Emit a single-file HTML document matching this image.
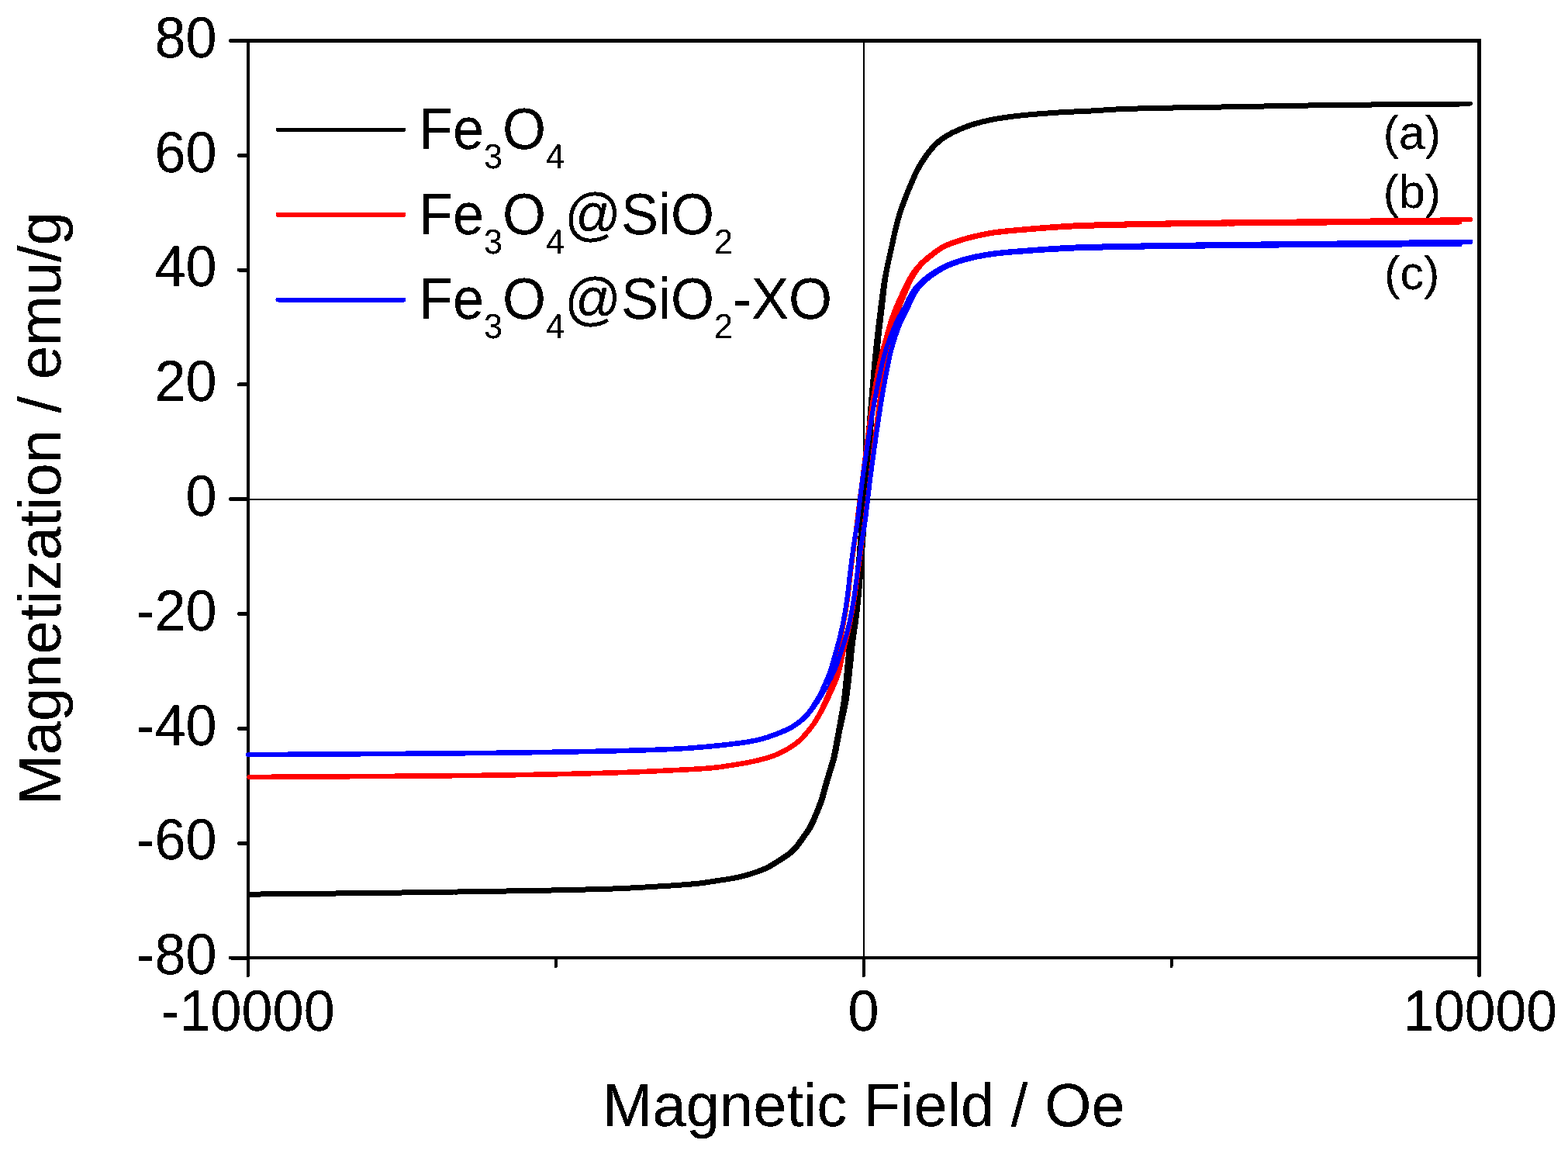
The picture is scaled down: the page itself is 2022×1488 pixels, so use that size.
<!DOCTYPE html>
<html lang="en">
<head>
<meta charset="utf-8">
<title>Magnetization curves</title>
<style>
html,body{margin:0;padding:0;background:#fff;}
body{width:2022px;height:1488px;overflow:hidden;font-family:"Liberation Sans",Arial,sans-serif;}
svg{display:block;}
</style>
</head>
<body>
<svg width="2022" height="1488" viewBox="0 0 2022 1488" shape-rendering="crispEdges" text-rendering="geometricPrecision">
<defs>
<filter id="crisp" x="0" y="0" width="2022" height="1488" filterUnits="userSpaceOnUse" color-interpolation-filters="sRGB">
<feComponentTransfer><feFuncA type="discrete" tableValues="0 0 1 1 1"/></feComponentTransfer>
</filter>
</defs>
<rect width="2022" height="1488" fill="#fff"/>
<g id="zero">
<rect x="1113" y="52" width="2" height="1183" fill="#000"/>
<rect x="320" y="642.5" width="1587" height="2" fill="#000"/>
</g>
<g id="frame">
<rect x="318" y="50" width="4" height="1187" fill="#000"/>
<rect x="1905" y="50" width="5" height="1187" fill="#000"/>
<rect x="318" y="50" width="1592" height="5" fill="#000"/>
<rect x="318" y="1233" width="1592" height="4" fill="#000"/>
<line x1="297.5" y1="52.50" x2="320" y2="52.50" stroke="#000" stroke-width="5" stroke-linecap="round"/>
<line x1="308.5" y1="200.31" x2="320" y2="200.31" stroke="#000" stroke-width="5" stroke-linecap="round"/>
<line x1="308.5" y1="348.12" x2="320" y2="348.12" stroke="#000" stroke-width="5" stroke-linecap="round"/>
<line x1="308.5" y1="495.94" x2="320" y2="495.94" stroke="#000" stroke-width="5" stroke-linecap="round"/>
<line x1="297.5" y1="643.75" x2="320" y2="643.75" stroke="#000" stroke-width="5" stroke-linecap="round"/>
<line x1="308.5" y1="791.56" x2="320" y2="791.56" stroke="#000" stroke-width="5" stroke-linecap="round"/>
<line x1="308.5" y1="939.38" x2="320" y2="939.38" stroke="#000" stroke-width="5" stroke-linecap="round"/>
<line x1="308.5" y1="1087.19" x2="320" y2="1087.19" stroke="#000" stroke-width="5" stroke-linecap="round"/>
<line x1="297.5" y1="1235.00" x2="320" y2="1235.00" stroke="#000" stroke-width="5" stroke-linecap="round"/>
<line x1="320" y1="1235" x2="320" y2="1258" stroke="#000" stroke-width="4" stroke-linecap="round"/>
<line x1="717" y1="1235" x2="717" y2="1246" stroke="#000" stroke-width="4" stroke-linecap="round"/>
<line x1="1114" y1="1235" x2="1114" y2="1258" stroke="#000" stroke-width="4" stroke-linecap="round"/>
<line x1="1510.5" y1="1235" x2="1510.5" y2="1246" stroke="#000" stroke-width="4" stroke-linecap="round"/>
<line x1="1907.5" y1="1235" x2="1907.5" y2="1257.5" stroke="#000" stroke-width="5" stroke-linecap="round"/>
</g>
<g id="curves">
<path d="M321.6 1152.6L323.1 1152.6L324.7 1152.6L326.3 1152.5L327.9 1152.5L329.4 1152.5L331.0 1152.5L332.6 1152.5L334.1 1152.5L335.7 1152.5L337.3 1152.4L338.9 1152.4L340.4 1152.4L342.0 1152.4L343.6 1152.4L345.1 1152.4L346.7 1152.4L348.3 1152.3L349.8 1152.3L351.4 1152.3L353.0 1152.3L354.6 1152.3L356.1 1152.3L357.7 1152.3L359.3 1152.2L360.8 1152.2L362.4 1152.2L364.0 1152.2L365.6 1152.2L367.1 1152.2L368.7 1152.1L370.3 1152.1L371.8 1152.1L373.4 1152.1L375.0 1152.1L376.6 1152.1L378.1 1152.0L379.7 1152.0L381.3 1152.0L382.8 1152.0L384.4 1152.0L386.0 1152.0L387.6 1152.0L389.1 1151.9L390.7 1151.9L392.3 1151.9L393.8 1151.9L395.4 1151.9L397.0 1151.9L398.5 1151.8L400.1 1151.8L401.7 1151.8L403.3 1151.8L404.8 1151.8L406.4 1151.8L408.0 1151.7L409.5 1151.7L411.1 1151.7L412.7 1151.7L414.3 1151.7L415.8 1151.7L417.4 1151.6L419.0 1151.6L420.5 1151.6L422.1 1151.6L423.7 1151.6L425.3 1151.5L426.8 1151.5L428.4 1151.5L430.0 1151.5L431.5 1151.5L433.1 1151.5L434.7 1151.4L436.2 1151.4L437.8 1151.4L439.4 1151.4L441.0 1151.4L442.5 1151.4L444.1 1151.3L445.7 1151.3L447.2 1151.3L448.8 1151.3L450.4 1151.3L452.0 1151.2L453.5 1151.2L455.1 1151.2L456.7 1151.2L458.2 1151.2L459.8 1151.2L461.4 1151.1L463.0 1151.1L464.5 1151.1L466.1 1151.1L467.7 1151.1L469.2 1151.0L470.8 1151.0L472.4 1151.0L473.9 1151.0L475.5 1151.0L477.1 1151.0L478.7 1150.9L480.2 1150.9L481.8 1150.9L483.4 1150.9L484.9 1150.9L486.5 1150.8L488.1 1150.8L489.7 1150.8L491.2 1150.8L492.8 1150.8L494.4 1150.7L495.9 1150.7L497.5 1150.7L499.1 1150.7L500.7 1150.7L502.2 1150.7L503.8 1150.6L505.4 1150.6L506.9 1150.6L508.5 1150.6L510.1 1150.6L511.7 1150.5L513.2 1150.5L514.8 1150.5L516.4 1150.5L517.9 1150.5L519.5 1150.4L521.1 1150.4L522.6 1150.4L524.2 1150.4L525.8 1150.4L527.4 1150.3L528.9 1150.3L530.5 1150.3L532.1 1150.3L533.6 1150.3L535.2 1150.2L536.8 1150.2L538.4 1150.2L539.9 1150.2L541.5 1150.1L543.1 1150.1L544.6 1150.1L546.2 1150.1L547.8 1150.1L549.4 1150.0L550.9 1150.0L552.5 1150.0L554.1 1150.0L555.6 1150.0L557.2 1149.9L558.8 1149.9L560.3 1149.9L561.9 1149.9L563.5 1149.8L565.1 1149.8L566.6 1149.8L568.2 1149.8L569.8 1149.8L571.3 1149.7L572.9 1149.7L574.5 1149.7L576.1 1149.7L577.6 1149.6L579.2 1149.6L580.8 1149.6L582.3 1149.6L583.9 1149.6L585.5 1149.5L587.1 1149.5L588.6 1149.5L590.2 1149.5L591.8 1149.4L593.3 1149.4L594.9 1149.4L596.5 1149.4L598.0 1149.3L599.6 1149.3L601.2 1149.3L602.8 1149.3L604.3 1149.3L605.9 1149.2L607.5 1149.2L609.0 1149.2L610.6 1149.2L612.2 1149.1L613.8 1149.1L615.3 1149.1L616.9 1149.1L618.5 1149.0L620.0 1149.0L621.6 1149.0L623.2 1149.0L624.8 1148.9L626.3 1148.9L627.9 1148.9L629.5 1148.9L631.0 1148.8L632.6 1148.8L634.2 1148.8L635.7 1148.8L637.3 1148.7L638.9 1148.7L640.5 1148.7L642.0 1148.7L643.6 1148.6L645.2 1148.6L646.7 1148.6L648.3 1148.5L649.9 1148.5L651.5 1148.5L653.0 1148.5L654.6 1148.4L656.2 1148.4L657.7 1148.4L659.3 1148.4L660.9 1148.3L662.5 1148.3L664.0 1148.3L665.6 1148.3L667.2 1148.2L668.7 1148.2L670.3 1148.2L671.9 1148.2L673.5 1148.1L675.0 1148.1L676.6 1148.1L678.2 1148.1L679.7 1148.0L681.3 1148.0L682.9 1148.0L684.4 1148.0L686.0 1147.9L687.6 1147.9L689.2 1147.9L690.7 1147.8L692.3 1147.8L693.9 1147.8L695.4 1147.8L697.0 1147.7L698.6 1147.7L700.2 1147.7L701.7 1147.6L703.3 1147.6L704.9 1147.6L706.4 1147.6L708.0 1147.5L709.6 1147.5L711.2 1147.5L712.7 1147.4L714.3 1147.4L715.9 1147.4L717.4 1147.3L719.0 1147.3L720.6 1147.3L722.1 1147.2L723.7 1147.2L725.3 1147.2L726.9 1147.1L728.4 1147.1L730.0 1147.1L731.6 1147.0L733.1 1147.0L734.7 1147.0L736.3 1146.9L737.9 1146.9L739.4 1146.9L741.0 1146.8L742.6 1146.8L744.1 1146.8L745.7 1146.7L747.3 1146.7L748.8 1146.6L750.4 1146.6L752.0 1146.6L753.6 1146.5L755.1 1146.5L756.7 1146.4L758.3 1146.4L759.8 1146.4L761.4 1146.3L763.0 1146.3L764.6 1146.2L766.1 1146.2L767.7 1146.2L769.3 1146.1L770.8 1146.1L772.4 1146.0L774.0 1146.0L775.5 1145.9L777.1 1145.9L778.7 1145.8L780.2 1145.8L781.8 1145.7L783.4 1145.7L785.0 1145.6L786.5 1145.6L788.1 1145.5L789.7 1145.5L791.2 1145.4L792.8 1145.3L794.4 1145.3L795.9 1145.2L797.5 1145.2L799.1 1145.1L800.7 1145.0L802.2 1145.0L803.8 1144.9L805.4 1144.8L806.9 1144.7L808.5 1144.7L810.1 1144.6L811.6 1144.5L813.2 1144.5L814.8 1144.4L816.3 1144.3L817.9 1144.2L819.5 1144.1L821.1 1144.1L822.6 1144.0L824.2 1143.9L825.8 1143.8L827.3 1143.7L828.9 1143.6L830.5 1143.5L832.0 1143.5L833.6 1143.4L835.2 1143.3L836.7 1143.2L838.3 1143.1L839.9 1143.0L841.4 1142.9L843.0 1142.8L844.6 1142.7L846.1 1142.6L847.7 1142.5L849.3 1142.4L850.8 1142.3L852.4 1142.2L854.0 1142.1L855.5 1142.0L857.1 1141.9L858.7 1141.9L860.2 1141.8L861.8 1141.7L863.4 1141.6L864.9 1141.5L866.5 1141.3L868.1 1141.2L869.6 1141.1L871.2 1141.0L872.8 1140.9L874.3 1140.8L875.9 1140.7L877.5 1140.6L879.0 1140.5L880.6 1140.4L882.2 1140.3L883.7 1140.2L885.3 1140.1L886.9 1139.9L888.4 1139.8L890.0 1139.7L891.6 1139.5L893.1 1139.4L894.7 1139.2L896.2 1139.1L897.8 1138.9L899.4 1138.8L900.9 1138.6L902.5 1138.4L904.0 1138.2L905.6 1138.0L907.1 1137.8L908.7 1137.6L910.2 1137.4L911.8 1137.1L913.3 1136.9L914.9 1136.7L916.4 1136.4L918.0 1136.2L919.5 1135.9L921.1 1135.7L922.6 1135.5L924.2 1135.2L925.7 1135.0L927.3 1134.8L928.9 1134.5L930.4 1134.3L932.0 1134.1L933.5 1133.8L935.1 1133.6L936.6 1133.4L938.2 1133.1L939.7 1132.9L941.3 1132.6L942.8 1132.4L944.3 1132.1L945.9 1131.8L947.4 1131.5L948.9 1131.2L950.5 1130.9L952.0 1130.5L953.5 1130.2L955.0 1129.8L956.6 1129.4L958.1 1129.1L959.6 1128.6L961.1 1128.2L962.6 1127.8L964.1 1127.4L965.6 1126.9L967.1 1126.5L968.6 1126.0L970.1 1125.5L971.6 1125.1L973.1 1124.6L974.6 1124.1L976.1 1123.6L977.5 1123.0L979.0 1122.5L980.5 1121.9L981.9 1121.4L983.4 1120.8L984.8 1120.2L986.2 1119.5L987.6 1118.9L989.0 1118.2L990.4 1117.5L991.8 1116.8L993.1 1116.0L994.5 1115.2L995.8 1114.4L997.1 1113.6L998.5 1112.8L999.8 1111.9L1001.1 1111.1L1002.4 1110.3L1003.7 1109.4L1005.1 1108.6L1006.4 1107.7L1007.7 1106.9L1009.0 1106.0L1010.3 1105.2L1011.6 1104.3L1012.9 1103.4L1014.2 1102.5L1015.4 1101.6L1016.6 1100.7L1017.8 1099.7L1019.0 1098.7L1020.2 1097.6L1021.3 1096.6L1022.4 1095.5L1023.5 1094.4L1024.5 1093.2L1025.6 1092.1L1026.6 1090.9L1027.6 1089.7L1028.6 1088.5L1029.5 1087.2L1030.4 1085.9L1031.4 1084.7L1032.3 1083.4L1033.2 1082.1L1034.1 1080.8L1035.0 1079.5L1035.9 1078.3L1036.8 1077.0L1037.7 1075.7L1038.6 1074.4L1039.5 1073.1L1040.3 1071.8L1041.2 1070.5L1042.0 1069.2L1042.9 1067.9L1043.6 1066.5L1044.4 1065.2L1045.1 1063.8L1045.9 1062.4L1046.5 1061.0L1047.2 1059.6L1047.9 1058.2L1048.5 1056.7L1049.1 1055.3L1049.7 1053.8L1050.3 1052.4L1051.0 1050.9L1051.6 1049.5L1052.2 1048.0L1052.8 1046.6L1053.4 1045.1L1053.9 1043.7L1054.5 1042.2L1055.1 1040.8L1055.7 1039.3L1056.2 1037.8L1056.8 1036.4L1057.3 1034.9L1057.9 1033.4L1058.4 1032.0L1058.9 1030.5L1059.3 1029.0L1059.8 1027.5L1060.2 1026.0L1060.6 1024.5L1061.0 1022.9L1061.4 1021.4L1061.8 1019.9L1062.2 1018.4L1062.6 1016.9L1063.0 1015.4L1063.4 1013.8L1063.9 1012.3L1064.3 1010.8L1064.8 1009.3L1065.2 1007.8L1065.7 1006.3L1066.1 1004.8L1066.6 1003.3L1067.0 1001.8L1067.5 1000.3L1067.9 998.8L1068.4 997.3L1068.8 995.8L1069.2 994.3L1069.7 992.8L1070.1 991.3L1070.6 989.8L1071.1 988.3L1071.5 986.8L1072.0 985.3L1072.4 983.8L1072.9 982.3L1073.3 980.8L1073.7 979.2L1074.1 977.7L1074.5 976.2L1074.8 974.7L1075.2 973.2L1075.5 971.6L1075.8 970.1L1076.1 968.6L1076.4 967.0L1076.7 965.5L1077.0 963.9L1077.3 962.4L1077.6 960.8L1077.9 959.3L1078.2 957.7L1078.4 956.2L1078.7 954.6L1079.0 953.1L1079.3 951.6L1079.6 950.0L1079.9 948.5L1080.2 946.9L1080.5 945.4L1080.7 943.8L1081.0 942.3L1081.3 940.7L1081.6 939.2L1081.8 937.7L1082.1 936.1L1082.4 934.6L1082.6 933.0L1082.9 931.5L1083.2 930.0L1083.5 928.4L1083.7 926.9L1084.0 925.3L1084.3 923.8L1084.6 922.2L1084.8 920.7L1085.1 919.2L1085.4 917.6L1085.7 916.1L1086.0 914.5L1086.2 913.0L1086.5 911.5L1086.8 909.9L1087.0 908.4L1087.3 906.8L1087.5 905.3L1087.7 903.7L1087.9 902.2L1088.1 900.6L1088.3 899.1L1088.5 897.5L1088.7 896.0L1088.9 894.4L1089.1 892.9L1089.2 891.3L1089.4 889.7L1089.5 888.2L1089.7 886.6L1089.8 885.1L1090.0 883.5L1090.1 881.9L1090.3 880.4L1090.4 878.8L1090.6 877.2L1090.7 875.7L1090.8 874.1L1091.0 872.5L1091.1 871.0L1091.3 869.4L1091.5 867.8L1091.6 866.3L1091.8 864.7L1091.9 863.2L1092.1 861.6L1092.2 860.0L1092.4 858.5L1092.5 856.9L1092.7 855.3L1092.8 853.8L1093.0 852.2L1093.2 850.6L1093.3 849.1L1093.5 847.5L1093.6 846.0L1093.8 844.4L1093.9 842.8L1094.1 841.3L1094.2 839.7L1094.4 838.1L1094.6 836.6L1094.7 835.0L1094.9 833.5L1095.1 831.9L1095.3 830.3L1095.5 828.8L1095.7 827.2L1095.9 825.7L1096.1 824.1L1096.3 822.5L1096.5 821.0L1096.7 819.4L1096.9 817.9L1097.2 816.3L1097.4 814.8L1097.6 813.2L1097.9 811.7L1098.1 810.1L1098.3 808.6L1098.6 807.0L1098.8 805.4L1099.0 803.9L1099.3 802.3L1099.5 800.8L1099.7 799.2L1099.9 797.7L1100.1 796.1L1100.3 794.6L1100.5 793.0L1100.7 791.4L1100.9 789.9L1101.1 788.3L1101.3 786.8L1101.4 785.2L1101.6 783.6L1101.8 782.1L1101.9 780.5L1102.1 779.0L1102.3 777.4L1102.4 775.8L1102.6 774.3L1102.7 772.7L1102.9 771.1L1103.0 769.6L1103.2 768.0L1103.3 766.4L1103.5 764.9L1103.6 763.3L1103.8 761.8L1103.9 760.2L1104.0 758.6L1104.2 757.1L1104.3 755.5L1104.5 753.9L1104.6 752.4L1104.7 750.8L1104.9 749.2L1105.0 747.7L1105.1 746.1L1105.3 744.5L1105.4 743.0L1105.5 741.4L1105.7 739.8L1105.8 738.3L1105.9 736.7L1106.1 735.1L1106.2 733.6L1106.3 732.0L1106.4 730.4L1106.6 728.9L1106.7 727.3L1106.8 725.7L1107.0 724.2L1107.1 722.6L1107.2 721.0L1107.3 719.5L1107.5 717.9L1107.6 716.3L1107.7 714.8L1107.8 713.2L1108.0 711.6L1108.1 710.1L1108.2 708.5L1108.3 706.9L1108.4 705.4L1108.6 703.8L1108.7 702.2L1108.8 700.7L1108.9 699.1L1109.0 697.5L1109.2 696.0L1109.3 694.4L1109.4 692.8L1109.5 691.3L1109.6 689.7L1109.8 688.1L1109.9 686.6L1110.0 685.0L1110.1 683.4L1110.2 681.9L1110.3 680.3L1110.5 678.7L1110.6 677.2L1110.7 675.6L1110.8 674.0L1110.9 672.5L1111.1 670.9L1111.2 669.3L1111.3 667.8L1111.4 666.2L1111.5 664.6L1111.7 663.1L1111.8 661.5L1111.9 659.9L1112.0 658.4L1112.1 656.8L1112.3 655.2L1112.4 653.7L1112.5 652.1L1112.6 650.5L1112.8 649.0L1112.9 647.4L1113.0 645.8L1113.1 644.3L1113.2 642.7L1113.4 641.1L1113.5 639.6L1113.6 638.0L1113.7 636.4L1113.9 634.9L1114.0 633.3L1114.1 631.7L1114.2 630.2L1114.4 628.6L1114.5 627.0L1114.6 625.5L1114.7 623.9L1114.8 622.3L1115.0 620.8L1115.1 619.2L1115.2 617.6L1115.3 616.1L1115.4 614.5L1115.6 612.9L1115.7 611.4L1115.8 609.8L1115.9 608.2L1116.1 606.7L1116.2 605.1L1116.3 603.5L1116.4 602.0L1116.5 600.4L1116.7 598.8L1116.8 597.3L1116.9 595.7L1117.0 594.1L1117.1 592.6L1117.3 591.0L1117.4 589.4L1117.5 587.9L1117.6 586.3L1117.7 584.7L1117.9 583.2L1118.0 581.6L1118.1 580.0L1118.2 578.5L1118.3 576.9L1118.5 575.3L1118.6 573.8L1118.7 572.2L1118.8 570.6L1118.9 569.1L1119.1 567.5L1119.2 565.9L1119.3 564.4L1119.4 562.8L1119.6 561.2L1119.7 559.7L1119.8 558.1L1119.9 556.5L1120.0 555.0L1120.2 553.4L1120.3 551.8L1120.4 550.3L1120.5 548.7L1120.7 547.1L1120.8 545.6L1120.9 544.0L1121.0 542.4L1121.2 540.9L1121.3 539.3L1121.4 537.7L1121.5 536.2L1121.7 534.6L1121.8 533.0L1121.9 531.5L1122.0 529.9L1122.2 528.3L1122.3 526.8L1122.4 525.2L1122.6 523.6L1122.7 522.1L1122.8 520.5L1122.9 518.9L1123.1 517.4L1123.2 515.8L1123.3 514.2L1123.5 512.7L1123.6 511.1L1123.7 509.5L1123.9 508.0L1124.0 506.4L1124.1 504.8L1124.3 503.3L1124.4 501.7L1124.5 500.1L1124.7 498.6L1124.8 497.0L1124.9 495.5L1125.1 493.9L1125.2 492.3L1125.3 490.8L1125.5 489.2L1125.6 487.6L1125.7 486.1L1125.9 484.5L1126.0 482.9L1126.2 481.4L1126.3 479.8L1126.4 478.2L1126.6 476.7L1126.7 475.1L1126.9 473.5L1127.0 472.0L1127.1 470.4L1127.3 468.8L1127.4 467.3L1127.6 465.7L1127.7 464.2L1127.9 462.6L1128.0 461.0L1128.2 459.5L1128.3 457.9L1128.5 456.3L1128.6 454.8L1128.8 453.2L1128.9 451.6L1129.1 450.1L1129.3 448.5L1129.4 447.0L1129.6 445.4L1129.7 443.8L1129.9 442.3L1130.1 440.7L1130.2 439.1L1130.4 437.6L1130.6 436.0L1130.8 434.5L1130.9 432.9L1131.1 431.3L1131.3 429.8L1131.5 428.2L1131.6 426.7L1131.8 425.1L1132.0 423.5L1132.2 422.0L1132.4 420.4L1132.6 418.8L1132.7 417.3L1132.9 415.7L1133.1 414.2L1133.3 412.6L1133.5 411.0L1133.7 409.5L1133.9 407.9L1134.1 406.4L1134.3 404.8L1134.5 403.2L1134.6 401.7L1134.8 400.1L1135.0 398.6L1135.2 397.0L1135.4 395.4L1135.6 393.9L1135.8 392.3L1136.0 390.8L1136.2 389.2L1136.4 387.6L1136.6 386.1L1136.8 384.5L1137.0 383.0L1137.2 381.4L1137.4 379.8L1137.6 378.3L1137.9 376.7L1138.1 375.2L1138.3 373.6L1138.5 372.0L1138.8 370.5L1139.0 368.9L1139.2 367.4L1139.5 365.8L1139.7 364.3L1140.0 362.7L1140.2 361.2L1140.5 359.6L1140.8 358.1L1141.1 356.5L1141.4 355.0L1141.7 353.4L1142.0 351.9L1142.3 350.3L1142.6 348.8L1142.9 347.3L1143.2 345.7L1143.6 344.2L1143.9 342.6L1144.2 341.1L1144.5 339.6L1144.9 338.0L1145.2 336.5L1145.5 335.0L1145.9 333.4L1146.2 331.9L1146.5 330.3L1146.9 328.8L1147.2 327.3L1147.6 325.7L1147.9 324.2L1148.2 322.7L1148.6 321.1L1148.9 319.6L1149.3 318.1L1149.6 316.5L1149.9 315.0L1150.3 313.5L1150.6 311.9L1150.9 310.4L1151.3 308.8L1151.6 307.3L1151.9 305.8L1152.3 304.2L1152.6 302.7L1153.0 301.2L1153.3 299.6L1153.7 298.1L1154.0 296.6L1154.4 295.0L1154.7 293.5L1155.1 292.0L1155.5 290.5L1155.9 288.9L1156.2 287.4L1156.6 285.9L1157.0 284.4L1157.5 282.9L1157.9 281.4L1158.3 279.9L1158.8 278.4L1159.2 276.9L1159.7 275.4L1160.1 273.9L1160.6 272.4L1161.1 270.9L1161.6 269.4L1162.1 267.9L1162.7 266.4L1163.2 264.9L1163.7 263.5L1164.3 262.0L1164.8 260.5L1165.4 259.0L1165.9 257.6L1166.5 256.1L1167.0 254.6L1167.6 253.2L1168.2 251.7L1168.7 250.2L1169.3 248.8L1169.9 247.3L1170.5 245.9L1171.1 244.4L1171.7 242.9L1172.3 241.5L1172.9 240.0L1173.5 238.6L1174.1 237.2L1174.7 235.7L1175.4 234.3L1176.0 232.8L1176.6 231.4L1177.2 229.9L1177.9 228.5L1178.5 227.1L1179.2 225.6L1179.8 224.2L1180.5 222.8L1181.2 221.4L1181.9 220.0L1182.6 218.6L1183.3 217.2L1184.1 215.8L1184.8 214.4L1185.6 213.1L1186.4 211.7L1187.2 210.4L1188.0 209.0L1188.9 207.7L1189.7 206.4L1190.6 205.1L1191.5 203.8L1192.4 202.5L1193.2 201.2L1194.2 199.9L1195.1 198.6L1196.0 197.3L1197.0 196.1L1197.9 194.8L1198.9 193.6L1199.9 192.4L1200.9 191.2L1201.9 190.0L1203.0 188.8L1204.1 187.7L1205.2 186.6L1206.3 185.5L1207.4 184.4L1208.6 183.4L1209.8 182.3L1211.0 181.3L1212.3 180.4L1213.5 179.4L1214.8 178.5L1216.1 177.6L1217.4 176.7L1218.7 175.8L1220.0 175.0L1221.4 174.2L1222.8 173.4L1224.1 172.6L1225.5 171.9L1226.9 171.1L1228.3 170.4L1229.7 169.7L1231.2 169.1L1232.6 168.4L1234.0 167.7L1235.5 167.1L1236.9 166.5L1238.4 165.9L1239.8 165.3L1241.3 164.7L1242.8 164.1L1244.2 163.5L1245.7 163.0L1247.2 162.4L1248.7 161.9L1250.2 161.4L1251.6 160.8L1253.1 160.4L1254.6 159.9L1256.1 159.4L1257.6 159.0L1259.2 158.5L1260.7 158.1L1262.2 157.7L1263.7 157.3L1265.2 156.9L1266.8 156.5L1268.3 156.1L1269.8 155.8L1271.4 155.4L1272.9 155.1L1274.4 154.7L1276.0 154.4L1277.5 154.1L1279.1 153.8L1280.6 153.5L1282.2 153.2L1283.7 152.9L1285.3 152.6L1286.8 152.4L1288.4 152.1L1289.9 151.9L1291.5 151.6L1293.0 151.4L1294.6 151.2L1296.1 150.9L1297.7 150.7L1299.2 150.5L1300.8 150.3L1302.4 150.1L1303.9 149.9L1305.5 149.7L1307.0 149.5L1308.6 149.4L1310.2 149.2L1311.7 149.0L1313.3 148.8L1314.9 148.6L1316.4 148.5L1318.0 148.3L1319.6 148.2L1321.1 148.0L1322.7 147.8L1324.3 147.7L1325.8 147.5L1327.4 147.4L1329.0 147.3L1330.5 147.1L1332.1 147.0L1333.7 146.8L1335.2 146.7L1336.8 146.6L1338.4 146.4L1339.9 146.3L1341.5 146.2L1343.1 146.1L1344.6 145.9L1346.2 145.8L1347.8 145.7L1349.3 145.6L1350.9 145.5L1352.5 145.3L1354.0 145.2L1355.6 145.1L1357.2 145.0L1358.7 144.9L1360.3 144.8L1361.9 144.7L1363.5 144.6L1365.0 144.5L1366.6 144.4L1368.2 144.3L1369.7 144.2L1371.3 144.1L1372.9 144.0L1374.4 144.0L1376.0 143.9L1377.6 143.8L1379.1 143.7L1380.7 143.7L1382.3 143.6L1383.9 143.5L1385.4 143.5L1387.0 143.4L1388.6 143.3L1390.1 143.3L1391.7 143.2L1393.3 143.1L1394.9 143.1L1396.4 143.0L1398.0 142.9L1399.6 142.9L1401.1 142.8L1402.7 142.7L1404.3 142.6L1405.8 142.6L1407.4 142.5L1409.0 142.4L1410.5 142.3L1412.1 142.2L1413.7 142.1L1415.2 142.0L1416.8 141.9L1418.4 141.8L1419.9 141.7L1421.5 141.6L1423.1 141.5L1424.7 141.4L1426.2 141.2L1427.8 141.1L1429.4 141.0L1430.9 140.9L1432.5 140.8L1434.1 140.7L1435.6 140.6L1437.2 140.6L1438.8 140.5L1440.3 140.4L1441.9 140.3L1443.5 140.2L1445.0 140.2L1446.6 140.1L1448.2 140.0L1449.7 140.0L1451.3 139.9L1452.9 139.9L1454.5 139.8L1456.0 139.8L1457.6 139.7L1459.2 139.7L1460.7 139.6L1462.3 139.6L1463.9 139.5L1465.4 139.5L1467.0 139.5L1468.6 139.4L1470.2 139.4L1471.7 139.3L1473.3 139.3L1474.9 139.3L1476.4 139.2L1478.0 139.2L1479.6 139.1L1481.1 139.1L1482.7 139.1L1484.3 139.0L1485.9 139.0L1487.4 139.0L1489.0 138.9L1490.6 138.9L1492.1 138.9L1493.7 138.8L1495.3 138.8L1496.8 138.8L1498.4 138.7L1500.0 138.7L1501.6 138.7L1503.1 138.6L1504.7 138.6L1506.3 138.6L1507.8 138.6L1509.4 138.5L1511.0 138.5L1512.6 138.5L1514.1 138.4L1515.7 138.4L1517.3 138.4L1518.8 138.4L1520.4 138.3L1522.0 138.3L1523.6 138.3L1525.1 138.2L1526.7 138.2L1528.3 138.2L1529.8 138.2L1531.4 138.1L1533.0 138.1L1534.5 138.1L1536.1 138.1L1537.7 138.0L1539.3 138.0L1540.8 138.0L1542.4 138.0L1544.0 137.9L1545.5 137.9L1547.1 137.9L1548.7 137.9L1550.3 137.9L1551.8 137.8L1553.4 137.8L1555.0 137.8L1556.5 137.8L1558.1 137.7L1559.7 137.7L1561.3 137.7L1562.8 137.7L1564.4 137.6L1566.0 137.6L1567.5 137.6L1569.1 137.6L1570.7 137.5L1572.3 137.5L1573.8 137.5L1575.4 137.5L1577.0 137.4L1578.5 137.4L1580.1 137.4L1581.7 137.4L1583.3 137.3L1584.8 137.3L1586.4 137.3L1588.0 137.3L1589.5 137.2L1591.1 137.2L1592.7 137.2L1594.3 137.1L1595.8 137.1L1597.4 137.1L1599.0 137.1L1600.5 137.0L1602.1 137.0L1603.7 137.0L1605.2 136.9L1606.8 136.9L1608.4 136.9L1610.0 136.9L1611.5 136.8L1613.1 136.8L1614.7 136.8L1616.2 136.7L1617.8 136.7L1619.4 136.7L1621.0 136.6L1622.5 136.6L1624.1 136.6L1625.7 136.6L1627.2 136.5L1628.8 136.5L1630.4 136.5L1631.9 136.4L1633.5 136.4L1635.1 136.4L1636.7 136.4L1638.2 136.3L1639.8 136.3L1641.4 136.3L1642.9 136.2L1644.5 136.2L1646.1 136.2L1647.7 136.1L1649.2 136.1L1650.8 136.1L1652.4 136.1L1653.9 136.0L1655.5 136.0L1657.1 136.0L1658.7 135.9L1660.2 135.9L1661.8 135.9L1663.4 135.9L1664.9 135.8L1666.5 135.8L1668.1 135.8L1669.6 135.7L1671.2 135.7L1672.8 135.7L1674.4 135.7L1675.9 135.6L1677.5 135.6L1679.1 135.6L1680.6 135.6L1682.2 135.5L1683.8 135.5L1685.4 135.5L1686.9 135.5L1688.5 135.4L1690.1 135.4L1691.6 135.4L1693.2 135.4L1694.8 135.3L1696.3 135.3L1697.9 135.3L1699.5 135.3L1701.1 135.2L1702.6 135.2L1704.2 135.2L1705.8 135.2L1707.3 135.2L1708.9 135.1L1710.5 135.1L1712.1 135.1L1713.6 135.1L1715.2 135.1L1716.8 135.0L1718.3 135.0L1719.9 135.0L1721.5 135.0L1723.1 135.0L1724.6 134.9L1726.2 134.9L1727.8 134.9L1729.3 134.9L1730.9 134.9L1732.5 134.9L1734.0 134.8L1735.6 134.8L1737.2 134.8L1738.8 134.8L1740.3 134.8L1741.9 134.8L1743.5 134.7L1745.0 134.7L1746.6 134.7L1748.2 134.7L1749.8 134.7L1751.3 134.6L1752.9 134.6L1754.5 134.6L1756.0 134.6L1757.6 134.6L1759.2 134.6L1760.8 134.5L1762.3 134.5L1763.9 134.5L1765.5 134.5L1767.0 134.5L1768.6 134.5L1770.2 134.4L1771.8 134.4L1773.3 134.4L1774.9 134.4L1776.5 134.4L1778.0 134.4L1779.6 134.4L1781.2 134.3L1782.7 134.3L1784.3 134.3L1785.9 134.3L1787.5 134.3L1789.0 134.3L1790.6 134.2L1792.2 134.2L1793.7 134.2L1795.3 134.2L1796.9 134.2L1798.5 134.2L1800.0 134.2L1801.6 134.1L1803.2 134.1L1804.7 134.1L1806.3 134.1L1807.9 134.1L1809.5 134.1L1811.0 134.1L1812.6 134.0L1814.2 134.0L1815.7 134.0L1817.3 134.0L1818.9 134.0L1820.4 134.0L1822.0 134.0L1823.6 133.9L1825.2 133.9L1826.7 133.9L1828.3 133.9L1829.9 133.9L1831.4 133.9L1833.0 133.9L1834.6 133.9L1836.2 133.8L1837.7 133.8L1839.3 133.8L1840.9 133.8L1842.4 133.8L1844.0 133.8L1845.6 133.8L1847.2 133.8L1848.7 133.8L1850.3 133.7L1851.9 133.7L1853.4 133.7L1855.0 133.7L1856.6 133.7L1858.2 133.7L1859.7 133.7L1861.3 133.7L1862.9 133.7L1864.4 133.7L1866.0 133.7L1867.6 133.6L1869.2 133.6L1870.7 133.6L1872.3 133.6L1873.9 133.6L1875.4 133.6L1877.0 133.6L1878.6 133.6L1880.1 133.6L1881.7 133.6L1883.3 133.6L1884.9 133.6L1886.4 133.5L1888.0 133.5L1889.6 133.5L1891.1 133.5L1892.7 133.5L1894.3 133.5L1895.9 133.5" fill="none" stroke="#000" stroke-width="6" stroke-linecap="round" stroke-linejoin="round"/>
<path d="M321.6 1153.6L323.1 1153.6L324.7 1153.6L326.3 1153.5L327.9 1153.5L329.4 1153.5L331.0 1153.5L332.6 1153.5L334.1 1153.5L335.7 1153.5L337.3 1153.4L338.9 1153.4L340.4 1153.4L342.0 1153.4L343.6 1153.4L345.1 1153.4L346.7 1153.4L348.3 1153.3L349.8 1153.3L351.4 1153.3L353.0 1153.3L354.6 1153.3L356.1 1153.3L357.7 1153.3L359.3 1153.2L360.8 1153.2L362.4 1153.2L364.0 1153.2L365.6 1153.2L367.1 1153.2L368.7 1153.1L370.3 1153.1L371.8 1153.1L373.4 1153.1L375.0 1153.1L376.6 1153.1L378.1 1153.0L379.7 1153.0L381.3 1153.0L382.8 1153.0L384.4 1153.0L386.0 1153.0L387.6 1153.0L389.1 1152.9L390.7 1152.9L392.3 1152.9L393.8 1152.9L395.4 1152.9L397.0 1152.9L398.5 1152.8L400.1 1152.8L401.7 1152.8L403.3 1152.8L404.8 1152.8L406.4 1152.8L408.0 1152.7L409.5 1152.7L411.1 1152.7L412.7 1152.7L414.3 1152.7L415.8 1152.7L417.4 1152.6L419.0 1152.6L420.5 1152.6L422.1 1152.6L423.7 1152.6L425.3 1152.5L426.8 1152.5L428.4 1152.5L430.0 1152.5L431.5 1152.5L433.1 1152.5L434.7 1152.4L436.2 1152.4L437.8 1152.4L439.4 1152.4L441.0 1152.4L442.5 1152.4L444.1 1152.3L445.7 1152.3L447.2 1152.3L448.8 1152.3L450.4 1152.3L452.0 1152.2L453.5 1152.2L455.1 1152.2L456.7 1152.2L458.2 1152.2L459.8 1152.2L461.4 1152.1L463.0 1152.1L464.5 1152.1L466.1 1152.1L467.7 1152.1L469.2 1152.0L470.8 1152.0L472.4 1152.0L473.9 1152.0L475.5 1152.0L477.1 1152.0L478.7 1151.9L480.2 1151.9L481.8 1151.9L483.4 1151.9L484.9 1151.9L486.5 1151.8L488.1 1151.8L489.7 1151.8L491.2 1151.8L492.8 1151.8L494.4 1151.7L495.9 1151.7L497.5 1151.7L499.1 1151.7L500.7 1151.7L502.2 1151.7L503.8 1151.6L505.4 1151.6L506.9 1151.6L508.5 1151.6L510.1 1151.6L511.7 1151.5L513.2 1151.5L514.8 1151.5L516.4 1151.5L517.9 1151.5L519.5 1151.4L521.1 1151.4L522.6 1151.4L524.2 1151.4L525.8 1151.4L527.4 1151.3L528.9 1151.3L530.5 1151.3L532.1 1151.3L533.6 1151.3L535.2 1151.2L536.8 1151.2L538.4 1151.2L539.9 1151.2L541.5 1151.1L543.1 1151.1L544.6 1151.1L546.2 1151.1L547.8 1151.1L549.4 1151.0L550.9 1151.0L552.5 1151.0L554.1 1151.0L555.6 1151.0L557.2 1150.9L558.8 1150.9L560.3 1150.9L561.9 1150.9L563.5 1150.8L565.1 1150.8L566.6 1150.8L568.2 1150.8L569.8 1150.8L571.3 1150.7L572.9 1150.7L574.5 1150.7L576.1 1150.7L577.6 1150.6L579.2 1150.6L580.8 1150.6L582.3 1150.6L583.9 1150.6L585.5 1150.5L587.1 1150.5L588.6 1150.5L590.2 1150.5L591.8 1150.4L593.3 1150.4L594.9 1150.4L596.5 1150.4L598.0 1150.3L599.6 1150.3L601.2 1150.3L602.8 1150.3L604.3 1150.3L605.9 1150.2L607.5 1150.2L609.0 1150.2L610.6 1150.2L612.2 1150.1L613.8 1150.1L615.3 1150.1L616.9 1150.1L618.5 1150.0L620.0 1150.0L621.6 1150.0L623.2 1150.0L624.8 1149.9L626.3 1149.9L627.9 1149.9L629.5 1149.9L631.0 1149.8L632.6 1149.8L634.2 1149.8L635.7 1149.8L637.3 1149.7L638.9 1149.7L640.5 1149.7L642.0 1149.7L643.6 1149.6L645.2 1149.6L646.7 1149.6L648.3 1149.5L649.9 1149.5L651.5 1149.5L653.0 1149.5L654.6 1149.4L656.2 1149.4L657.7 1149.4L659.3 1149.4L660.9 1149.3L662.5 1149.3L664.0 1149.3L665.6 1149.3L667.2 1149.2L668.7 1149.2L670.3 1149.2L671.9 1149.2L673.5 1149.1L675.0 1149.1L676.6 1149.1L678.2 1149.1L679.7 1149.0L681.3 1149.0L682.9 1149.0L684.4 1149.0L686.0 1148.9L687.6 1148.9L689.2 1148.9L690.7 1148.8L692.3 1148.8L693.9 1148.8L695.4 1148.8L697.0 1148.7L698.6 1148.7L700.2 1148.7L701.7 1148.6L703.3 1148.6L704.9 1148.6L706.4 1148.6L708.0 1148.5L709.6 1148.5L711.2 1148.5L712.7 1148.4L714.3 1148.4L715.9 1148.4L717.4 1148.3L719.0 1148.3L720.6 1148.3L722.1 1148.2L723.7 1148.2L725.3 1148.2L726.9 1148.1L728.4 1148.1L730.0 1148.1L731.6 1148.0L733.1 1148.0L734.7 1148.0L736.3 1147.9L737.9 1147.9L739.4 1147.9L741.0 1147.8L742.6 1147.8L744.1 1147.8L745.7 1147.7L747.3 1147.7L748.8 1147.6L750.4 1147.6L752.0 1147.6L753.6 1147.5L755.1 1147.5L756.7 1147.4L758.3 1147.4L759.8 1147.4L761.4 1147.3L763.0 1147.3L764.6 1147.2L766.1 1147.2L767.7 1147.2L769.3 1147.1L770.8 1147.1L772.4 1147.0L774.0 1147.0L775.5 1146.9L777.1 1146.9L778.7 1146.8L780.2 1146.8L781.8 1146.7L783.4 1146.7L785.0 1146.6L786.5 1146.6L788.1 1146.5L789.7 1146.5L791.2 1146.4L792.8 1146.3L794.4 1146.3L795.9 1146.2L797.5 1146.2L799.1 1146.1L800.7 1146.0L802.2 1146.0L803.8 1145.9L805.4 1145.8L806.9 1145.7L808.5 1145.7L810.1 1145.6L811.6 1145.5L813.2 1145.5L814.8 1145.4L816.3 1145.3L817.9 1145.2L819.5 1145.1L821.1 1145.1L822.6 1145.0L824.2 1144.9L825.8 1144.8L827.3 1144.7L828.9 1144.6L830.5 1144.5L832.0 1144.5L833.6 1144.4L835.2 1144.3L836.7 1144.2L838.3 1144.1L839.9 1144.0L841.5 1143.9L843.0 1143.8L844.6 1143.7L846.2 1143.6L847.7 1143.5L849.3 1143.4L850.9 1143.3L852.4 1143.2L854.0 1143.1L855.6 1143.0L857.2 1142.9L858.7 1142.9L860.3 1142.8L861.9 1142.7L863.4 1142.6L865.0 1142.5L866.6 1142.3L868.1 1142.2L869.7 1142.1L871.3 1142.0L872.8 1141.9L874.4 1141.8L876.0 1141.7L877.6 1141.6L879.1 1141.5L880.7 1141.4L882.3 1141.3L883.8 1141.2L885.4 1141.1L887.0 1140.9L888.5 1140.8L890.1 1140.7L891.7 1140.5L893.2 1140.4L894.8 1140.2L896.4 1140.1L897.9 1139.9L899.5 1139.8L901.1 1139.6L902.6 1139.4L904.2 1139.2L905.7 1139.0L907.3 1138.8L908.9 1138.6L910.4 1138.4L912.0 1138.1L913.5 1137.9L915.1 1137.7L916.6 1137.4L918.2 1137.2L919.8 1136.9L921.3 1136.7L922.9 1136.5L924.4 1136.2L926.0 1136.0L927.5 1135.8L929.1 1135.5L930.7 1135.3L932.2 1135.1L933.8 1134.8L935.3 1134.6L936.9 1134.4L938.4 1134.1L940.0 1133.9L941.6 1133.6L943.1 1133.4L944.7 1133.1L946.2 1132.8L947.7 1132.5L949.3 1132.2L950.8 1131.9L952.4 1131.5L953.9 1131.2L955.4 1130.8L957.0 1130.4L958.5 1130.1L960.0 1129.6L961.5 1129.2L963.0 1128.8L964.6 1128.4L966.1 1127.9L967.6 1127.5L969.1 1127.0L970.6 1126.5L972.1 1126.1L973.6 1125.6L975.1 1125.1L976.6 1124.6L978.1 1124.0L979.6 1123.5L981.1 1122.9L982.5 1122.4L984.0 1121.8L985.4 1121.2L986.9 1120.5L988.3 1119.9L989.7 1119.2L991.1 1118.5L992.5 1117.8L993.9 1117.0L995.3 1116.2L996.6 1115.4L998.0 1114.6L999.3 1113.8L1000.7 1112.9L1002.0 1112.1L1003.3 1111.3L1004.7 1110.4L1006.0 1109.6L1007.4 1108.7L1008.7 1107.9L1010.0 1107.0L1011.4 1106.2L1012.7 1105.3L1014.0 1104.4L1015.3 1103.5L1016.6 1102.6L1017.8 1101.7L1019.1 1100.7L1020.3 1099.7L1021.4 1098.6L1022.6 1097.6L1023.7 1096.5L1024.9 1095.4L1025.9 1094.2L1027.0 1093.1L1028.0 1091.9L1029.0 1090.7L1030.0 1089.5L1030.9 1088.2L1031.9 1086.9L1032.8 1085.7L1033.7 1084.4L1034.6 1083.1L1035.5 1081.8L1036.4 1080.5L1037.3 1079.3L1038.2 1078.0L1039.1 1076.7L1040.0 1075.4L1040.9 1074.1L1041.8 1072.8L1042.7 1071.5L1043.5 1070.2L1044.4 1068.9L1045.2 1067.5L1045.9 1066.2L1046.7 1064.8L1047.4 1063.4L1048.1 1062.0L1048.7 1060.6L1049.4 1059.2L1050.0 1057.7L1050.7 1056.3L1051.3 1054.8L1051.9 1053.4L1052.5 1051.9L1053.1 1050.5L1053.7 1049.0L1054.3 1047.6L1054.9 1046.1L1055.5 1044.7L1056.1 1043.2L1056.7 1041.8L1057.3 1040.3L1057.9 1038.8L1058.4 1037.4L1059.0 1035.9L1059.5 1034.4L1060.0 1033.0L1060.5 1031.5L1061.0 1030.0L1061.4 1028.5L1061.9 1027.0L1062.3 1025.5L1062.7 1023.9L1063.1 1022.4L1063.5 1020.9L1063.9 1019.4L1064.3 1017.9L1064.7 1016.4L1065.2 1014.8L1065.6 1013.3L1066.1 1011.8L1066.5 1010.3L1067.0 1008.8L1067.4 1007.3L1067.9 1005.8L1068.3 1004.3L1068.8 1002.8L1069.3 1001.3L1069.7 999.8L1070.1 998.3L1070.6 996.8L1071.0 995.3L1071.5 993.8L1072.0 992.3L1072.4 990.8L1072.9 989.3L1073.3 987.8L1073.8 986.3L1074.3 984.8L1074.7 983.3L1075.1 981.8L1075.5 980.2L1076.0 978.7L1076.3 977.2L1076.7 975.7L1077.1 974.2L1077.4 972.6L1077.7 971.1L1078.0 969.6L1078.4 968.0L1078.7 966.5L1078.9 964.9L1079.2 963.4L1079.5 961.8L1079.8 960.3L1080.1 958.7L1080.4 957.2L1080.7 955.6L1081.0 954.1L1081.3 952.6L1081.6 951.0L1081.8 949.5L1082.1 947.9L1082.4 946.4L1082.7 944.8L1083.1 943.3L1083.4 941.7L1083.7 940.2L1084.1 938.7L1084.4 937.1L1084.7 935.6L1085.0 934.0L1085.4 932.5L1085.7 931.0L1086.0 929.4L1086.4 927.9L1086.7 926.3L1087.1 924.8L1087.4 923.2L1087.7 921.7L1088.1 920.2L1088.4 918.6L1088.8 917.1L1089.1 915.5L1089.4 914.0L1089.8 912.5L1090.1 910.9L1090.4 909.4L1090.7 907.8L1091.0 906.3L1091.3 904.7L1091.6 903.2L1091.8 901.6L1092.1 900.1L1092.3 898.5L1092.5 897.0L1092.7 895.4L1092.9 893.9L1093.2 892.3L1093.4 890.7L1093.5 889.2L1093.7 887.6L1093.9 886.1L1094.1 884.5L1094.3 882.9L1094.5 881.4L1094.7 879.8L1094.8 878.2L1095.0 876.7L1095.2 875.1L1095.4 873.5L1095.5 872.0L1095.7 870.4L1095.9 868.8L1096.0 867.3L1096.2 865.7L1096.3 864.2L1096.5 862.6L1096.6 861.0L1096.8 859.5L1096.9 857.9L1097.1 856.3L1097.2 854.8L1097.4 853.2L1097.6 851.6L1097.7 850.1L1097.9 848.5L1098.0 847.0L1098.2 845.4L1098.3 843.8L1098.5 842.3L1098.6 840.7L1098.8 839.1L1099.0 837.6L1099.1 836.0L1099.3 834.5L1099.5 832.9L1099.7 831.3L1099.9 829.8L1100.1 828.2L1100.3 826.7L1100.5 825.1L1100.7 823.5L1100.9 822.0L1101.1 820.4L1101.3 818.9L1101.6 817.3L1101.8 815.8L1102.0 814.2L1102.3 812.7L1102.5 811.1L1102.7 809.6L1103.0 808.0L1103.2 806.4L1103.4 804.9L1103.7 803.3L1103.9 801.8L1104.1 800.2L1104.3 798.7L1104.5 797.1L1104.7 795.6L1104.9 794.0L1105.1 792.4L1105.3 790.9L1105.5 789.3L1105.7 787.8L1105.8 786.2L1106.0 784.6L1106.2 783.1L1106.3 781.5L1106.5 780.0L1106.7 778.4L1106.8 776.8L1107.0 775.3L1107.1 773.7L1107.3 772.1L1107.4 770.6L1107.6 769.0L1107.7 767.4L1107.9 765.9L1108.0 764.3L1108.2 762.8L1108.3 761.2L1108.4 759.6L1108.6 758.1L1108.7 756.5L1108.9 754.9L1109.0 753.4L1109.1 751.8L1109.3 750.2L1109.4 748.7L1109.5 747.1L1109.7 745.5L1109.8 744.0L1109.9 742.4L1110.0 740.8L1110.1 739.3L1110.3 737.7L1110.4 736.1L1110.5 734.6L1110.6 733.0L1110.7 731.4L1110.9 729.9L1111.0 728.3L1111.1 726.7L1111.2 725.2L1111.3 723.6L1111.4 722.0L1111.5 720.5L1111.7 718.9L1111.8 717.3L1111.9 715.8L1112.0 714.2L1112.1 712.6L1112.2 711.1L1112.3 709.5L1112.4 707.9L1112.5 706.4L1112.6 704.8L1112.8 703.2L1112.9 701.7L1113.0 700.1L1113.1 698.5L1113.2 697.0L1113.3 695.4L1113.4 693.8L1113.5 692.3L1113.6 690.7L1113.7 689.1L1113.8 687.6L1113.9 686.0L1114.0 684.4L1114.1 682.9L1114.2 681.3L1114.3 679.7L1114.5 678.2L1114.6 676.6L1114.7 675.0L1114.8 673.5L1114.9 671.9L1115.0 670.3L1115.1 668.8L1115.2 667.2L1115.3 665.6L1115.4 664.1L1115.5 662.5L1115.6 660.9L1115.7 659.4L1115.8 657.8L1116.0 656.2L1116.1 654.7L1116.2 653.1L1116.3 651.5L1116.4 650.0L1116.5 648.4L1116.6 646.8L1116.7 645.3L1116.8 643.7L1117.0 642.1L1117.1 640.6L1117.2 639.0L1117.3 637.4L1117.4 635.9L1117.5 634.3L1117.6 632.7L1117.7 631.2L1117.9 629.6L1118.0 628.0L1118.1 626.5L1118.2 624.9L1118.3 623.3L1118.4 621.8L1118.5 620.2L1118.6 618.6L1118.7 617.1L1118.9 615.5L1119.0 613.9L1119.1 612.4L1119.2 610.8L1119.3 609.2L1119.4 607.7L1119.5 606.1L1119.6 604.5L1119.7 603.0L1119.8 601.4L1120.0 599.8L1120.1 598.3L1120.2 596.7L1120.3 595.1L1120.4 593.6L1120.5 592.0L1120.6 590.4L1120.7 588.9L1120.8 587.3L1120.9 585.7L1121.1 584.2L1121.2 582.6L1121.3 581.0L1121.4 579.5L1121.5 577.9L1121.6 576.3L1121.7 574.8L1121.8 573.2L1121.9 571.6L1122.1 570.1L1122.2 568.5L1122.3 566.9L1122.4 565.4L1122.5 563.8L1122.6 562.2L1122.7 560.7L1122.8 559.1L1122.9 557.5L1123.1 556.0L1123.2 554.4L1123.3 552.8L1123.4 551.3L1123.5 549.7L1123.6 548.1L1123.7 546.6L1123.9 545.0L1124.0 543.4L1124.1 541.9L1124.2 540.3L1124.3 538.7L1124.4 537.2L1124.5 535.6L1124.7 534.0L1124.8 532.5L1124.9 530.9L1125.0 529.3L1125.1 527.8L1125.2 526.2L1125.4 524.6L1125.5 523.1L1125.6 521.5L1125.7 519.9L1125.8 518.4L1126.0 516.8L1126.1 515.2L1126.2 513.7L1126.3 512.1L1126.4 510.5L1126.6 509.0L1126.7 507.4L1126.8 505.8L1126.9 504.3L1127.1 502.7L1127.2 501.1L1127.3 499.6L1127.4 498.0L1127.6 496.5L1127.7 494.9L1127.8 493.3L1127.9 491.8L1128.1 490.2L1128.2 488.6L1128.3 487.1L1128.5 485.5L1128.6 483.9L1128.7 482.4L1128.9 480.8L1129.0 479.2L1129.1 477.7L1129.3 476.1L1129.4 474.5L1129.6 473.0L1129.7 471.4L1129.8 469.8L1130.0 468.3L1130.1 466.7L1130.3 465.2L1130.4 463.6L1130.6 462.0L1130.7 460.5L1130.9 458.9L1131.0 457.3L1131.2 455.8L1131.3 454.2L1131.5 452.6L1131.6 451.1L1131.8 449.5L1131.9 448.0L1132.1 446.4L1132.2 444.8L1132.4 443.3L1132.6 441.7L1132.7 440.1L1132.9 438.6L1133.1 437.0L1133.2 435.5L1133.4 433.9L1133.6 432.3L1133.8 430.8L1133.9 429.2L1134.1 427.7L1134.3 426.1L1134.5 424.5L1134.6 423.0L1134.8 421.4L1135.0 419.8L1135.2 418.3L1135.4 416.7L1135.6 415.2L1135.8 413.6L1135.9 412.0L1136.1 410.5L1136.3 408.9L1136.5 407.4L1136.7 405.8L1136.9 404.2L1137.1 402.7L1137.2 401.1L1137.4 399.6L1137.6 398.0L1137.8 396.4L1138.0 394.9L1138.1 393.3L1138.3 391.8L1138.5 390.2L1138.6 388.6L1138.8 387.1L1139.0 385.5L1139.1 384.0L1139.3 382.4L1139.5 380.8L1139.6 379.3L1139.8 377.7L1140.0 376.2L1140.2 374.6L1140.3 373.0L1140.5 371.5L1140.7 369.9L1140.9 368.4L1141.1 366.8L1141.3 365.3L1141.5 363.7L1141.7 362.2L1142.0 360.6L1142.2 359.1L1142.4 357.5L1142.7 356.0L1142.9 354.4L1143.2 352.9L1143.5 351.3L1143.7 349.8L1144.0 348.3L1144.3 346.7L1144.6 345.2L1144.9 343.6L1145.2 342.1L1145.5 340.6L1145.9 339.0L1146.2 337.5L1146.5 336.0L1146.9 334.4L1147.2 332.9L1147.5 331.3L1147.9 329.8L1148.2 328.3L1148.6 326.7L1148.9 325.2L1149.2 323.7L1149.6 322.1L1149.9 320.6L1150.3 319.1L1150.6 317.5L1150.9 316.0L1151.3 314.5L1151.6 312.9L1151.9 311.4L1152.3 309.8L1152.6 308.3L1152.9 306.8L1153.3 305.2L1153.6 303.7L1154.0 302.2L1154.3 300.6L1154.7 299.1L1155.0 297.6L1155.4 296.0L1155.7 294.5L1156.1 293.0L1156.5 291.5L1156.9 289.9L1157.2 288.4L1157.6 286.9L1158.0 285.4L1158.5 283.9L1158.9 282.4L1159.3 280.9L1159.8 279.4L1160.2 277.9L1160.7 276.4L1161.1 274.9L1161.6 273.4L1162.1 271.9L1162.6 270.4L1163.1 268.9L1163.7 267.4L1164.2 265.9L1164.7 264.5L1165.3 263.0L1165.8 261.5L1166.4 260.0L1166.9 258.6L1167.5 257.1L1168.0 255.6L1168.6 254.2L1169.2 252.7L1169.7 251.2L1170.3 249.8L1170.9 248.3L1171.5 246.9L1172.1 245.4L1172.7 243.9L1173.3 242.5L1173.9 241.0L1174.5 239.6L1175.1 238.2L1175.7 236.7L1176.4 235.3L1177.0 233.8L1177.6 232.4L1178.2 230.9L1178.9 229.5L1179.5 228.1L1180.2 226.6L1180.8 225.2L1181.5 223.8L1182.2 222.4L1182.9 221.0L1183.6 219.6L1184.3 218.2L1185.1 216.8L1185.8 215.4L1186.6 214.1L1187.4 212.7L1188.2 211.4L1189.0 210.0L1189.9 208.7L1190.7 207.4L1191.6 206.1L1192.5 204.8L1193.4 203.5L1194.2 202.2L1195.2 200.9L1196.1 199.6L1197.0 198.3L1198.0 197.1L1198.9 195.8L1199.9 194.6L1200.9 193.4L1201.9 192.2L1202.9 191.0L1203.9 189.8L1205.0 188.7L1206.0 187.6L1207.1 186.5L1208.3 185.4L1209.4 184.4L1210.6 183.3L1211.8 182.3L1213.0 181.4L1214.2 180.4L1215.5 179.5L1216.8 178.6L1218.0 177.7L1219.4 176.8L1220.7 176.0L1222.0 175.2L1223.4 174.4L1224.7 173.6L1226.1 172.9L1227.5 172.1L1228.9 171.4L1230.3 170.7L1231.7 170.1L1233.1 169.4L1234.5 168.7L1235.9 168.1L1237.4 167.5L1238.8 166.9L1240.3 166.3L1241.7 165.7L1243.2 165.1L1244.6 164.5L1246.1 164.0L1247.6 163.4L1249.0 162.9L1250.5 162.4L1252.0 161.8L1253.5 161.4L1255.0 160.9L1256.5 160.4L1258.0 160.0L1259.5 159.5L1261.0 159.1L1262.5 158.7L1264.0 158.3L1265.5 157.9L1267.0 157.5L1268.5 157.1L1270.1 156.8L1271.6 156.4L1273.1 156.1L1274.7 155.7L1276.2 155.4L1277.7 155.1L1279.3 154.8L1280.8 154.5L1282.4 154.2L1283.9 153.9L1285.4 153.6L1287.0 153.4L1288.5 153.1L1290.1 152.9L1291.6 152.6L1293.2 152.4L1294.7 152.2L1296.3 151.9L1297.8 151.7L1299.4 151.5L1300.9 151.3L1302.5 151.1L1304.1 150.9L1305.6 150.7L1307.2 150.5L1308.7 150.4L1310.3 150.2L1311.9 150.0L1313.4 149.8L1315.0 149.6L1316.5 149.5L1318.1 149.3L1319.7 149.2L1321.2 149.0L1322.8 148.8L1324.4 148.7L1325.9 148.5L1327.5 148.4L1329.0 148.3L1330.6 148.1L1332.2 148.0L1333.7 147.8L1335.3 147.7L1336.9 147.6L1338.4 147.4L1340.0 147.3L1341.6 147.2L1343.1 147.1L1344.7 146.9L1346.3 146.8L1347.8 146.7L1349.4 146.6L1350.9 146.5L1352.5 146.3L1354.1 146.2L1355.6 146.1L1357.2 146.0L1358.8 145.9L1360.3 145.8L1361.9 145.7L1363.5 145.6L1365.0 145.5L1366.6 145.4L1368.2 145.3L1369.8 145.2L1371.3 145.1L1372.9 145.0L1374.5 145.0L1376.0 144.9L1377.6 144.8L1379.2 144.7L1380.7 144.7L1382.3 144.6L1383.9 144.5L1385.4 144.5L1387.0 144.4L1388.6 144.3L1390.1 144.3L1391.7 144.2L1393.3 144.1L1394.9 144.1L1396.4 144.0L1398.0 143.9L1399.6 143.9L1401.1 143.8L1402.7 143.7L1404.3 143.6L1405.8 143.6L1407.4 143.5L1409.0 143.4L1410.5 143.3L1412.1 143.2L1413.7 143.1L1415.2 143.0L1416.8 142.9L1418.4 142.8L1419.9 142.7L1421.5 142.6L1423.1 142.5L1424.7 142.4L1426.2 142.2L1427.8 142.1L1429.4 142.0L1430.9 141.9L1432.5 141.8L1434.1 141.7L1435.6 141.6L1437.2 141.6L1438.8 141.5L1440.3 141.4L1441.9 141.3L1443.5 141.2L1445.0 141.2L1446.6 141.1L1448.2 141.0L1449.7 141.0L1451.3 140.9L1452.9 140.9L1454.5 140.8L1456.0 140.8L1457.6 140.7L1459.2 140.7L1460.7 140.6L1462.3 140.6L1463.9 140.5L1465.4 140.5L1467.0 140.5L1468.6 140.4L1470.2 140.4L1471.7 140.3L1473.3 140.3L1474.9 140.3L1476.4 140.2L1478.0 140.2L1479.6 140.1L1481.1 140.1L1482.7 140.1L1484.3 140.0L1485.9 140.0L1487.4 140.0L1489.0 139.9L1490.6 139.9L1492.1 139.9L1493.7 139.8L1495.3 139.8L1496.8 139.8L1498.4 139.7L1500.0 139.7L1501.6 139.7L1503.1 139.6L1504.7 139.6L1506.3 139.6L1507.8 139.6L1509.4 139.5L1511.0 139.5L1512.6 139.5L1514.1 139.4L1515.7 139.4L1517.3 139.4L1518.8 139.4L1520.4 139.3L1522.0 139.3L1523.6 139.3L1525.1 139.2L1526.7 139.2L1528.3 139.2L1529.8 139.2L1531.4 139.1L1533.0 139.1L1534.5 139.1L1536.1 139.1L1537.7 139.0L1539.3 139.0L1540.8 139.0L1542.4 139.0L1544.0 138.9L1545.5 138.9L1547.1 138.9L1548.7 138.9L1550.3 138.9L1551.8 138.8L1553.4 138.8L1555.0 138.8L1556.5 138.8L1558.1 138.7L1559.7 138.7L1561.3 138.7L1562.8 138.7L1564.4 138.6L1566.0 138.6L1567.5 138.6L1569.1 138.6L1570.7 138.5L1572.3 138.5L1573.8 138.5L1575.4 138.5L1577.0 138.4L1578.5 138.4L1580.1 138.4L1581.7 138.4L1583.3 138.3L1584.8 138.3L1586.4 138.3L1588.0 138.3L1589.5 138.2L1591.1 138.2L1592.7 138.2L1594.3 138.1L1595.8 138.1L1597.4 138.1L1599.0 138.1L1600.5 138.0L1602.1 138.0L1603.7 138.0L1605.2 137.9L1606.8 137.9L1608.4 137.9L1610.0 137.9L1611.5 137.8L1613.1 137.8L1614.7 137.8L1616.2 137.7L1617.8 137.7L1619.4 137.7L1621.0 137.6L1622.5 137.6L1624.1 137.6L1625.7 137.6L1627.2 137.5L1628.8 137.5L1630.4 137.5L1631.9 137.4L1633.5 137.4L1635.1 137.4L1636.7 137.4L1638.2 137.3L1639.8 137.3L1641.4 137.3L1642.9 137.2L1644.5 137.2L1646.1 137.2L1647.7 137.1L1649.2 137.1L1650.8 137.1L1652.4 137.1L1653.9 137.0L1655.5 137.0L1657.1 137.0L1658.7 136.9L1660.2 136.9L1661.8 136.9L1663.4 136.9L1664.9 136.8L1666.5 136.8L1668.1 136.8L1669.6 136.7L1671.2 136.7L1672.8 136.7L1674.4 136.7L1675.9 136.6L1677.5 136.6L1679.1 136.6L1680.6 136.6L1682.2 136.5L1683.8 136.5L1685.4 136.5L1686.9 136.5L1688.5 136.4L1690.1 136.4L1691.6 136.4L1693.2 136.4L1694.8 136.3L1696.3 136.3L1697.9 136.3L1699.5 136.3L1701.1 136.2L1702.6 136.2L1704.2 136.2L1705.8 136.2L1707.3 136.2L1708.9 136.1L1710.5 136.1L1712.1 136.1L1713.6 136.1L1715.2 136.1L1716.8 136.0L1718.3 136.0L1719.9 136.0L1721.5 136.0L1723.1 136.0L1724.6 135.9L1726.2 135.9L1727.8 135.9L1729.3 135.9L1730.9 135.9L1732.5 135.9L1734.0 135.8L1735.6 135.8L1737.2 135.8L1738.8 135.8L1740.3 135.8L1741.9 135.8L1743.5 135.7L1745.0 135.7L1746.6 135.7L1748.2 135.7L1749.8 135.7L1751.3 135.6L1752.9 135.6L1754.5 135.6L1756.0 135.6L1757.6 135.6L1759.2 135.6L1760.8 135.5L1762.3 135.5L1763.9 135.5L1765.5 135.5L1767.0 135.5L1768.6 135.5L1770.2 135.4L1771.8 135.4L1773.3 135.4L1774.9 135.4L1776.5 135.4L1778.0 135.4L1779.6 135.4L1781.2 135.3L1782.7 135.3L1784.3 135.3L1785.9 135.3L1787.5 135.3L1789.0 135.3L1790.6 135.2L1792.2 135.2L1793.7 135.2L1795.3 135.2L1796.9 135.2L1798.5 135.2L1800.0 135.2L1801.6 135.1L1803.2 135.1L1804.7 135.1L1806.3 135.1L1807.9 135.1L1809.5 135.1L1811.0 135.1L1812.6 135.0L1814.2 135.0L1815.7 135.0L1817.3 135.0L1818.9 135.0L1820.4 135.0L1822.0 135.0L1823.6 134.9L1825.2 134.9L1826.7 134.9L1828.3 134.9L1829.9 134.9L1831.4 134.9L1833.0 134.9L1834.6 134.9L1836.2 134.8L1837.7 134.8L1839.3 134.8L1840.9 134.8L1842.4 134.8L1844.0 134.8L1845.6 134.8L1847.2 134.8L1848.7 134.8L1850.3 134.7L1851.9 134.7L1853.4 134.7L1855.0 134.7L1856.6 134.7L1858.2 134.7L1859.7 134.7L1861.3 134.7L1862.9 134.7L1864.4 134.7L1866.0 134.7L1867.6 134.6L1869.2 134.6L1870.7 134.6L1872.3 134.6L1873.9 134.6L1875.4 134.6L1877.0 134.6L1878.6 134.6L1880.1 134.6L1881.7 134.6" fill="none" stroke="#000" stroke-width="6" stroke-linecap="round" stroke-linejoin="round"/>
<path d="M321.4 1001.6L322.8 1001.6L324.2 1001.6L325.6 1001.6L327.0 1001.6L328.3 1001.6L329.7 1001.6L331.1 1001.5L332.5 1001.5L333.9 1001.5L335.3 1001.5L336.7 1001.5L338.1 1001.5L339.5 1001.5L340.9 1001.5L342.2 1001.5L343.6 1001.5L345.0 1001.5L346.4 1001.5L347.8 1001.5L349.2 1001.5L350.6 1001.5L352.0 1001.4L353.4 1001.4L354.8 1001.4L356.1 1001.4L357.5 1001.4L358.9 1001.4L360.3 1001.4L361.7 1001.4L363.1 1001.4L364.5 1001.4L365.9 1001.4L367.3 1001.4L368.7 1001.4L370.0 1001.3L371.4 1001.3L372.8 1001.3L374.2 1001.3L375.6 1001.3L377.0 1001.3L378.4 1001.3L379.8 1001.3L381.2 1001.3L382.6 1001.3L383.9 1001.3L385.3 1001.3L386.7 1001.3L388.1 1001.2L389.5 1001.2L390.9 1001.2L392.3 1001.2L393.7 1001.2L395.1 1001.2L396.5 1001.2L397.8 1001.2L399.2 1001.2L400.6 1001.2L402.0 1001.2L403.4 1001.2L404.8 1001.1L406.2 1001.1L407.6 1001.1L409.0 1001.1L410.4 1001.1L411.7 1001.1L413.1 1001.1L414.5 1001.1L415.9 1001.1L417.3 1001.1L418.7 1001.1L420.1 1001.1L421.5 1001.0L422.9 1001.0L424.3 1001.0L425.6 1001.0L427.0 1001.0L428.4 1001.0L429.8 1001.0L431.2 1001.0L432.6 1001.0L434.0 1001.0L435.4 1001.0L436.8 1000.9L438.2 1000.9L439.5 1000.9L440.9 1000.9L442.3 1000.9L443.7 1000.9L445.1 1000.9L446.5 1000.9L447.9 1000.9L449.3 1000.9L450.7 1000.9L452.1 1000.8L453.4 1000.8L454.8 1000.8L456.2 1000.8L457.6 1000.8L459.0 1000.8L460.4 1000.8L461.8 1000.8L463.2 1000.8L464.6 1000.8L466.0 1000.8L467.3 1000.7L468.7 1000.7L470.1 1000.7L471.5 1000.7L472.9 1000.7L474.3 1000.7L475.7 1000.7L477.1 1000.7L478.5 1000.7L479.9 1000.7L481.2 1000.6L482.6 1000.6L484.0 1000.6L485.4 1000.6L486.8 1000.6L488.2 1000.6L489.6 1000.6L491.0 1000.6L492.4 1000.6L493.8 1000.6L495.1 1000.5L496.5 1000.5L497.9 1000.5L499.3 1000.5L500.7 1000.5L502.1 1000.5L503.5 1000.5L504.9 1000.5L506.3 1000.5L507.7 1000.5L509.0 1000.5L510.4 1000.4L511.8 1000.4L513.2 1000.4L514.6 1000.4L516.0 1000.4L517.4 1000.4L518.8 1000.4L520.2 1000.4L521.6 1000.4L522.9 1000.3L524.3 1000.3L525.7 1000.3L527.1 1000.3L528.5 1000.3L529.9 1000.3L531.3 1000.3L532.7 1000.3L534.1 1000.3L535.5 1000.3L536.8 1000.2L538.2 1000.2L539.6 1000.2L541.0 1000.2L542.4 1000.2L543.8 1000.2L545.2 1000.2L546.6 1000.2L548.0 1000.2L549.4 1000.1L550.7 1000.1L552.1 1000.1L553.5 1000.1L554.9 1000.1L556.3 1000.1L557.7 1000.1L559.1 1000.1L560.5 1000.1L561.9 1000.0L563.3 1000.0L564.6 1000.0L566.0 1000.0L567.4 1000.0L568.8 1000.0L570.2 1000.0L571.6 1000.0L573.0 999.9L574.4 999.9L575.8 999.9L577.2 999.9L578.5 999.9L579.9 999.9L581.3 999.9L582.7 999.9L584.1 999.8L585.5 999.8L586.9 999.8L588.3 999.8L589.7 999.8L591.1 999.8L592.4 999.8L593.8 999.8L595.2 999.7L596.6 999.7L598.0 999.7L599.4 999.7L600.8 999.7L602.2 999.7L603.6 999.7L605.0 999.6L606.3 999.6L607.7 999.6L609.1 999.6L610.5 999.6L611.9 999.6L613.3 999.6L614.7 999.5L616.1 999.5L617.5 999.5L618.9 999.5L620.2 999.5L621.6 999.5L623.0 999.4L624.4 999.4L625.8 999.4L627.2 999.4L628.6 999.4L630.0 999.4L631.4 999.3L632.8 999.3L634.1 999.3L635.5 999.3L636.9 999.3L638.3 999.3L639.7 999.2L641.1 999.2L642.5 999.2L643.9 999.2L645.3 999.2L646.7 999.1L648.0 999.1L649.4 999.1L650.8 999.1L652.2 999.1L653.6 999.0L655.0 999.0L656.4 999.0L657.8 999.0L659.2 999.0L660.6 998.9L661.9 998.9L663.3 998.9L664.7 998.9L666.1 998.8L667.5 998.8L668.9 998.8L670.3 998.8L671.7 998.8L673.1 998.7L674.5 998.7L675.8 998.7L677.2 998.7L678.6 998.6L680.0 998.6L681.4 998.6L682.8 998.6L684.2 998.5L685.6 998.5L687.0 998.5L688.4 998.5L689.7 998.4L691.1 998.4L692.5 998.4L693.9 998.4L695.3 998.3L696.7 998.3L698.1 998.3L699.5 998.3L700.9 998.2L702.3 998.2L703.6 998.2L705.0 998.2L706.4 998.1L707.8 998.1L709.2 998.1L710.6 998.0L712.0 998.0L713.4 998.0L714.8 998.0L716.2 997.9L717.5 997.9L718.9 997.9L720.3 997.8L721.7 997.8L723.1 997.8L724.5 997.8L725.9 997.7L727.3 997.7L728.7 997.7L730.1 997.6L731.4 997.6L732.8 997.6L734.2 997.5L735.6 997.5L737.0 997.5L738.4 997.4L739.8 997.4L741.2 997.4L742.6 997.3L743.9 997.3L745.3 997.3L746.7 997.2L748.1 997.2L749.5 997.2L750.9 997.1L752.3 997.1L753.7 997.1L755.1 997.0L756.5 997.0L757.8 997.0L759.2 996.9L760.6 996.9L762.0 996.9L763.4 996.8L764.8 996.8L766.2 996.8L767.6 996.7L769.0 996.7L770.4 996.7L771.7 996.6L773.1 996.6L774.5 996.5L775.9 996.5L777.3 996.5L778.7 996.4L780.1 996.4L781.5 996.4L782.9 996.3L784.2 996.3L785.6 996.2L787.0 996.2L788.4 996.2L789.8 996.1L791.2 996.1L792.6 996.0L794.0 996.0L795.4 995.9L796.7 995.9L798.1 995.8L799.5 995.8L800.9 995.7L802.3 995.7L803.7 995.7L805.1 995.6L806.5 995.6L807.9 995.5L809.3 995.5L810.6 995.4L812.0 995.3L813.4 995.3L814.8 995.2L816.2 995.2L817.6 995.1L819.0 995.1L820.4 995.0L821.8 995.0L823.1 994.9L824.5 994.9L825.9 994.8L827.3 994.7L828.7 994.7L830.1 994.6L831.5 994.6L832.9 994.5L834.3 994.5L835.6 994.4L837.0 994.3L838.4 994.3L839.8 994.2L841.2 994.1L842.6 994.1L844.0 994.0L845.4 994.0L846.8 993.9L848.1 993.8L849.5 993.8L850.9 993.7L852.3 993.6L853.7 993.6L855.1 993.5L856.5 993.4L857.9 993.4L859.3 993.3L860.6 993.2L862.0 993.2L863.4 993.1L864.8 993.0L866.2 993.0L867.6 992.9L869.0 992.8L870.4 992.8L871.7 992.7L873.1 992.6L874.5 992.6L875.9 992.5L877.3 992.4L878.7 992.4L880.1 992.3L881.5 992.2L882.9 992.2L884.3 992.1L885.6 992.0L887.0 992.0L888.4 991.9L889.8 991.8L891.2 991.7L892.6 991.7L894.0 991.6L895.4 991.5L896.8 991.4L898.1 991.3L899.5 991.3L900.9 991.2L902.3 991.1L903.7 991.0L905.1 990.9L906.5 990.8L907.9 990.7L909.2 990.6L910.6 990.5L912.0 990.4L913.4 990.3L914.8 990.2L916.2 990.1L917.5 989.9L918.9 989.8L920.3 989.7L921.7 989.5L923.1 989.4L924.4 989.2L925.8 989.0L927.2 988.8L928.6 988.6L929.9 988.5L931.3 988.3L932.7 988.1L934.1 987.9L935.5 987.6L936.8 987.4L938.2 987.2L939.6 987.0L940.9 986.8L942.3 986.6L943.7 986.4L945.1 986.2L946.4 985.9L947.8 985.7L949.2 985.5L950.6 985.3L951.9 985.1L953.3 984.8L954.7 984.6L956.1 984.4L957.4 984.1L958.8 983.9L960.2 983.7L961.5 983.4L962.9 983.2L964.3 982.9L965.6 982.6L967.0 982.4L968.3 982.1L969.7 981.8L971.1 981.5L972.4 981.2L973.8 980.9L975.1 980.6L976.5 980.3L977.8 980.0L979.2 979.6L980.5 979.3L981.9 978.9L983.2 978.6L984.6 978.2L985.9 977.8L987.3 977.5L988.6 977.1L989.9 976.7L991.2 976.2L992.6 975.8L993.9 975.4L995.2 974.9L996.5 974.5L997.8 974.0L999.1 973.5L1000.4 973.0L1001.7 972.4L1002.9 971.9L1004.2 971.3L1005.5 970.8L1006.7 970.2L1008.0 969.6L1009.2 968.9L1010.4 968.3L1011.7 967.6L1012.9 967.0L1014.1 966.3L1015.3 965.6L1016.5 964.9L1017.7 964.2L1018.9 963.4L1020.0 962.7L1021.2 961.9L1022.3 961.1L1023.5 960.3L1024.6 959.5L1025.7 958.7L1026.8 957.9L1027.9 957.0L1028.9 956.1L1030.0 955.2L1031.0 954.3L1032.0 953.3L1033.0 952.4L1034.0 951.4L1035.0 950.4L1035.9 949.4L1036.8 948.4L1037.8 947.3L1038.7 946.3L1039.6 945.2L1040.5 944.2L1041.4 943.1L1042.3 942.0L1043.1 940.9L1044.0 939.9L1044.9 938.8L1045.7 937.7L1046.5 936.6L1047.4 935.4L1048.2 934.3L1049.0 933.2L1049.7 932.0L1050.5 930.9L1051.3 929.7L1052.0 928.6L1052.7 927.4L1053.4 926.2L1054.1 925.0L1054.8 923.8L1055.5 922.6L1056.1 921.3L1056.7 920.1L1057.3 918.9L1057.9 917.6L1058.5 916.4L1059.1 915.2L1059.7 913.9L1060.3 912.7L1060.9 911.4L1061.5 910.2L1062.1 908.9L1062.6 907.7L1063.2 906.4L1063.7 905.1L1064.3 903.9L1064.8 902.6L1065.4 901.3L1065.9 900.1L1066.4 898.8L1067.0 897.5L1067.5 896.3L1068.0 895.0L1068.5 893.7L1069.0 892.4L1069.5 891.1L1070.0 889.8L1070.4 888.6L1070.9 887.3L1071.3 886.0L1071.8 884.7L1072.2 883.4L1072.7 882.1L1073.1 880.8L1073.5 879.5L1073.9 878.2L1074.3 876.8L1074.7 875.5L1075.1 874.2L1075.5 872.9L1075.8 871.6L1076.1 870.2L1076.4 868.9L1076.7 867.6L1077.0 866.2L1077.2 864.9L1077.4 863.5L1077.7 862.2L1077.9 860.8L1078.1 859.4L1078.2 858.1L1078.4 856.7L1078.7 855.3L1078.9 854.0L1079.0 852.6L1079.2 851.2L1079.5 849.8L1079.7 848.5L1079.9 847.1L1080.1 845.7L1080.3 844.4L1080.5 843.0L1080.8 841.6L1081.0 840.3L1081.2 838.9L1081.5 837.6L1081.7 836.2L1082.0 834.8L1082.2 833.5L1082.5 832.1L1082.7 830.8L1083.0 829.4L1083.2 828.0L1083.5 826.7L1083.8 825.3L1084.0 824.0L1084.3 822.6L1084.5 821.2L1084.8 819.9L1085.0 818.5L1085.3 817.2L1085.6 815.8L1085.8 814.4L1086.1 813.1L1086.4 811.7L1086.6 810.3L1086.9 809.0L1087.1 807.6L1087.4 806.3L1087.6 804.9L1087.9 803.5L1088.2 802.2L1088.4 800.8L1088.6 799.4L1088.9 798.1L1089.1 796.7L1089.4 795.3L1089.6 794.0L1089.9 792.6L1090.1 791.2L1090.3 789.9L1090.6 788.5L1090.8 787.1L1091.0 785.7L1091.3 784.4L1091.5 783.0L1091.7 781.6L1091.9 780.3L1092.1 778.9L1092.3 777.5L1092.5 776.1L1092.7 774.8L1092.9 773.4L1093.1 772.0L1093.3 770.7L1093.5 769.3L1093.6 767.9L1093.8 766.5L1094.0 765.1L1094.1 763.8L1094.3 762.4L1094.5 761.0L1094.6 759.6L1094.8 758.2L1094.9 756.9L1095.1 755.5L1095.2 754.1L1095.4 752.7L1095.5 751.3L1095.7 750.0L1095.8 748.6L1096.0 747.2L1096.1 745.8L1096.3 744.4L1096.4 743.1L1096.6 741.7L1096.7 740.3L1096.9 738.9L1097.1 737.5L1097.2 736.2L1097.4 734.8L1097.6 733.4L1097.7 732.0L1097.9 730.6L1098.1 729.3L1098.2 727.9L1098.4 726.5L1098.6 725.1L1098.8 723.7L1098.9 722.4L1099.1 721.0L1099.3 719.6L1099.5 718.2L1099.7 716.9L1099.8 715.5L1100.0 714.1L1100.2 712.7L1100.4 711.3L1100.6 710.0L1100.7 708.6L1100.9 707.2L1101.1 705.8L1101.3 704.4L1101.4 703.1L1101.6 701.7L1101.8 700.3L1102.0 698.9L1102.1 697.6L1102.3 696.2L1102.5 694.8L1102.7 693.4L1102.8 692.0L1103.0 690.7L1103.2 689.3L1103.3 687.9L1103.5 686.5L1103.7 685.1L1103.8 683.8L1104.0 682.4L1104.2 681.0L1104.3 679.6L1104.5 678.2L1104.7 676.9L1104.8 675.5L1105.0 674.1L1105.2 672.7L1105.3 671.3L1105.5 670.0L1105.7 668.6L1105.8 667.2L1106.0 665.8L1106.1 664.4L1106.3 663.1L1106.5 661.7L1106.6 660.3L1106.8 658.9L1107.0 657.5L1107.1 656.2L1107.3 654.8L1107.5 653.4L1107.6 652.0L1107.8 650.6L1108.0 649.3L1108.2 647.9L1108.3 646.5L1108.5 645.1L1108.7 643.8L1108.8 642.4L1109.0 641.0L1109.2 639.6L1109.4 638.2L1109.6 636.9L1109.8 635.5L1109.9 634.1L1110.1 632.7L1110.3 631.3L1110.5 630.0L1110.7 628.6L1110.8 627.2L1111.0 625.8L1111.2 624.4L1111.4 623.0L1111.6 621.7L1111.7 620.3L1111.9 618.9L1112.1 617.5L1112.3 616.1L1112.4 614.8L1112.6 613.4L1112.8 612.0L1113.0 610.6L1113.1 609.2L1113.3 607.8L1113.5 606.5L1113.6 605.1L1113.8 603.7L1114.0 602.3L1114.2 600.9L1114.3 599.5L1114.5 598.2L1114.7 596.8L1114.9 595.4L1115.0 594.0L1115.2 592.6L1115.4 591.2L1115.5 589.9L1115.7 588.5L1115.9 587.1L1116.1 585.7L1116.2 584.3L1116.4 582.9L1116.6 581.6L1116.8 580.2L1116.9 578.8L1117.1 577.4L1117.3 576.0L1117.5 574.6L1117.6 573.3L1117.8 571.9L1118.0 570.5L1118.2 569.1L1118.3 567.7L1118.5 566.4L1118.7 565.0L1118.9 563.6L1119.0 562.2L1119.2 560.8L1119.4 559.4L1119.6 558.1L1119.8 556.7L1119.9 555.3L1120.1 553.9L1120.3 552.5L1120.5 551.1L1120.7 549.8L1120.9 548.4L1121.0 547.0L1121.2 545.6L1121.4 544.2L1121.6 542.9L1121.8 541.5L1122.0 540.1L1122.2 538.7L1122.4 537.3L1122.6 536.0L1122.8 534.6L1123.0 533.2L1123.2 531.8L1123.4 530.5L1123.6 529.1L1123.8 527.7L1124.0 526.3L1124.2 524.9L1124.4 523.6L1124.6 522.2L1124.9 520.8L1125.1 519.4L1125.3 518.1L1125.5 516.7L1125.7 515.3L1125.9 513.9L1126.1 512.6L1126.4 511.2L1126.6 509.8L1126.8 508.4L1127.0 507.1L1127.3 505.7L1127.5 504.3L1127.7 502.9L1127.9 501.6L1128.2 500.2L1128.4 498.8L1128.6 497.5L1128.9 496.1L1129.1 494.7L1129.3 493.4L1129.6 492.0L1129.8 490.6L1130.1 489.2L1130.3 487.9L1130.6 486.5L1130.8 485.1L1131.1 483.8L1131.3 482.4L1131.6 481.0L1131.8 479.7L1132.1 478.3L1132.3 477.0L1132.6 475.6L1132.9 474.2L1133.1 472.9L1133.4 471.5L1133.7 470.1L1133.9 468.8L1134.2 467.4L1134.5 466.1L1134.8 464.7L1135.1 463.3L1135.5 462.0L1135.8 460.6L1136.1 459.3L1136.4 457.9L1136.8 456.6L1137.2 455.2L1137.5 453.9L1137.9 452.5L1138.3 451.2L1138.6 449.8L1139.0 448.5L1139.4 447.1L1139.8 445.8L1140.2 444.5L1140.6 443.1L1141.0 441.8L1141.3 440.4L1141.7 439.1L1142.1 437.7L1142.5 436.4L1142.8 435.0L1143.2 433.7L1143.6 432.3L1143.9 431.0L1144.3 429.6L1144.7 428.3L1145.0 426.9L1145.4 425.6L1145.8 424.2L1146.1 422.9L1146.5 421.5L1146.9 420.2L1147.3 418.8L1147.7 417.5L1148.1 416.2L1148.5 414.8L1149.0 413.5L1149.4 412.2L1149.9 410.8L1150.3 409.5L1150.8 408.2L1151.2 406.9L1151.7 405.6L1152.2 404.2L1152.7 402.9L1153.2 401.6L1153.7 400.3L1154.2 399.0L1154.8 397.7L1155.3 396.4L1155.8 395.1L1156.4 393.8L1157.0 392.6L1157.5 391.3L1158.1 390.0L1158.7 388.7L1159.2 387.4L1159.8 386.2L1160.4 384.9L1161.0 383.6L1161.6 382.4L1162.2 381.1L1162.8 379.8L1163.3 378.5L1163.9 377.3L1164.5 376.0L1165.1 374.7L1165.7 373.4L1166.3 372.2L1166.9 370.9L1167.5 369.6L1168.1 368.4L1168.7 367.1L1169.3 365.8L1170.0 364.6L1170.6 363.4L1171.3 362.1L1172.0 360.9L1172.6 359.7L1173.3 358.4L1174.1 357.2L1174.8 356.0L1175.5 354.8L1176.3 353.7L1177.0 352.5L1177.8 351.3L1178.6 350.2L1179.5 349.0L1180.3 347.9L1181.2 346.8L1182.1 345.7L1182.9 344.6L1183.9 343.6L1184.8 342.5L1185.8 341.5L1186.7 340.5L1187.7 339.5L1188.7 338.5L1189.7 337.5L1190.8 336.6L1191.8 335.7L1192.9 334.7L1193.9 333.8L1195.0 332.9L1196.1 332.0L1197.2 331.2L1198.3 330.3L1199.4 329.4L1200.5 328.5L1201.6 327.7L1202.7 326.8L1203.9 325.9L1205.0 325.1L1206.1 324.3L1207.2 323.4L1208.4 322.6L1209.6 321.9L1210.7 321.1L1211.9 320.4L1213.1 319.6L1214.3 318.9L1215.6 318.3L1216.8 317.6L1218.0 317.0L1219.3 316.4L1220.6 315.8L1221.8 315.2L1223.1 314.7L1224.4 314.1L1225.7 313.6L1227.0 313.1L1228.3 312.6L1229.6 312.1L1230.9 311.7L1232.3 311.2L1233.6 310.8L1234.9 310.3L1236.2 309.9L1237.5 309.5L1238.9 309.1L1240.2 308.6L1241.5 308.2L1242.9 307.9L1244.2 307.5L1245.5 307.1L1246.9 306.7L1248.2 306.4L1249.6 306.0L1250.9 305.6L1252.3 305.3L1253.6 305.0L1255.0 304.6L1256.3 304.3L1257.7 304.0L1259.0 303.7L1260.4 303.4L1261.7 303.0L1263.1 302.7L1264.4 302.4L1265.8 302.2L1267.2 301.9L1268.5 301.6L1269.9 301.3L1271.3 301.0L1272.6 300.8L1274.0 300.5L1275.4 300.3L1276.7 300.1L1278.1 299.8L1279.5 299.6L1280.8 299.4L1282.2 299.2L1283.6 299.0L1285.0 298.8L1286.3 298.6L1287.7 298.5L1289.1 298.3L1290.5 298.1L1291.9 298.0L1293.2 297.8L1294.6 297.7L1296.0 297.5L1297.4 297.4L1298.8 297.2L1300.2 297.1L1301.5 297.0L1302.9 296.8L1304.3 296.7L1305.7 296.6L1307.1 296.5L1308.5 296.3L1309.9 296.2L1311.2 296.1L1312.6 296.0L1314.0 295.8L1315.4 295.7L1316.8 295.6L1318.2 295.5L1319.6 295.4L1320.9 295.2L1322.3 295.1L1323.7 295.0L1325.1 294.9L1326.5 294.7L1327.9 294.6L1329.3 294.5L1330.6 294.4L1332.0 294.3L1333.4 294.2L1334.8 294.0L1336.2 293.9L1337.6 293.8L1339.0 293.7L1340.3 293.6L1341.7 293.5L1343.1 293.3L1344.5 293.2L1345.9 293.1L1347.3 293.0L1348.7 292.9L1350.0 292.8L1351.4 292.7L1352.8 292.6L1354.2 292.5L1355.6 292.4L1357.0 292.2L1358.4 292.1L1359.8 292.0L1361.1 291.9L1362.5 291.8L1363.9 291.7L1365.3 291.7L1366.7 291.6L1368.1 291.5L1369.5 291.4L1370.9 291.3L1372.2 291.2L1373.6 291.1L1375.0 291.0L1376.4 290.9L1377.8 290.9L1379.2 290.8L1380.6 290.7L1382.0 290.6L1383.3 290.6L1384.7 290.5L1386.1 290.4L1387.5 290.3L1388.9 290.3L1390.3 290.2L1391.7 290.2L1393.1 290.1L1394.5 290.0L1395.8 290.0L1397.2 289.9L1398.6 289.9L1400.0 289.8L1401.4 289.8L1402.8 289.7L1404.2 289.7L1405.6 289.6L1406.9 289.6L1408.3 289.6L1409.7 289.5L1411.1 289.5L1412.5 289.4L1413.9 289.4L1415.3 289.4L1416.7 289.3L1418.1 289.3L1419.4 289.2L1420.8 289.2L1422.2 289.2L1423.6 289.1L1425.0 289.1L1426.4 289.1L1427.8 289.0L1429.2 289.0L1430.6 288.9L1431.9 288.9L1433.3 288.9L1434.7 288.8L1436.1 288.8L1437.5 288.8L1438.9 288.7L1440.3 288.7L1441.7 288.7L1443.1 288.6L1444.4 288.6L1445.8 288.6L1447.2 288.5L1448.6 288.5L1450.0 288.5L1451.4 288.4L1452.8 288.4L1454.2 288.4L1455.6 288.4L1457.0 288.3L1458.3 288.3L1459.7 288.3L1461.1 288.2L1462.5 288.2L1463.9 288.2L1465.3 288.2L1466.7 288.1L1468.1 288.1L1469.5 288.1L1470.9 288.0L1472.2 288.0L1473.6 288.0L1475.0 288.0L1476.4 287.9L1477.8 287.9L1479.2 287.9L1480.6 287.9L1482.0 287.8L1483.4 287.8L1484.8 287.8L1486.1 287.8L1487.5 287.7L1488.9 287.7L1490.3 287.7L1491.7 287.7L1493.1 287.6L1494.5 287.6L1495.9 287.6L1497.3 287.6L1498.7 287.5L1500.0 287.5L1501.4 287.5L1502.8 287.5L1504.2 287.4L1505.6 287.4L1507.0 287.4L1508.4 287.4L1509.8 287.4L1511.2 287.3L1512.6 287.3L1513.9 287.3L1515.3 287.3L1516.7 287.2L1518.1 287.2L1519.5 287.2L1520.9 287.2L1522.3 287.2L1523.7 287.1L1525.1 287.1L1526.5 287.1L1527.9 287.1L1529.2 287.1L1530.6 287.0L1532.0 287.0L1533.4 287.0L1534.8 287.0L1536.2 287.0L1537.6 286.9L1539.0 286.9L1540.4 286.9L1541.8 286.9L1543.1 286.9L1544.5 286.9L1545.9 286.8L1547.3 286.8L1548.7 286.8L1550.1 286.8L1551.5 286.8L1552.9 286.7L1554.3 286.7L1555.7 286.7L1557.0 286.7L1558.4 286.7L1559.8 286.7L1561.2 286.6L1562.6 286.6L1564.0 286.6L1565.4 286.6L1566.8 286.6L1568.2 286.6L1569.6 286.5L1571.0 286.5L1572.3 286.5L1573.7 286.5L1575.1 286.5L1576.5 286.4L1577.9 286.4L1579.3 286.4L1580.7 286.4L1582.1 286.4L1583.5 286.4L1584.9 286.3L1586.2 286.3L1587.6 286.3L1589.0 286.3L1590.4 286.3L1591.8 286.3L1593.2 286.2L1594.6 286.2L1596.0 286.2L1597.4 286.2L1598.8 286.2L1600.1 286.2L1601.5 286.1L1602.9 286.1L1604.3 286.1L1605.7 286.1L1607.1 286.1L1608.5 286.1L1609.9 286.1L1611.3 286.0L1612.7 286.0L1614.0 286.0L1615.4 286.0L1616.8 286.0L1618.2 286.0L1619.6 285.9L1621.0 285.9L1622.4 285.9L1623.8 285.9L1625.2 285.9L1626.6 285.9L1627.9 285.9L1629.3 285.8L1630.7 285.8L1632.1 285.8L1633.5 285.8L1634.9 285.8L1636.3 285.8L1637.7 285.8L1639.1 285.8L1640.5 285.7L1641.8 285.7L1643.2 285.7L1644.6 285.7L1646.0 285.7L1647.4 285.7L1648.8 285.7L1650.2 285.6L1651.6 285.6L1653.0 285.6L1654.4 285.6L1655.7 285.6L1657.1 285.6L1658.5 285.6L1659.9 285.6L1661.3 285.6L1662.7 285.5L1664.1 285.5L1665.5 285.5L1666.9 285.5L1668.3 285.5L1669.6 285.5L1671.0 285.5L1672.4 285.5L1673.8 285.4L1675.2 285.4L1676.6 285.4L1678.0 285.4L1679.4 285.4L1680.8 285.4L1682.2 285.4L1683.5 285.4L1684.9 285.3L1686.3 285.3L1687.7 285.3L1689.1 285.3L1690.5 285.3L1691.9 285.3L1693.3 285.3L1694.7 285.3L1696.1 285.3L1697.4 285.2L1698.8 285.2L1700.2 285.2L1701.6 285.2L1703.0 285.2L1704.4 285.2L1705.8 285.2L1707.2 285.1L1708.6 285.1L1710.0 285.1L1711.3 285.1L1712.7 285.1L1714.1 285.1L1715.5 285.0L1716.9 285.0L1718.3 285.0L1719.7 285.0L1721.1 285.0L1722.5 285.0L1723.9 285.0L1725.2 284.9L1726.6 284.9L1728.0 284.9L1729.4 284.9L1730.8 284.9L1732.2 284.9L1733.6 284.8L1735.0 284.8L1736.4 284.8L1737.8 284.8L1739.1 284.8L1740.5 284.8L1741.9 284.7L1743.3 284.7L1744.7 284.7L1746.1 284.7L1747.5 284.7L1748.9 284.7L1750.3 284.7L1751.7 284.6L1753.0 284.6L1754.4 284.6L1755.8 284.6L1757.2 284.6L1758.6 284.6L1760.0 284.5L1761.4 284.5L1762.8 284.5L1764.2 284.5L1765.6 284.5L1766.9 284.5L1768.3 284.4L1769.7 284.4L1771.1 284.4L1772.5 284.4L1773.9 284.4L1775.3 284.4L1776.7 284.4L1778.1 284.3L1779.5 284.3L1780.8 284.3L1782.2 284.3L1783.6 284.3L1785.0 284.3L1786.4 284.2L1787.8 284.2L1789.2 284.2L1790.6 284.2L1792.0 284.2L1793.4 284.2L1794.7 284.1L1796.1 284.1L1797.5 284.1L1798.9 284.1L1800.3 284.1L1801.7 284.1L1803.1 284.1L1804.5 284.0L1805.9 284.0L1807.3 284.0L1808.6 284.0L1810.0 284.0L1811.4 284.0L1812.8 283.9L1814.2 283.9L1815.6 283.9L1817.0 283.9L1818.4 283.9L1819.8 283.9L1821.2 283.9L1822.5 283.8L1823.9 283.8L1825.3 283.8L1826.7 283.8L1828.1 283.8L1829.5 283.8L1830.9 283.7L1832.3 283.7L1833.7 283.7L1835.1 283.7L1836.4 283.7L1837.8 283.7L1839.2 283.7L1840.6 283.6L1842.0 283.6L1843.4 283.6L1844.8 283.6L1846.2 283.6L1847.6 283.6L1849.0 283.5L1850.3 283.5L1851.7 283.5L1853.1 283.5L1854.5 283.5L1855.9 283.5L1857.3 283.5L1858.7 283.4L1860.1 283.4L1861.5 283.4L1862.9 283.4L1864.2 283.4L1865.6 283.4L1867.0 283.3L1868.4 283.3L1869.8 283.3L1871.2 283.3L1872.6 283.3L1874.0 283.3L1875.4 283.3L1876.8 283.2L1878.1 283.2L1879.5 283.2L1880.9 283.2L1882.3 283.2L1883.7 283.2L1885.1 283.2L1886.5 283.1L1887.9 283.1L1889.3 283.1L1890.7 283.1L1892.0 283.1L1893.4 283.1L1894.8 283.0L1896.2 283.0" fill="none" stroke="#f00" stroke-width="6" stroke-linecap="round" stroke-linejoin="round"/>
<path d="M321.4 1002.2L322.8 1002.2L324.2 1002.2L325.6 1002.2L327.0 1002.2L328.3 1002.2L329.7 1002.2L331.1 1002.1L332.5 1002.1L333.9 1002.1L335.3 1002.1L336.7 1002.1L338.1 1002.1L339.5 1002.1L340.9 1002.1L342.2 1002.1L343.6 1002.1L345.0 1002.1L346.4 1002.1L347.8 1002.1L349.2 1002.1L350.6 1002.1L352.0 1002.0L353.4 1002.0L354.8 1002.0L356.1 1002.0L357.5 1002.0L358.9 1002.0L360.3 1002.0L361.7 1002.0L363.1 1002.0L364.5 1002.0L365.9 1002.0L367.3 1002.0L368.7 1002.0L370.0 1001.9L371.4 1001.9L372.8 1001.9L374.2 1001.9L375.6 1001.9L377.0 1001.9L378.4 1001.9L379.8 1001.9L381.2 1001.9L382.6 1001.9L383.9 1001.9L385.3 1001.9L386.7 1001.9L388.1 1001.8L389.5 1001.8L390.9 1001.8L392.3 1001.8L393.7 1001.8L395.1 1001.8L396.5 1001.8L397.8 1001.8L399.2 1001.8L400.6 1001.8L402.0 1001.8L403.4 1001.8L404.8 1001.7L406.2 1001.7L407.6 1001.7L409.0 1001.7L410.4 1001.7L411.7 1001.7L413.1 1001.7L414.5 1001.7L415.9 1001.7L417.3 1001.7L418.7 1001.7L420.1 1001.7L421.5 1001.6L422.9 1001.6L424.3 1001.6L425.6 1001.6L427.0 1001.6L428.4 1001.6L429.8 1001.6L431.2 1001.6L432.6 1001.6L434.0 1001.6L435.4 1001.6L436.8 1001.5L438.2 1001.5L439.5 1001.5L440.9 1001.5L442.3 1001.5L443.7 1001.5L445.1 1001.5L446.5 1001.5L447.9 1001.5L449.3 1001.5L450.7 1001.5L452.1 1001.4L453.4 1001.4L454.8 1001.4L456.2 1001.4L457.6 1001.4L459.0 1001.4L460.4 1001.4L461.8 1001.4L463.2 1001.4L464.6 1001.4L466.0 1001.4L467.3 1001.3L468.7 1001.3L470.1 1001.3L471.5 1001.3L472.9 1001.3L474.3 1001.3L475.7 1001.3L477.1 1001.3L478.5 1001.3L479.9 1001.3L481.2 1001.2L482.6 1001.2L484.0 1001.2L485.4 1001.2L486.8 1001.2L488.2 1001.2L489.6 1001.2L491.0 1001.2L492.4 1001.2L493.8 1001.2L495.1 1001.1L496.5 1001.1L497.9 1001.1L499.3 1001.1L500.7 1001.1L502.1 1001.1L503.5 1001.1L504.9 1001.1L506.3 1001.1L507.7 1001.1L509.0 1001.1L510.4 1001.0L511.8 1001.0L513.2 1001.0L514.6 1001.0L516.0 1001.0L517.4 1001.0L518.8 1001.0L520.2 1001.0L521.6 1001.0L522.9 1000.9L524.3 1000.9L525.7 1000.9L527.1 1000.9L528.5 1000.9L529.9 1000.9L531.3 1000.9L532.7 1000.9L534.1 1000.9L535.5 1000.9L536.8 1000.8L538.2 1000.8L539.6 1000.8L541.0 1000.8L542.4 1000.8L543.8 1000.8L545.2 1000.8L546.6 1000.8L548.0 1000.8L549.4 1000.7L550.7 1000.7L552.1 1000.7L553.5 1000.7L554.9 1000.7L556.3 1000.7L557.7 1000.7L559.1 1000.7L560.5 1000.7L561.9 1000.6L563.3 1000.6L564.6 1000.6L566.0 1000.6L567.4 1000.6L568.8 1000.6L570.2 1000.6L571.6 1000.6L573.0 1000.5L574.4 1000.5L575.8 1000.5L577.2 1000.5L578.5 1000.5L579.9 1000.5L581.3 1000.5L582.7 1000.5L584.1 1000.4L585.5 1000.4L586.9 1000.4L588.3 1000.4L589.7 1000.4L591.1 1000.4L592.4 1000.4L593.8 1000.4L595.2 1000.3L596.6 1000.3L598.0 1000.3L599.4 1000.3L600.8 1000.3L602.2 1000.3L603.6 1000.3L605.0 1000.2L606.3 1000.2L607.7 1000.2L609.1 1000.2L610.5 1000.2L611.9 1000.2L613.3 1000.2L614.7 1000.1L616.1 1000.1L617.5 1000.1L618.9 1000.1L620.2 1000.1L621.6 1000.1L623.0 1000.0L624.4 1000.0L625.8 1000.0L627.2 1000.0L628.6 1000.0L630.0 1000.0L631.4 999.9L632.8 999.9L634.1 999.9L635.5 999.9L636.9 999.9L638.3 999.9L639.7 999.8L641.1 999.8L642.5 999.8L643.9 999.8L645.3 999.8L646.7 999.7L648.0 999.7L649.4 999.7L650.8 999.7L652.2 999.7L653.6 999.6L655.0 999.6L656.4 999.6L657.8 999.6L659.2 999.6L660.6 999.5L661.9 999.5L663.3 999.5L664.7 999.5L666.1 999.4L667.5 999.4L668.9 999.4L670.3 999.4L671.7 999.4L673.1 999.3L674.5 999.3L675.8 999.3L677.2 999.3L678.6 999.2L680.0 999.2L681.4 999.2L682.8 999.2L684.2 999.1L685.6 999.1L687.0 999.1L688.4 999.1L689.7 999.0L691.1 999.0L692.5 999.0L693.9 999.0L695.3 998.9L696.7 998.9L698.1 998.9L699.5 998.9L700.9 998.8L702.3 998.8L703.6 998.8L705.0 998.8L706.4 998.7L707.8 998.7L709.2 998.7L710.6 998.6L712.0 998.6L713.4 998.6L714.8 998.6L716.2 998.5L717.5 998.5L718.9 998.5L720.3 998.4L721.7 998.4L723.1 998.4L724.5 998.4L725.9 998.3L727.3 998.3L728.7 998.3L730.1 998.2L731.4 998.2L732.8 998.2L734.2 998.1L735.6 998.1L737.0 998.1L738.4 998.0L739.8 998.0L741.2 998.0L742.6 997.9L743.9 997.9L745.3 997.9L746.7 997.8L748.1 997.8L749.5 997.8L750.9 997.7L752.3 997.7L753.7 997.7L755.1 997.6L756.5 997.6L757.8 997.6L759.2 997.5L760.6 997.5L762.0 997.5L763.4 997.4L764.8 997.4L766.2 997.4L767.6 997.3L769.0 997.3L770.4 997.3L771.7 997.2L773.1 997.2L774.5 997.1L775.9 997.1L777.3 997.1L778.7 997.0L780.1 997.0L781.5 997.0L782.9 996.9L784.2 996.9L785.6 996.8L787.0 996.8L788.4 996.8L789.8 996.7L791.2 996.7L792.6 996.6L794.0 996.6L795.4 996.5L796.7 996.5L798.1 996.4L799.5 996.4L800.9 996.3L802.3 996.3L803.7 996.3L805.1 996.2L806.5 996.2L807.9 996.1L809.3 996.1L810.6 996.0L812.0 995.9L813.4 995.9L814.8 995.8L816.2 995.8L817.6 995.7L819.0 995.7L820.4 995.6L821.8 995.6L823.1 995.5L824.5 995.5L825.9 995.4L827.3 995.3L828.7 995.3L830.1 995.2L831.5 995.2L832.9 995.1L834.3 995.1L835.6 995.0L837.0 994.9L838.4 994.9L839.8 994.8L841.2 994.7L842.6 994.7L844.0 994.6L845.4 994.6L846.8 994.5L848.1 994.4L849.5 994.4L850.9 994.3L852.3 994.2L853.7 994.2L855.1 994.1L856.5 994.0L857.9 994.0L859.3 993.9L860.6 993.8L862.0 993.8L863.4 993.7L864.8 993.6L866.2 993.6L867.6 993.5L869.0 993.4L870.4 993.4L871.7 993.3L873.1 993.2L874.5 993.2L875.9 993.1L877.3 993.0L878.7 993.0L880.1 992.9L881.5 992.8L882.9 992.8L884.3 992.7L885.6 992.6L887.0 992.6L888.4 992.5L889.8 992.4L891.2 992.3L892.6 992.3L894.0 992.2L895.4 992.1L896.8 992.0L898.1 991.9L899.5 991.9L900.9 991.8L902.3 991.7L903.7 991.6L905.1 991.5L906.5 991.4L907.9 991.3L909.2 991.2L910.6 991.1L912.0 991.0L913.4 990.9L914.8 990.8L916.2 990.7L917.5 990.5L918.9 990.4L920.3 990.3L921.7 990.1L923.1 990.0L924.4 989.8L925.8 989.6L927.2 989.4L928.6 989.2L929.9 989.1L931.3 988.9L932.7 988.7L934.1 988.5L935.5 988.2L936.8 988.0L938.2 987.8L939.6 987.6L940.9 987.4L942.3 987.2L943.7 987.0L945.1 986.8L946.4 986.5L947.8 986.3L949.2 986.1L950.6 985.9L951.9 985.7L953.3 985.4L954.7 985.2L956.1 985.0L957.4 984.7L958.8 984.5L960.2 984.3L961.5 984.0L962.9 983.8L964.3 983.5L965.6 983.2L967.0 983.0L968.3 982.7L969.7 982.4L971.1 982.1L972.4 981.8L973.8 981.5L975.1 981.2L976.5 980.9L977.8 980.6L979.2 980.2L980.5 979.9L981.9 979.5L983.2 979.2L984.6 978.8L985.9 978.4L987.3 978.1L988.6 977.7L989.9 977.3L991.2 976.8L992.6 976.4L993.9 976.0L995.2 975.5L996.5 975.1L997.8 974.6L999.1 974.1L1000.4 973.6L1001.7 973.1L1003.0 972.5L1004.2 972.0L1005.5 971.4L1006.7 970.8L1008.0 970.2L1009.2 969.6L1010.5 968.9L1011.7 968.3L1012.9 967.6L1014.2 966.9L1015.4 966.3L1016.6 965.5L1017.8 964.8L1018.9 964.1L1020.1 963.4L1021.3 962.6L1022.4 961.8L1023.6 961.0L1024.7 960.2L1025.8 959.4L1026.9 958.5L1028.0 957.7L1029.1 956.8L1030.1 955.9L1031.2 955.0L1032.2 954.0L1033.2 953.1L1034.2 952.1L1035.1 951.1L1036.1 950.1L1037.0 949.1L1038.0 948.1L1038.9 947.0L1039.8 946.0L1040.7 944.9L1041.6 943.8L1042.5 942.8L1043.4 941.7L1044.3 940.6L1045.1 939.5L1046.0 938.4L1046.8 937.3L1047.7 936.2L1048.5 935.1L1049.3 934.0L1050.1 932.8L1050.8 931.7L1051.6 930.5L1052.4 929.3L1053.1 928.2L1053.8 927.0L1054.5 925.8L1055.2 924.6L1055.9 923.4L1056.6 922.1L1057.3 920.9L1058.0 919.7L1058.7 918.5L1059.3 917.2L1060.0 916.0L1060.6 914.7L1061.3 913.5L1061.9 912.2L1062.6 911.0L1063.2 909.7L1063.9 908.5L1064.5 907.2L1065.1 906.0L1065.7 904.7L1066.3 903.4L1067.0 902.2L1067.6 900.9L1068.2 899.6L1068.8 898.4L1069.3 897.1L1069.9 895.8L1070.5 894.5L1071.1 893.3L1071.7 892.0L1072.3 890.7L1072.9 889.4L1073.5 888.1L1074.1 886.8L1074.6 885.5L1075.2 884.2L1075.8 882.9L1076.3 881.6L1076.9 880.3L1077.4 879.0L1077.9 877.7L1078.5 876.4L1079.0 875.1L1079.4 873.8L1079.9 872.4L1080.4 871.1L1080.8 869.8L1081.2 868.4L1081.6 867.1L1082.0 865.7L1082.3 864.4L1082.7 863.0L1083.0 861.7L1083.3 860.3L1083.7 859.0L1083.9 857.6L1084.2 856.2L1084.5 854.8L1084.8 853.5L1085.0 852.1L1085.3 850.7L1085.6 849.4L1085.9 848.0L1086.2 846.6L1086.5 845.3L1086.8 843.9L1087.1 842.5L1087.4 841.2L1087.7 839.8L1088.0 838.5L1088.3 837.1L1088.7 835.7L1089.0 834.4L1089.3 833.0L1089.6 831.7L1090.0 830.3L1090.3 828.9L1090.6 827.6L1091.0 826.2L1091.3 824.9L1091.6 823.5L1092.0 822.1L1092.3 820.8L1092.6 819.4L1092.9 818.1L1093.2 816.7L1093.5 815.3L1093.8 814.0L1094.1 812.6L1094.4 811.3L1094.7 809.9L1095.0 808.5L1095.3 807.2L1095.5 805.8L1095.8 804.4L1096.1 803.1L1096.4 801.7L1096.7 800.4L1096.9 799.0L1097.2 797.6L1097.5 796.3L1097.7 794.9L1098.0 793.5L1098.3 792.2L1098.5 790.8L1098.8 789.4L1099.1 788.0L1099.3 786.7L1099.6 785.3L1099.8 783.9L1100.1 782.6L1100.3 781.2L1100.5 779.8L1100.8 778.5L1101.0 777.1L1101.2 775.7L1101.5 774.3L1101.7 773.0L1101.9 771.6L1102.1 770.2L1102.3 768.8L1102.5 767.5L1102.7 766.1L1102.9 764.7L1103.1 763.3L1103.3 762.0L1103.5 760.6L1103.6 759.2L1103.8 757.8L1104.0 756.4L1104.2 755.1L1104.4 753.7L1104.5 752.3L1104.7 750.9L1104.9 749.5L1105.1 748.2L1105.3 746.8L1105.4 745.4L1105.6 744.0L1105.8 742.6L1105.9 741.3L1106.1 739.9L1106.3 738.5L1106.5 737.1L1106.7 735.7L1106.8 734.4L1107.0 733.0L1107.2 731.6L1107.4 730.2L1107.6 728.8L1107.7 727.5L1107.9 726.1L1108.1 724.7L1108.3 723.3L1108.5 722.0L1108.7 720.6L1108.9 719.2L1109.1 717.8L1109.3 716.4L1109.5 715.1L1109.6 713.7L1109.8 712.3L1110.0 710.9L1110.2 709.6L1110.4 708.2L1110.6 706.8L1110.8 705.4L1111.0 704.0L1111.2 702.7L1111.3 701.3L1111.5 699.9L1111.7 698.5L1111.9 697.2L1112.1 695.8L1112.3 694.4L1112.4 693.0L1112.6 691.6L1112.8 690.3L1113.0 688.9L1113.2 687.5L1113.3 686.1L1113.5 684.7L1113.7 683.4L1113.9 682.0L1114.0 680.6L1114.2 679.2L1114.4 677.8L1114.6 676.5L1114.7 675.1L1114.9 673.7L1115.1 672.3L1115.3 671.0L1115.5 669.6L1115.6 668.2L1115.8 666.8L1116.0 665.4L1116.2 664.1L1116.3 662.7L1116.5 661.3L1116.7 659.9L1116.9 658.5L1117.0 657.2L1117.2 655.8L1117.4 654.4L1117.6 653.0L1117.8 651.6L1117.9 650.3L1118.1 648.9L1118.3 647.5L1118.5 646.1L1118.7 644.7L1118.8 643.4L1119.0 642.0L1119.2 640.6L1119.4 639.2L1119.5 637.9L1119.7 636.5L1119.9 635.1L1120.0 633.7L1120.2 632.3L1120.4 631.0L1120.5 629.6L1120.7 628.2L1120.9 626.8L1121.0 625.4L1121.2 624.1L1121.4 622.7L1121.5 621.3L1121.7 619.9L1121.9 618.5L1122.0 617.1L1122.2 615.8L1122.4 614.4L1122.5 613.0L1122.7 611.6L1122.9 610.2L1123.0 608.9L1123.2 607.5L1123.3 606.1L1123.5 604.7L1123.7 603.3L1123.8 601.9L1124.0 600.6L1124.2 599.2L1124.3 597.8L1124.5 596.4L1124.6 595.0L1124.8 593.6L1125.0 592.3L1125.1 590.9L1125.3 589.5L1125.4 588.1L1125.6 586.7L1125.8 585.3L1125.9 584.0L1126.1 582.6L1126.3 581.2L1126.4 579.8L1126.6 578.4L1126.7 577.0L1126.9 575.7L1127.1 574.3L1127.2 572.9L1127.4 571.5L1127.6 570.1L1127.7 568.8L1127.9 567.4L1128.1 566.0L1128.2 564.6L1128.4 563.2L1128.6 561.8L1128.7 560.5L1128.9 559.1L1129.1 557.7L1129.2 556.3L1129.4 554.9L1129.6 553.6L1129.7 552.2L1129.9 550.8L1130.1 549.4L1130.3 548.0L1130.4 546.6L1130.6 545.3L1130.8 543.9L1131.0 542.5L1131.1 541.1L1131.3 539.7L1131.5 538.4L1131.6 537.0L1131.8 535.6L1132.0 534.2L1132.2 532.9L1132.3 531.5L1132.5 530.1L1132.7 528.7L1132.9 527.3L1133.0 526.0L1133.2 524.6L1133.4 523.2L1133.6 521.8L1133.8 520.5L1133.9 519.1L1134.1 517.7L1134.3 516.3L1134.5 515.0L1134.7 513.6L1134.9 512.2L1135.1 510.8L1135.3 509.5L1135.5 508.1L1135.7 506.7L1135.9 505.4L1136.1 504.0L1136.3 502.6L1136.5 501.2L1136.7 499.9L1136.9 498.5L1137.1 497.1L1137.3 495.8L1137.5 494.4L1137.7 493.0L1137.9 491.7L1138.1 490.3L1138.3 488.9L1138.6 487.6L1138.8 486.2L1139.0 484.8L1139.2 483.5L1139.4 482.1L1139.7 480.7L1139.9 479.4L1140.1 478.0L1140.4 476.6L1140.6 475.3L1140.8 473.9L1141.1 472.6L1141.3 471.2L1141.5 469.8L1141.8 468.5L1142.0 467.1L1142.2 465.8L1142.5 464.4L1142.7 463.0L1143.0 461.7L1143.2 460.3L1143.5 459.0L1143.8 457.6L1144.0 456.3L1144.3 454.9L1144.6 453.6L1144.9 452.2L1145.2 450.9L1145.5 449.5L1145.9 448.2L1146.2 446.9L1146.5 445.5L1146.8 444.2L1147.1 442.8L1147.4 441.5L1147.7 440.1L1148.0 438.8L1148.3 437.4L1148.6 436.1L1148.9 434.7L1149.2 433.4L1149.5 432.0L1149.8 430.7L1150.1 429.3L1150.4 428.0L1150.7 426.6L1151.0 425.3L1151.3 423.9L1151.6 422.6L1151.9 421.2L1152.3 419.9L1152.6 418.6L1153.0 417.2L1153.3 415.9L1153.7 414.6L1154.1 413.2L1154.5 411.9L1154.8 410.6L1155.3 409.3L1155.7 408.0L1156.1 406.6L1156.5 405.3L1156.9 404.0L1157.4 402.7L1157.8 401.4L1158.3 400.1L1158.8 398.8L1159.2 397.5L1159.7 396.2L1160.2 394.9L1160.7 393.7L1161.2 392.4L1161.7 391.1L1162.2 389.8L1162.8 388.5L1163.3 387.3L1163.8 386.0L1164.3 384.7L1164.9 383.5L1165.4 382.2L1165.9 380.9L1166.5 379.6L1167.0 378.4L1167.5 377.1L1168.0 375.8L1168.6 374.5L1169.1 373.3L1169.6 372.0L1170.2 370.7L1170.7 369.5L1171.3 368.2L1171.9 367.0L1172.4 365.7L1173.0 364.5L1173.6 363.2L1174.2 362.0L1174.9 360.8L1175.5 359.6L1176.2 358.4L1176.8 357.2L1177.5 356.0L1178.2 354.8L1178.9 353.6L1179.7 352.5L1180.4 351.3L1181.2 350.2L1182.0 349.1L1182.8 348.0L1183.6 346.9L1184.5 345.8L1185.3 344.7L1186.2 343.7L1187.1 342.7L1188.0 341.6L1189.0 340.6L1189.9 339.7L1190.9 338.7L1191.9 337.8L1192.9 336.8L1193.9 335.9L1194.9 335.0L1196.0 334.1L1197.0 333.2L1198.1 332.3L1199.1 331.4L1200.2 330.6L1201.3 329.7L1202.3 328.8L1203.4 328.0L1204.5 327.1L1205.6 326.3L1206.6 325.5L1207.7 324.6L1208.9 323.8L1210.0 323.1L1211.1 322.3L1212.3 321.6L1213.4 320.8L1214.6 320.1L1215.8 319.5L1217.0 318.8L1218.2 318.2L1219.5 317.6L1220.7 317.0L1221.9 316.5L1223.2 315.9L1224.5 315.4L1225.7 314.9L1227.0 314.4L1228.3 313.9L1229.6 313.4L1230.9 312.9L1232.3 312.5L1233.6 312.0L1234.9 311.6L1236.2 311.1L1237.5 310.7L1238.9 310.3L1240.2 309.9L1241.5 309.5L1242.9 309.1L1244.2 308.7L1245.5 308.4L1246.9 308.0L1248.2 307.6L1249.6 307.3L1250.9 306.9L1252.3 306.6L1253.6 306.2L1255.0 305.9L1256.3 305.6L1257.7 305.3L1259.0 305.0L1260.4 304.6L1261.7 304.3L1263.1 304.0L1264.4 303.8L1265.8 303.5L1267.2 303.2L1268.5 302.9L1269.9 302.6L1271.3 302.4L1272.6 302.1L1274.0 301.9L1275.4 301.6L1276.7 301.4L1278.1 301.2L1279.5 300.9L1280.8 300.7L1282.2 300.5L1283.6 300.3L1285.0 300.2L1286.3 300.0L1287.7 299.8L1289.1 299.7L1290.5 299.5L1291.9 299.3L1293.2 299.2L1294.6 299.0L1296.0 298.9L1297.4 298.8L1298.8 298.6L1300.2 298.5L1301.5 298.4L1302.9 298.2L1304.3 298.1L1305.7 298.0L1307.1 297.9L1308.5 297.7L1309.9 297.6L1311.2 297.5L1312.6 297.4L1314.0 297.3L1315.4 297.2L1316.8 297.0L1318.2 296.9L1319.6 296.8L1320.9 296.7L1322.3 296.6L1323.7 296.5L1325.1 296.4L1326.5 296.3L1327.9 296.1L1329.3 296.0L1330.6 295.9L1332.0 295.8L1333.4 295.7L1334.8 295.6L1336.2 295.5L1337.6 295.4L1339.0 295.3L1340.3 295.2L1341.7 295.1L1343.1 295.0L1344.5 294.9L1345.9 294.8L1347.3 294.6L1348.7 294.5L1350.0 294.4L1351.4 294.3L1352.8 294.2L1354.2 294.2L1355.6 294.1L1357.0 294.0L1358.4 293.9L1359.8 293.8L1361.1 293.7L1362.5 293.6L1363.9 293.5L1365.3 293.4L1366.7 293.3L1368.1 293.3L1369.5 293.2L1370.9 293.1L1372.2 293.0L1373.6 292.9L1375.0 292.9L1376.4 292.8L1377.8 292.7L1379.2 292.6L1380.6 292.6L1382.0 292.5L1383.3 292.4L1384.7 292.4L1386.1 292.3L1387.5 292.3L1388.9 292.2L1390.3 292.1L1391.7 292.1L1393.1 292.0L1394.5 292.0L1395.8 291.9L1397.2 291.9L1398.6 291.9L1400.0 291.8L1401.4 291.8L1402.8 291.7L1404.2 291.7L1405.6 291.6L1406.9 291.6L1408.3 291.6L1409.7 291.5L1411.1 291.5L1412.5 291.4L1413.9 291.4L1415.3 291.4L1416.7 291.3L1418.1 291.3L1419.4 291.3L1420.8 291.2L1422.2 291.2L1423.6 291.1L1425.0 291.1L1426.4 291.1L1427.8 291.0L1429.2 291.0L1430.6 291.0L1431.9 290.9L1433.3 290.9L1434.7 290.9L1436.1 290.8L1437.5 290.8L1438.9 290.8L1440.3 290.7L1441.7 290.7L1443.1 290.7L1444.4 290.7L1445.8 290.6L1447.2 290.6L1448.6 290.6L1450.0 290.5L1451.4 290.5L1452.8 290.5L1454.2 290.4L1455.6 290.4L1457.0 290.4L1458.3 290.4L1459.7 290.3L1461.1 290.3L1462.5 290.3L1463.9 290.2L1465.3 290.2L1466.7 290.2L1468.1 290.2L1469.5 290.1L1470.9 290.1L1472.2 290.1L1473.6 290.1L1475.0 290.0L1476.4 290.0L1477.8 290.0L1479.2 290.0L1480.6 289.9L1482.0 289.9L1483.4 289.9L1484.8 289.9L1486.1 289.8L1487.5 289.8L1488.9 289.8L1490.3 289.8L1491.7 289.7L1493.1 289.7L1494.5 289.7L1495.9 289.7L1497.3 289.7L1498.7 289.6L1500.0 289.6L1501.4 289.6L1502.8 289.6L1504.2 289.5L1505.6 289.5L1507.0 289.5L1508.4 289.5L1509.8 289.5L1511.2 289.4L1512.6 289.4L1513.9 289.4L1515.3 289.4L1516.7 289.4L1518.1 289.3L1519.5 289.3L1520.9 289.3L1522.3 289.3L1523.7 289.3L1525.1 289.3L1526.5 289.2L1527.9 289.2L1529.2 289.2L1530.6 289.2L1532.0 289.2L1533.4 289.1L1534.8 289.1L1536.2 289.1L1537.6 289.1L1539.0 289.1L1540.4 289.1L1541.8 289.0L1543.1 289.0L1544.5 289.0L1545.9 289.0L1547.3 289.0L1548.7 288.9L1550.1 288.9L1551.5 288.9L1552.9 288.9L1554.3 288.9L1555.7 288.9L1557.0 288.8L1558.4 288.8L1559.8 288.8L1561.2 288.8L1562.6 288.8L1564.0 288.8L1565.4 288.8L1566.8 288.7L1568.2 288.7L1569.6 288.7L1571.0 288.7L1572.3 288.7L1573.7 288.7L1575.1 288.6L1576.5 288.6L1577.9 288.6L1579.3 288.6L1580.7 288.6L1582.1 288.6L1583.5 288.5L1584.9 288.5L1586.2 288.5L1587.6 288.5L1589.0 288.5L1590.4 288.5L1591.8 288.5L1593.2 288.4L1594.6 288.4L1596.0 288.4L1597.4 288.4L1598.8 288.4L1600.1 288.4L1601.5 288.3L1602.9 288.3L1604.3 288.3L1605.7 288.3L1607.1 288.3L1608.5 288.3L1609.9 288.3L1611.3 288.2L1612.7 288.2L1614.0 288.2L1615.4 288.2L1616.8 288.2L1618.2 288.2L1619.6 288.2L1621.0 288.2L1622.4 288.1L1623.8 288.1L1625.2 288.1L1626.6 288.1L1627.9 288.1L1629.3 288.1L1630.7 288.1L1632.1 288.1L1633.5 288.0L1634.9 288.0L1636.3 288.0L1637.7 288.0L1639.1 288.0L1640.5 288.0L1641.8 288.0L1643.2 288.0L1644.6 287.9L1646.0 287.9L1647.4 287.9L1648.8 287.9L1650.2 287.9L1651.6 287.9L1653.0 287.9L1654.4 287.9L1655.7 287.9L1657.1 287.8L1658.5 287.8L1659.9 287.8L1661.3 287.8L1662.7 287.8L1664.1 287.8L1665.5 287.8L1666.9 287.8L1668.3 287.8L1669.6 287.7L1671.0 287.7L1672.4 287.7L1673.8 287.7L1675.2 287.7L1676.6 287.7L1678.0 287.7L1679.4 287.7L1680.8 287.7L1682.2 287.7L1683.5 287.6L1684.9 287.6L1686.3 287.6L1687.7 287.6L1689.1 287.6L1690.5 287.6L1691.9 287.6L1693.3 287.6L1694.7 287.6L1696.1 287.5L1697.4 287.5L1698.8 287.5L1700.2 287.5L1701.6 287.5L1703.0 287.5L1704.4 287.5L1705.8 287.5L1707.2 287.5L1708.6 287.5L1710.0 287.5L1711.3 287.5L1712.7 287.4L1714.1 287.4L1715.5 287.4L1716.9 287.4L1718.3 287.4L1719.7 287.4L1721.1 287.4L1722.5 287.4L1723.9 287.4L1725.2 287.4L1726.6 287.4L1728.0 287.4L1729.4 287.3L1730.8 287.3L1732.2 287.3L1733.6 287.3L1735.0 287.3L1736.4 287.3L1737.8 287.3L1739.1 287.3L1740.5 287.3L1741.9 287.3L1743.3 287.3L1744.7 287.3L1746.1 287.3L1747.5 287.2L1748.9 287.2L1750.3 287.2L1751.7 287.2L1753.0 287.2L1754.4 287.2L1755.8 287.2L1757.2 287.2L1758.6 287.2L1760.0 287.2L1761.4 287.2L1762.8 287.2L1764.2 287.1L1765.6 287.1L1766.9 287.1L1768.3 287.1L1769.7 287.1L1771.1 287.1L1772.5 287.1L1773.9 287.1L1775.3 287.1L1776.7 287.1L1778.1 287.1L1779.5 287.1L1780.8 287.1L1782.2 287.0L1783.6 287.0L1785.0 287.0L1786.4 287.0L1787.8 287.0L1789.2 287.0L1790.6 287.0L1792.0 287.0L1793.4 287.0L1794.7 287.0L1796.1 287.0L1797.5 287.0L1798.9 286.9L1800.3 286.9L1801.7 286.9L1803.1 286.9L1804.5 286.9L1805.9 286.9L1807.3 286.9L1808.6 286.9L1810.0 286.9L1811.4 286.9L1812.8 286.9L1814.2 286.9L1815.6 286.9L1817.0 286.8L1818.4 286.8L1819.8 286.8L1821.2 286.8L1822.5 286.8L1823.9 286.8L1825.3 286.8L1826.7 286.8L1828.1 286.8L1829.5 286.8L1830.9 286.8L1832.3 286.8L1833.7 286.8L1835.1 286.7L1836.4 286.7L1837.8 286.7L1839.2 286.7L1840.6 286.7L1842.0 286.7L1843.4 286.7L1844.8 286.7L1846.2 286.7L1847.6 286.7L1849.0 286.7L1850.3 286.7L1851.7 286.7L1853.1 286.6L1854.5 286.6L1855.9 286.6L1857.3 286.6L1858.7 286.6L1860.1 286.6L1861.5 286.6L1862.9 286.6L1864.2 286.6L1865.6 286.6L1867.0 286.6L1868.4 286.6L1869.8 286.6L1871.2 286.5L1872.6 286.5L1874.0 286.5L1875.4 286.5L1876.8 286.5L1878.1 286.5L1879.5 286.5L1880.9 286.5L1882.3 286.5" fill="none" stroke="#f00" stroke-width="6" stroke-linecap="round" stroke-linejoin="round"/>
<path d="M321.4 972.7L322.7 972.7L324.1 972.7L325.4 972.7L326.8 972.7L328.1 972.7L329.5 972.7L330.9 972.7L332.2 972.7L333.6 972.7L334.9 972.7L336.3 972.7L337.6 972.7L339.0 972.6L340.4 972.6L341.7 972.6L343.1 972.6L344.4 972.6L345.8 972.6L347.1 972.6L348.5 972.6L349.8 972.6L351.2 972.6L352.6 972.6L353.9 972.6L355.3 972.6L356.6 972.5L358.0 972.5L359.3 972.5L360.7 972.5L362.1 972.5L363.4 972.5L364.8 972.5L366.1 972.5L367.5 972.5L368.8 972.5L370.2 972.5L371.6 972.5L372.9 972.4L374.3 972.4L375.6 972.4L377.0 972.4L378.3 972.4L379.7 972.4L381.1 972.4L382.4 972.4L383.8 972.4L385.1 972.4L386.5 972.4L387.8 972.4L389.2 972.4L390.6 972.3L391.9 972.3L393.3 972.3L394.6 972.3L396.0 972.3L397.3 972.3L398.7 972.3L400.1 972.3L401.4 972.3L402.8 972.3L404.1 972.3L405.5 972.2L406.8 972.2L408.2 972.2L409.6 972.2L410.9 972.2L412.3 972.2L413.6 972.2L415.0 972.2L416.3 972.2L417.7 972.2L419.1 972.2L420.4 972.2L421.8 972.1L423.1 972.1L424.5 972.1L425.8 972.1L427.2 972.1L428.6 972.1L429.9 972.1L431.3 972.1L432.6 972.1L434.0 972.1L435.3 972.1L436.7 972.0L438.1 972.0L439.4 972.0L440.8 972.0L442.1 972.0L443.5 972.0L444.8 972.0L446.2 972.0L447.5 972.0L448.9 972.0L450.3 972.0L451.6 971.9L453.0 971.9L454.3 971.9L455.7 971.9L457.0 971.9L458.4 971.9L459.8 971.9L461.1 971.9L462.5 971.9L463.8 971.9L465.2 971.9L466.5 971.8L467.9 971.8L469.3 971.8L470.6 971.8L472.0 971.8L473.3 971.8L474.7 971.8L476.0 971.8L477.4 971.8L478.8 971.8L480.1 971.8L481.5 971.7L482.8 971.7L484.2 971.7L485.5 971.7L486.9 971.7L488.3 971.7L489.6 971.7L491.0 971.7L492.3 971.7L493.7 971.7L495.0 971.7L496.4 971.6L497.8 971.6L499.1 971.6L500.5 971.6L501.8 971.6L503.2 971.6L504.5 971.6L505.9 971.6L507.3 971.6L508.6 971.6L510.0 971.5L511.3 971.5L512.7 971.5L514.0 971.5L515.4 971.5L516.8 971.5L518.1 971.5L519.5 971.5L520.8 971.5L522.2 971.5L523.5 971.5L524.9 971.4L526.3 971.4L527.6 971.4L529.0 971.4L530.3 971.4L531.7 971.4L533.0 971.4L534.4 971.4L535.7 971.4L537.1 971.4L538.5 971.4L539.8 971.3L541.2 971.3L542.5 971.3L543.9 971.3L545.2 971.3L546.6 971.3L548.0 971.3L549.3 971.3L550.7 971.3L552.0 971.3L553.4 971.2L554.7 971.2L556.1 971.2L557.5 971.2L558.8 971.2L560.2 971.2L561.5 971.2L562.9 971.2L564.2 971.2L565.6 971.1L567.0 971.1L568.3 971.1L569.7 971.1L571.0 971.1L572.4 971.1L573.7 971.1L575.1 971.1L576.5 971.1L577.8 971.0L579.2 971.0L580.5 971.0L581.9 971.0L583.2 971.0L584.6 971.0L586.0 971.0L587.3 971.0L588.7 971.0L590.0 970.9L591.4 970.9L592.7 970.9L594.1 970.9L595.5 970.9L596.8 970.9L598.2 970.9L599.5 970.9L600.9 970.8L602.2 970.8L603.6 970.8L605.0 970.8L606.3 970.8L607.7 970.8L609.0 970.8L610.4 970.8L611.7 970.7L613.1 970.7L614.4 970.7L615.8 970.7L617.2 970.7L618.5 970.7L619.9 970.7L621.2 970.7L622.6 970.6L623.9 970.6L625.3 970.6L626.7 970.6L628.0 970.6L629.4 970.6L630.7 970.6L632.1 970.5L633.4 970.5L634.8 970.5L636.2 970.5L637.5 970.5L638.9 970.5L640.2 970.5L641.6 970.4L642.9 970.4L644.3 970.4L645.7 970.4L647.0 970.4L648.4 970.4L649.7 970.3L651.1 970.3L652.4 970.3L653.8 970.3L655.2 970.3L656.5 970.3L657.9 970.2L659.2 970.2L660.6 970.2L661.9 970.2L663.3 970.2L664.7 970.2L666.0 970.1L667.4 970.1L668.7 970.1L670.1 970.1L671.4 970.1L672.8 970.0L674.2 970.0L675.5 970.0L676.9 970.0L678.2 970.0L679.6 970.0L680.9 969.9L682.3 969.9L683.6 969.9L685.0 969.9L686.4 969.9L687.7 969.8L689.1 969.8L690.4 969.8L691.8 969.8L693.1 969.8L694.5 969.7L695.9 969.7L697.2 969.7L698.6 969.7L699.9 969.7L701.3 969.6L702.6 969.6L704.0 969.6L705.4 969.6L706.7 969.6L708.1 969.5L709.4 969.5L710.8 969.5L712.1 969.5L713.5 969.4L714.9 969.4L716.2 969.4L717.6 969.4L718.9 969.4L720.3 969.3L721.6 969.3L723.0 969.3L724.4 969.3L725.7 969.2L727.1 969.2L728.4 969.2L729.8 969.2L731.1 969.1L732.5 969.1L733.8 969.1L735.2 969.1L736.6 969.0L737.9 969.0L739.3 969.0L740.6 969.0L742.0 968.9L743.3 968.9L744.7 968.9L746.1 968.9L747.4 968.8L748.8 968.8L750.1 968.8L751.5 968.8L752.8 968.7L754.2 968.7L755.6 968.7L756.9 968.7L758.3 968.6L759.6 968.6L761.0 968.6L762.3 968.6L763.7 968.5L765.1 968.5L766.4 968.5L767.8 968.5L769.1 968.4L770.5 968.4L771.8 968.4L773.2 968.3L774.5 968.3L775.9 968.3L777.3 968.3L778.6 968.2L780.0 968.2L781.3 968.2L782.7 968.1L784.0 968.1L785.4 968.1L786.8 968.1L788.1 968.0L789.5 968.0L790.8 968.0L792.2 967.9L793.5 967.9L794.9 967.9L796.3 967.8L797.6 967.8L799.0 967.8L800.3 967.7L801.7 967.7L803.0 967.7L804.4 967.6L805.8 967.6L807.1 967.6L808.5 967.5L809.8 967.5L811.2 967.5L812.5 967.4L813.9 967.4L815.2 967.4L816.6 967.3L818.0 967.3L819.3 967.3L820.7 967.2L822.0 967.2L823.4 967.1L824.7 967.1L826.1 967.1L827.5 967.0L828.8 967.0L830.2 967.0L831.5 966.9L832.9 966.9L834.2 966.8L835.6 966.8L837.0 966.7L838.3 966.7L839.7 966.7L841.0 966.6L842.4 966.6L843.7 966.5L845.1 966.5L846.4 966.4L847.8 966.4L849.2 966.3L850.5 966.3L851.9 966.2L853.2 966.2L854.6 966.1L855.9 966.1L857.3 966.0L858.6 966.0L860.0 965.9L861.4 965.8L862.7 965.8L864.1 965.7L865.4 965.7L866.8 965.6L868.1 965.6L869.5 965.5L870.8 965.4L872.2 965.4L873.5 965.3L874.9 965.2L876.3 965.1L877.6 965.1L879.0 965.0L880.3 964.9L881.7 964.8L883.0 964.7L884.4 964.7L885.7 964.6L887.1 964.5L888.4 964.4L889.8 964.3L891.1 964.2L892.5 964.1L893.9 964.0L895.2 963.9L896.6 963.8L897.9 963.6L899.3 963.5L900.6 963.4L902.0 963.3L903.3 963.2L904.7 963.1L906.0 963.0L907.4 962.8L908.7 962.7L910.1 962.6L911.4 962.5L912.8 962.4L914.1 962.2L915.5 962.1L916.8 962.0L918.2 961.8L919.5 961.7L920.9 961.6L922.2 961.4L923.6 961.3L924.9 961.2L926.3 961.0L927.6 960.9L929.0 960.7L930.3 960.6L931.7 960.5L933.0 960.3L934.4 960.2L935.7 960.0L937.1 959.8L938.4 959.7L939.8 959.5L941.1 959.4L942.5 959.2L943.8 959.1L945.2 958.9L946.5 958.7L947.8 958.6L949.2 958.4L950.5 958.3L951.9 958.1L953.2 957.9L954.6 957.7L955.9 957.5L957.3 957.4L958.6 957.2L959.9 957.0L961.3 956.8L962.6 956.6L964.0 956.3L965.3 956.1L966.6 955.9L968.0 955.7L969.3 955.4L970.6 955.2L972.0 954.9L973.3 954.6L974.6 954.4L976.0 954.1L977.3 953.8L978.6 953.5L979.9 953.1L981.2 952.8L982.5 952.4L983.8 952.1L985.1 951.7L986.4 951.3L987.7 950.9L989.0 950.5L990.3 950.1L991.6 949.6L992.9 949.2L994.1 948.7L995.4 948.3L996.7 947.8L998.0 947.4L999.2 946.9L1000.5 946.4L1001.8 945.9L1003.0 945.4L1004.3 944.9L1005.6 944.4L1006.8 943.9L1008.1 943.4L1009.3 942.9L1010.6 942.3L1011.8 941.8L1013.1 941.2L1014.3 940.7L1015.5 940.1L1016.7 939.5L1017.9 938.9L1019.1 938.2L1020.3 937.6L1021.4 936.9L1022.6 936.2L1023.7 935.5L1024.9 934.7L1026.0 934.0L1027.1 933.2L1028.2 932.4L1029.3 931.6L1030.4 930.8L1031.4 929.9L1032.5 929.1L1033.5 928.2L1034.5 927.3L1035.5 926.4L1036.5 925.5L1037.5 924.5L1038.4 923.6L1039.3 922.6L1040.2 921.6L1041.1 920.6L1042.0 919.6L1042.8 918.5L1043.6 917.5L1044.4 916.4L1045.2 915.3L1046.0 914.3L1046.7 913.1L1047.5 912.0L1048.2 910.9L1049.0 909.8L1049.7 908.7L1050.4 907.5L1051.1 906.4L1051.8 905.2L1052.5 904.1L1053.2 903.0L1053.9 901.8L1054.6 900.6L1055.3 899.5L1056.0 898.3L1056.6 897.1L1057.3 896.0L1057.9 894.8L1058.5 893.6L1059.1 892.4L1059.7 891.2L1060.2 890.0L1060.8 888.8L1061.3 887.6L1061.9 886.4L1062.4 885.1L1062.9 883.9L1063.4 882.7L1064.0 881.5L1064.5 880.2L1065.0 879.0L1065.5 877.8L1066.0 876.5L1066.6 875.3L1067.1 874.1L1067.6 872.9L1068.1 871.6L1068.6 870.4L1069.1 869.2L1069.6 867.9L1070.0 866.7L1070.5 865.4L1070.9 864.1L1071.3 862.9L1071.7 861.6L1072.1 860.3L1072.5 859.0L1072.9 857.8L1073.3 856.5L1073.7 855.2L1074.0 853.9L1074.4 852.6L1074.8 851.3L1075.1 850.0L1075.5 848.7L1075.9 847.4L1076.2 846.1L1076.6 844.8L1077.0 843.5L1077.3 842.2L1077.7 840.9L1078.0 839.6L1078.4 838.3L1078.8 837.0L1079.1 835.7L1079.5 834.4L1079.9 833.1L1080.2 831.8L1080.6 830.5L1080.9 829.2L1081.3 827.9L1081.6 826.6L1081.9 825.3L1082.3 824.0L1082.6 822.7L1082.9 821.4L1083.3 820.0L1083.6 818.7L1083.9 817.4L1084.2 816.1L1084.5 814.8L1084.8 813.5L1085.1 812.2L1085.4 810.8L1085.7 809.5L1086.0 808.2L1086.3 806.9L1086.6 805.6L1086.9 804.2L1087.1 802.9L1087.4 801.6L1087.7 800.3L1087.9 798.9L1088.2 797.6L1088.4 796.3L1088.7 794.9L1088.9 793.6L1089.1 792.3L1089.4 790.9L1089.6 789.6L1089.8 788.2L1090.1 786.9L1090.3 785.6L1090.5 784.2L1090.7 782.9L1090.9 781.6L1091.1 780.2L1091.3 778.9L1091.5 777.5L1091.7 776.2L1091.9 774.8L1092.1 773.5L1092.3 772.2L1092.5 770.8L1092.6 769.5L1092.8 768.1L1093.0 766.8L1093.2 765.4L1093.3 764.1L1093.5 762.8L1093.6 761.4L1093.8 760.1L1094.0 758.7L1094.1 757.4L1094.3 756.0L1094.4 754.7L1094.6 753.3L1094.7 752.0L1094.8 750.6L1095.0 749.3L1095.1 747.9L1095.3 746.6L1095.4 745.2L1095.6 743.9L1095.7 742.5L1095.9 741.2L1096.1 739.8L1096.2 738.5L1096.4 737.2L1096.6 735.8L1096.7 734.5L1096.9 733.1L1097.1 731.8L1097.2 730.4L1097.4 729.1L1097.6 727.7L1097.7 726.4L1097.9 725.0L1098.1 723.7L1098.3 722.3L1098.4 721.0L1098.6 719.7L1098.8 718.3L1099.0 717.0L1099.1 715.6L1099.3 714.3L1099.5 712.9L1099.7 711.6L1099.9 710.2L1100.1 708.9L1100.2 707.6L1100.4 706.2L1100.6 704.9L1100.8 703.5L1101.0 702.2L1101.2 700.8L1101.4 699.5L1101.6 698.2L1101.8 696.8L1102.0 695.5L1102.2 694.1L1102.5 692.8L1102.7 691.5L1102.9 690.1L1103.1 688.8L1103.3 687.4L1103.6 686.1L1103.8 684.8L1104.0 683.4L1104.2 682.1L1104.4 680.8L1104.7 679.4L1104.9 678.1L1105.1 676.7L1105.3 675.4L1105.5 674.1L1105.6 672.7L1105.8 671.4L1106.0 670.0L1106.2 668.7L1106.3 667.3L1106.5 666.0L1106.7 664.6L1106.8 663.3L1107.0 661.9L1107.1 660.6L1107.3 659.2L1107.4 657.9L1107.6 656.5L1107.7 655.2L1107.9 653.9L1108.0 652.5L1108.2 651.2L1108.3 649.8L1108.5 648.5L1108.6 647.1L1108.8 645.8L1108.9 644.4L1109.1 643.1L1109.2 641.7L1109.4 640.4L1109.6 639.0L1109.7 637.7L1109.9 636.3L1110.1 635.0L1110.2 633.6L1110.4 632.3L1110.6 630.9L1110.7 629.6L1110.9 628.2L1111.1 626.9L1111.3 625.5L1111.4 624.2L1111.6 622.8L1111.8 621.5L1112.0 620.2L1112.1 618.8L1112.3 617.5L1112.5 616.1L1112.7 614.8L1112.8 613.4L1113.0 612.1L1113.2 610.7L1113.4 609.4L1113.6 608.0L1113.8 606.7L1114.0 605.4L1114.1 604.0L1114.3 602.7L1114.5 601.3L1114.7 600.0L1114.9 598.6L1115.1 597.3L1115.3 595.9L1115.5 594.6L1115.7 593.3L1115.9 591.9L1116.1 590.6L1116.3 589.2L1116.5 587.9L1116.7 586.5L1116.9 585.2L1117.1 583.8L1117.3 582.5L1117.5 581.2L1117.7 579.8L1117.9 578.5L1118.1 577.1L1118.3 575.8L1118.5 574.4L1118.7 573.1L1118.9 571.7L1119.1 570.4L1119.3 569.1L1119.5 567.7L1119.7 566.4L1119.9 565.0L1120.1 563.7L1120.3 562.3L1120.5 561.0L1120.7 559.6L1120.9 558.3L1121.1 556.9L1121.3 555.6L1121.5 554.3L1121.7 552.9L1121.9 551.6L1122.1 550.2L1122.4 548.9L1122.6 547.5L1122.8 546.2L1123.0 544.8L1123.2 543.5L1123.4 542.2L1123.7 540.8L1123.9 539.5L1124.1 538.1L1124.3 536.8L1124.6 535.4L1124.8 534.1L1125.0 532.8L1125.3 531.4L1125.5 530.1L1125.7 528.7L1126.0 527.4L1126.2 526.0L1126.4 524.7L1126.7 523.4L1126.9 522.0L1127.1 520.7L1127.4 519.3L1127.6 518.0L1127.9 516.7L1128.1 515.3L1128.4 514.0L1128.6 512.6L1128.9 511.3L1129.1 510.0L1129.4 508.6L1129.6 507.3L1129.9 506.0L1130.1 504.6L1130.4 503.3L1130.6 502.0L1130.9 500.6L1131.2 499.3L1131.4 497.9L1131.7 496.6L1132.0 495.3L1132.2 494.0L1132.5 492.6L1132.8 491.3L1133.0 490.0L1133.3 488.6L1133.6 487.3L1133.9 486.0L1134.1 484.6L1134.4 483.3L1134.7 482.0L1135.0 480.7L1135.3 479.3L1135.6 478.0L1135.9 476.7L1136.2 475.4L1136.4 474.0L1136.7 472.7L1137.0 471.4L1137.3 470.1L1137.6 468.7L1138.0 467.4L1138.3 466.1L1138.6 464.8L1139.0 463.5L1139.3 462.1L1139.7 460.8L1140.0 459.5L1140.4 458.2L1140.8 456.9L1141.1 455.6L1141.5 454.3L1141.9 453.0L1142.3 451.6L1142.7 450.3L1143.1 449.0L1143.6 447.7L1144.0 446.4L1144.4 445.1L1144.9 443.8L1145.3 442.6L1145.8 441.3L1146.2 440.0L1146.7 438.7L1147.2 437.4L1147.7 436.1L1148.1 434.8L1148.6 433.6L1149.1 432.3L1149.6 431.0L1150.1 429.7L1150.6 428.5L1151.2 427.2L1151.7 425.9L1152.2 424.7L1152.7 423.4L1153.2 422.1L1153.8 420.9L1154.3 419.6L1154.8 418.4L1155.4 417.1L1156.0 415.9L1156.6 414.6L1157.1 413.4L1157.8 412.2L1158.4 411.0L1159.0 409.8L1159.7 408.6L1160.3 407.4L1161.0 406.2L1161.7 405.0L1162.4 403.8L1163.1 402.6L1163.7 401.4L1164.4 400.2L1165.1 399.0L1165.7 397.8L1166.4 396.6L1167.0 395.4L1167.6 394.2L1168.2 393.0L1168.8 391.7L1169.4 390.5L1170.0 389.3L1170.6 388.0L1171.2 386.8L1171.8 385.6L1172.4 384.4L1173.1 383.1L1173.7 381.9L1174.4 380.7L1175.0 379.6L1175.7 378.4L1176.5 377.2L1177.2 376.1L1178.0 375.0L1178.8 373.8L1179.6 372.7L1180.4 371.7L1181.3 370.6L1182.1 369.6L1183.0 368.5L1184.0 367.5L1184.9 366.5L1185.9 365.5L1186.8 364.6L1187.8 363.6L1188.9 362.7L1189.9 361.8L1190.9 360.9L1192.0 360.0L1193.0 359.2L1194.1 358.3L1195.2 357.5L1196.3 356.7L1197.4 355.8L1198.5 355.0L1199.6 354.2L1200.7 353.5L1201.9 352.7L1203.0 351.9L1204.2 351.2L1205.3 350.4L1206.5 349.7L1207.6 349.0L1208.8 348.3L1210.0 347.6L1211.2 346.9L1212.4 346.2L1213.6 345.5L1214.8 344.9L1216.0 344.3L1217.2 343.6L1218.4 343.0L1219.7 342.5L1220.9 341.9L1222.2 341.3L1223.4 340.8L1224.7 340.3L1226.0 339.8L1227.2 339.3L1228.5 338.8L1229.8 338.3L1231.1 337.9L1232.4 337.5L1233.7 337.0L1235.0 336.6L1236.3 336.2L1237.6 335.8L1238.9 335.4L1240.2 335.0L1241.5 334.6L1242.8 334.2L1244.2 333.9L1245.5 333.5L1246.8 333.2L1248.1 332.8L1249.4 332.5L1250.8 332.2L1252.1 331.8L1253.4 331.5L1254.7 331.2L1256.1 330.9L1257.4 330.6L1258.7 330.3L1260.1 330.1L1261.4 329.8L1262.8 329.5L1264.1 329.3L1265.4 329.0L1266.8 328.8L1268.1 328.5L1269.5 328.3L1270.8 328.1L1272.1 327.9L1273.5 327.7L1274.8 327.4L1276.2 327.3L1277.5 327.1L1278.9 326.9L1280.2 326.7L1281.6 326.5L1282.9 326.3L1284.3 326.2L1285.6 326.0L1287.0 325.9L1288.3 325.7L1289.7 325.6L1291.0 325.4L1292.4 325.3L1293.7 325.1L1295.1 325.0L1296.5 324.9L1297.8 324.7L1299.2 324.6L1300.5 324.5L1301.9 324.4L1303.2 324.3L1304.6 324.1L1305.9 324.0L1307.3 323.9L1308.7 323.8L1310.0 323.7L1311.4 323.6L1312.7 323.5L1314.1 323.4L1315.4 323.2L1316.8 323.1L1318.1 323.0L1319.5 322.9L1320.8 322.8L1322.2 322.7L1323.6 322.6L1324.9 322.5L1326.3 322.4L1327.6 322.3L1329.0 322.2L1330.3 322.1L1331.7 322.0L1333.1 321.9L1334.4 321.8L1335.8 321.7L1337.1 321.6L1338.5 321.5L1339.8 321.4L1341.2 321.3L1342.5 321.2L1343.9 321.1L1345.3 321.0L1346.6 320.9L1348.0 320.8L1349.3 320.7L1350.7 320.6L1352.0 320.5L1353.4 320.4L1354.8 320.3L1356.1 320.2L1357.5 320.1L1358.8 320.0L1360.2 319.9L1361.5 319.9L1362.9 319.8L1364.3 319.7L1365.6 319.6L1367.0 319.5L1368.3 319.4L1369.7 319.4L1371.0 319.3L1372.4 319.2L1373.8 319.1L1375.1 319.1L1376.5 319.0L1377.8 318.9L1379.2 318.9L1380.5 318.8L1381.9 318.7L1383.3 318.7L1384.6 318.6L1386.0 318.5L1387.3 318.5L1388.7 318.4L1390.0 318.4L1391.4 318.3L1392.8 318.3L1394.1 318.2L1395.5 318.2L1396.8 318.1L1398.2 318.1L1399.5 318.0L1400.9 318.0L1402.2 317.9L1403.6 317.9L1405.0 317.9L1406.3 317.8L1407.7 317.8L1409.0 317.8L1410.4 317.7L1411.7 317.7L1413.1 317.7L1414.5 317.6L1415.8 317.6L1417.2 317.6L1418.5 317.5L1419.9 317.5L1421.2 317.5L1422.6 317.4L1424.0 317.4L1425.3 317.4L1426.7 317.3L1428.0 317.3L1429.4 317.3L1430.7 317.2L1432.1 317.2L1433.5 317.2L1434.8 317.2L1436.2 317.1L1437.5 317.1L1438.9 317.1L1440.2 317.0L1441.6 317.0L1443.0 317.0L1444.3 317.0L1445.7 316.9L1447.0 316.9L1448.4 316.9L1449.7 316.8L1451.1 316.8L1452.5 316.8L1453.8 316.8L1455.2 316.7L1456.5 316.7L1457.9 316.7L1459.2 316.7L1460.6 316.6L1462.0 316.6L1463.3 316.6L1464.7 316.6L1466.0 316.5L1467.4 316.5L1468.7 316.5L1470.1 316.5L1471.5 316.5L1472.8 316.4L1474.2 316.4L1475.5 316.4L1476.9 316.4L1478.2 316.3L1479.6 316.3L1481.0 316.3L1482.3 316.3L1483.7 316.3L1485.0 316.2L1486.4 316.2L1487.7 316.2L1489.1 316.2L1490.5 316.1L1491.8 316.1L1493.2 316.1L1494.5 316.1L1495.9 316.1L1497.2 316.0L1498.6 316.0L1500.0 316.0L1501.3 316.0L1502.7 316.0L1504.0 315.9L1505.4 315.9L1506.8 315.9L1508.1 315.9L1509.5 315.9L1510.8 315.9L1512.2 315.8L1513.5 315.8L1514.9 315.8L1516.3 315.8L1517.6 315.8L1519.0 315.7L1520.3 315.7L1521.7 315.7L1523.0 315.7L1524.4 315.7L1525.8 315.7L1527.1 315.6L1528.5 315.6L1529.8 315.6L1531.2 315.6L1532.5 315.6L1533.9 315.6L1535.3 315.5L1536.6 315.5L1538.0 315.5L1539.3 315.5L1540.7 315.5L1542.1 315.5L1543.4 315.4L1544.8 315.4L1546.1 315.4L1547.5 315.4L1548.8 315.4L1550.2 315.4L1551.6 315.3L1552.9 315.3L1554.3 315.3L1555.6 315.3L1557.0 315.3L1558.3 315.3L1559.7 315.2L1561.1 315.2L1562.4 315.2L1563.8 315.2L1565.1 315.2L1566.5 315.2L1567.8 315.1L1569.2 315.1L1570.6 315.1L1571.9 315.1L1573.3 315.1L1574.6 315.1L1576.0 315.1L1577.3 315.0L1578.7 315.0L1580.1 315.0L1581.4 315.0L1582.8 315.0L1584.1 315.0L1585.5 314.9L1586.8 314.9L1588.2 314.9L1589.6 314.9L1590.9 314.9L1592.3 314.9L1593.6 314.8L1595.0 314.8L1596.3 314.8L1597.7 314.8L1599.1 314.8L1600.4 314.8L1601.8 314.7L1603.1 314.7L1604.5 314.7L1605.9 314.7L1607.2 314.7L1608.6 314.7L1609.9 314.6L1611.3 314.6L1612.6 314.6L1614.0 314.6L1615.4 314.6L1616.7 314.6L1618.1 314.5L1619.4 314.5L1620.8 314.5L1622.1 314.5L1623.5 314.5L1624.9 314.5L1626.2 314.5L1627.6 314.4L1628.9 314.4L1630.3 314.4L1631.6 314.4L1633.0 314.4L1634.4 314.4L1635.7 314.4L1637.1 314.3L1638.4 314.3L1639.8 314.3L1641.1 314.3L1642.5 314.3L1643.9 314.3L1645.2 314.3L1646.6 314.2L1647.9 314.2L1649.3 314.2L1650.6 314.2L1652.0 314.2L1653.4 314.2L1654.7 314.2L1656.1 314.1L1657.4 314.1L1658.8 314.1L1660.1 314.1L1661.5 314.1L1662.9 314.1L1664.2 314.1L1665.6 314.0L1666.9 314.0L1668.3 314.0L1669.6 314.0L1671.0 314.0L1672.4 314.0L1673.7 314.0L1675.1 314.0L1676.4 313.9L1677.8 313.9L1679.1 313.9L1680.5 313.9L1681.9 313.9L1683.2 313.9L1684.6 313.9L1685.9 313.9L1687.3 313.8L1688.6 313.8L1690.0 313.8L1691.4 313.8L1692.7 313.8L1694.1 313.8L1695.4 313.8L1696.8 313.7L1698.1 313.7L1699.5 313.7L1700.9 313.7L1702.2 313.7L1703.6 313.7L1704.9 313.7L1706.3 313.6L1707.6 313.6L1709.0 313.6L1710.4 313.6L1711.7 313.6L1713.1 313.6L1714.4 313.6L1715.8 313.5L1717.1 313.5L1718.5 313.5L1719.9 313.5L1721.2 313.5L1722.6 313.5L1723.9 313.5L1725.3 313.4L1726.6 313.4L1728.0 313.4L1729.4 313.4L1730.7 313.4L1732.1 313.4L1733.4 313.3L1734.8 313.3L1736.1 313.3L1737.5 313.3L1738.9 313.3L1740.2 313.3L1741.6 313.3L1742.9 313.2L1744.3 313.2L1745.6 313.2L1747.0 313.2L1748.4 313.2L1749.7 313.2L1751.1 313.2L1752.4 313.1L1753.8 313.1L1755.1 313.1L1756.5 313.1L1757.9 313.1L1759.2 313.1L1760.6 313.1L1761.9 313.0L1763.3 313.0L1764.6 313.0L1766.0 313.0L1767.4 313.0L1768.7 313.0L1770.1 312.9L1771.4 312.9L1772.8 312.9L1774.1 312.9L1775.5 312.9L1776.9 312.9L1778.2 312.9L1779.6 312.8L1780.9 312.8L1782.3 312.8L1783.6 312.8L1785.0 312.8L1786.4 312.8L1787.7 312.8L1789.1 312.7L1790.4 312.7L1791.8 312.7L1793.1 312.7L1794.5 312.7L1795.9 312.7L1797.2 312.7L1798.6 312.7L1799.9 312.6L1801.3 312.6L1802.6 312.6L1804.0 312.6L1805.4 312.6L1806.7 312.6L1808.1 312.6L1809.4 312.5L1810.8 312.5L1812.1 312.5L1813.5 312.5L1814.9 312.5L1816.2 312.5L1817.6 312.5L1818.9 312.4L1820.3 312.4L1821.6 312.4L1823.0 312.4L1824.4 312.4L1825.7 312.4L1827.1 312.4L1828.4 312.4L1829.8 312.3L1831.1 312.3L1832.5 312.3L1833.9 312.3L1835.2 312.3L1836.6 312.3L1837.9 312.3L1839.3 312.2L1840.6 312.2L1842.0 312.2L1843.4 312.2L1844.7 312.2L1846.1 312.2L1847.4 312.2L1848.8 312.2L1850.1 312.1L1851.5 312.1L1852.9 312.1L1854.2 312.1L1855.6 312.1L1856.9 312.1L1858.3 312.1L1859.6 312.1L1861.0 312.0L1862.4 312.0L1863.7 312.0L1865.1 312.0L1866.4 312.0L1867.8 312.0L1869.1 312.0L1870.5 312.0L1871.9 311.9L1873.2 311.9L1874.6 311.9L1875.9 311.9L1877.3 311.9L1878.6 311.9L1880.0 311.9L1881.4 311.9L1882.7 311.8L1884.1 311.8L1885.4 311.8L1886.8 311.8L1888.1 311.8L1889.5 311.8L1890.9 311.8L1892.2 311.8L1893.6 311.7L1894.9 311.7L1896.3 311.7" fill="none" stroke="#00f" stroke-width="6" stroke-linecap="round" stroke-linejoin="round"/>
<path d="M320.0 973.3L321.4 973.3L322.7 973.3L324.1 973.3L325.4 973.3L326.8 973.3L328.1 973.3L329.5 973.3L330.9 973.3L332.2 973.3L333.6 973.3L334.9 973.3L336.3 973.3L337.6 973.3L339.0 973.2L340.4 973.2L341.7 973.2L343.1 973.2L344.4 973.2L345.8 973.2L347.1 973.2L348.5 973.2L349.9 973.2L351.2 973.2L352.6 973.2L353.9 973.2L355.3 973.2L356.6 973.1L358.0 973.1L359.4 973.1L360.7 973.1L362.1 973.1L363.4 973.1L364.8 973.1L366.1 973.1L367.5 973.1L368.9 973.1L370.2 973.1L371.6 973.1L372.9 973.0L374.3 973.0L375.6 973.0L377.0 973.0L378.4 973.0L379.7 973.0L381.1 973.0L382.4 973.0L383.8 973.0L385.1 973.0L386.5 973.0L387.9 973.0L389.2 973.0L390.6 972.9L391.9 972.9L393.3 972.9L394.6 972.9L396.0 972.9L397.4 972.9L398.7 972.9L400.1 972.9L401.4 972.9L402.8 972.9L404.1 972.9L405.5 972.8L406.9 972.8L408.2 972.8L409.6 972.8L410.9 972.8L412.3 972.8L413.6 972.8L415.0 972.8L416.3 972.8L417.7 972.8L419.1 972.8L420.4 972.8L421.8 972.7L423.1 972.7L424.5 972.7L425.8 972.7L427.2 972.7L428.6 972.7L429.9 972.7L431.3 972.7L432.6 972.7L434.0 972.7L435.3 972.7L436.7 972.6L438.1 972.6L439.4 972.6L440.8 972.6L442.1 972.6L443.5 972.6L444.8 972.6L446.2 972.6L447.6 972.6L448.9 972.6L450.3 972.6L451.6 972.5L453.0 972.5L454.3 972.5L455.7 972.5L457.1 972.5L458.4 972.5L459.8 972.5L461.1 972.5L462.5 972.5L463.8 972.5L465.2 972.5L466.6 972.4L467.9 972.4L469.3 972.4L470.6 972.4L472.0 972.4L473.3 972.4L474.7 972.4L476.1 972.4L477.4 972.4L478.8 972.4L480.1 972.4L481.5 972.3L482.8 972.3L484.2 972.3L485.6 972.3L486.9 972.3L488.3 972.3L489.6 972.3L491.0 972.3L492.3 972.3L493.7 972.3L495.1 972.3L496.4 972.2L497.8 972.2L499.1 972.2L500.5 972.2L501.8 972.2L503.2 972.2L504.6 972.2L505.9 972.2L507.3 972.2L508.6 972.2L510.0 972.1L511.3 972.1L512.7 972.1L514.1 972.1L515.4 972.1L516.8 972.1L518.1 972.1L519.5 972.1L520.8 972.1L522.2 972.1L523.6 972.1L524.9 972.0L526.3 972.0L527.6 972.0L529.0 972.0L530.3 972.0L531.7 972.0L533.1 972.0L534.4 972.0L535.8 972.0L537.1 972.0L538.5 972.0L539.8 971.9L541.2 971.9L542.6 971.9L543.9 971.9L545.3 971.9L546.6 971.9L548.0 971.9L549.3 971.9L550.7 971.9L552.1 971.9L553.4 971.8L554.8 971.8L556.1 971.8L557.5 971.8L558.8 971.8L560.2 971.8L561.5 971.8L562.9 971.8L564.3 971.8L565.6 971.7L567.0 971.7L568.3 971.7L569.7 971.7L571.0 971.7L572.4 971.7L573.8 971.7L575.1 971.7L576.5 971.7L577.8 971.6L579.2 971.6L580.5 971.6L581.9 971.6L583.3 971.6L584.6 971.6L586.0 971.6L587.3 971.6L588.7 971.6L590.0 971.5L591.4 971.5L592.8 971.5L594.1 971.5L595.5 971.5L596.8 971.5L598.2 971.5L599.5 971.5L600.9 971.4L602.3 971.4L603.6 971.4L605.0 971.4L606.3 971.4L607.7 971.4L609.0 971.4L610.4 971.4L611.8 971.3L613.1 971.3L614.5 971.3L615.8 971.3L617.2 971.3L618.5 971.3L619.9 971.3L621.3 971.3L622.6 971.2L624.0 971.2L625.3 971.2L626.7 971.2L628.0 971.2L629.4 971.2L630.8 971.2L632.1 971.1L633.5 971.1L634.8 971.1L636.2 971.1L637.5 971.1L638.9 971.1L640.3 971.1L641.6 971.0L643.0 971.0L644.3 971.0L645.7 971.0L647.0 971.0L648.4 971.0L649.8 970.9L651.1 970.9L652.5 970.9L653.8 970.9L655.2 970.9L656.5 970.9L657.9 970.8L659.3 970.8L660.6 970.8L662.0 970.8L663.3 970.8L664.7 970.8L666.0 970.7L667.4 970.7L668.8 970.7L670.1 970.7L671.5 970.7L672.8 970.6L674.2 970.6L675.5 970.6L676.9 970.6L678.2 970.6L679.6 970.6L681.0 970.5L682.3 970.5L683.7 970.5L685.0 970.5L686.4 970.5L687.7 970.4L689.1 970.4L690.5 970.4L691.8 970.4L693.2 970.4L694.5 970.3L695.9 970.3L697.2 970.3L698.6 970.3L700.0 970.3L701.3 970.2L702.7 970.2L704.0 970.2L705.4 970.2L706.7 970.2L708.1 970.1L709.5 970.1L710.8 970.1L712.2 970.1L713.5 970.0L714.9 970.0L716.2 970.0L717.6 970.0L719.0 970.0L720.3 969.9L721.7 969.9L723.0 969.9L724.4 969.9L725.7 969.8L727.1 969.8L728.5 969.8L729.8 969.8L731.2 969.7L732.5 969.7L733.9 969.7L735.2 969.7L736.6 969.6L738.0 969.6L739.3 969.6L740.7 969.6L742.0 969.5L743.4 969.5L744.7 969.5L746.1 969.5L747.5 969.4L748.8 969.4L750.2 969.4L751.5 969.4L752.9 969.3L754.2 969.3L755.6 969.3L757.0 969.3L758.3 969.2L759.7 969.2L761.0 969.2L762.4 969.2L763.7 969.1L765.1 969.1L766.4 969.1L767.8 969.1L769.2 969.0L770.5 969.0L771.9 969.0L773.2 968.9L774.6 968.9L775.9 968.9L777.3 968.9L778.7 968.8L780.0 968.8L781.4 968.8L782.7 968.7L784.1 968.7L785.4 968.7L786.8 968.7L788.2 968.6L789.5 968.6L790.9 968.6L792.2 968.5L793.6 968.5L794.9 968.5L796.3 968.4L797.7 968.4L799.0 968.4L800.4 968.3L801.7 968.3L803.1 968.3L804.4 968.2L805.8 968.2L807.2 968.2L808.5 968.1L809.9 968.1L811.2 968.1L812.6 968.0L813.9 968.0L815.3 968.0L816.7 967.9L818.0 967.9L819.4 967.9L820.7 967.8L822.1 967.8L823.4 967.7L824.8 967.7L826.2 967.7L827.5 967.6L828.9 967.6L830.2 967.6L831.6 967.5L832.9 967.5L834.3 967.4L835.7 967.4L837.0 967.3L838.4 967.3L839.7 967.3L841.1 967.2L842.4 967.2L843.8 967.1L845.1 967.1L846.5 967.0L847.9 967.0L849.2 966.9L850.6 966.9L851.9 966.8L853.3 966.8L854.6 966.7L856.0 966.7L857.4 966.6L858.7 966.6L860.1 966.5L861.4 966.4L862.8 966.4L864.1 966.3L865.5 966.3L866.8 966.2L868.2 966.2L869.5 966.1L870.9 966.0L872.3 966.0L873.6 965.9L875.0 965.8L876.3 965.7L877.7 965.7L879.0 965.6L880.4 965.5L881.7 965.4L883.1 965.3L884.4 965.3L885.8 965.2L887.2 965.1L888.5 965.0L889.9 964.9L891.2 964.8L892.6 964.7L893.9 964.6L895.3 964.5L896.6 964.4L898.0 964.2L899.3 964.1L900.7 964.0L902.0 963.9L903.4 963.8L904.8 963.7L906.1 963.6L907.5 963.4L908.8 963.3L910.2 963.2L911.5 963.1L912.9 963.0L914.2 962.8L915.6 962.7L916.9 962.6L918.3 962.4L919.6 962.3L921.0 962.2L922.3 962.0L923.7 961.9L925.0 961.8L926.4 961.6L927.7 961.5L929.1 961.3L930.4 961.2L931.8 961.1L933.1 960.9L934.5 960.8L935.8 960.6L937.2 960.4L938.5 960.3L939.9 960.1L941.2 960.0L942.6 959.8L943.9 959.7L945.3 959.5L946.6 959.3L948.0 959.2L949.3 959.0L950.7 958.9L952.0 958.7L953.4 958.5L954.7 958.3L956.0 958.1L957.4 958.0L958.7 957.8L960.1 957.6L961.4 957.4L962.8 957.2L964.1 956.9L965.4 956.7L966.8 956.5L968.1 956.3L969.5 956.0L970.8 955.8L972.1 955.5L973.5 955.2L974.8 955.0L976.1 954.7L977.4 954.4L978.7 954.1L980.1 953.7L981.4 953.4L982.7 953.0L984.0 952.7L985.3 952.3L986.6 951.9L987.9 951.5L989.2 951.1L990.5 950.7L991.8 950.2L993.0 949.8L994.3 949.3L995.6 948.9L996.9 948.4L998.2 948.0L999.4 947.5L1000.7 947.0L1002.0 946.5L1003.3 946.0L1004.5 945.5L1005.8 945.0L1007.1 944.5L1008.3 944.0L1009.6 943.5L1010.8 943.0L1012.1 942.4L1013.3 941.9L1014.6 941.3L1015.8 940.7L1017.0 940.1L1018.2 939.5L1019.4 938.9L1020.6 938.2L1021.7 937.6L1022.9 936.9L1024.0 936.2L1025.2 935.4L1026.3 934.7L1027.4 933.9L1028.5 933.1L1029.6 932.3L1030.7 931.5L1031.8 930.6L1032.8 929.8L1033.9 928.9L1034.9 928.0L1035.9 927.1L1036.9 926.2L1037.9 925.3L1038.8 924.3L1039.8 923.3L1040.7 922.4L1041.6 921.4L1042.6 920.3L1043.4 919.3L1044.3 918.2L1045.2 917.2L1046.0 916.1L1046.9 915.0L1047.7 913.9L1048.5 912.8L1049.3 911.7L1050.1 910.6L1050.9 909.4L1051.7 908.3L1052.4 907.2L1053.2 906.0L1054.0 904.9L1054.7 903.7L1055.5 902.6L1056.2 901.4L1057.0 900.3L1057.7 899.1L1058.4 897.9L1059.1 896.8L1059.8 895.6L1060.5 894.4L1061.2 893.2L1061.9 892.0L1062.6 890.8L1063.2 889.6L1063.9 888.4L1064.5 887.2L1065.2 886.0L1065.8 884.7L1066.5 883.5L1067.1 882.3L1067.8 881.1L1068.4 879.8L1069.0 878.6L1069.7 877.4L1070.3 876.2L1071.0 874.9L1071.6 873.7L1072.2 872.5L1072.8 871.2L1073.4 870.0L1074.0 868.8L1074.6 867.5L1075.2 866.3L1075.7 865.0L1076.3 863.7L1076.8 862.5L1077.3 861.2L1077.8 859.9L1078.3 858.6L1078.8 857.3L1079.2 856.0L1079.7 854.8L1080.1 853.5L1080.6 852.2L1081.0 850.9L1081.4 849.6L1081.9 848.3L1082.3 847.0L1082.7 845.7L1083.2 844.4L1083.6 843.1L1084.0 841.8L1084.5 840.5L1084.9 839.2L1085.3 837.9L1085.8 836.6L1086.2 835.3L1086.6 834.0L1087.1 832.7L1087.5 831.4L1087.9 830.1L1088.3 828.8L1088.8 827.5L1089.2 826.2L1089.6 824.9L1090.0 823.6L1090.4 822.3L1090.8 820.9L1091.1 819.6L1091.5 818.3L1091.9 817.0L1092.2 815.7L1092.5 814.4L1092.9 813.1L1093.2 811.8L1093.5 810.4L1093.8 809.1L1094.2 807.8L1094.5 806.5L1094.8 805.2L1095.1 803.8L1095.4 802.5L1095.6 801.2L1095.9 799.8L1096.2 798.5L1096.5 797.2L1096.8 795.8L1097.0 794.5L1097.3 793.2L1097.6 791.8L1097.8 790.5L1098.1 789.2L1098.3 787.8L1098.6 786.5L1098.8 785.2L1099.1 783.8L1099.3 782.5L1099.5 781.1L1099.8 779.8L1100.0 778.5L1100.2 777.1L1100.4 775.8L1100.7 774.4L1100.9 773.1L1101.1 771.8L1101.3 770.4L1101.5 769.1L1101.7 767.7L1101.9 766.4L1102.1 765.0L1102.3 763.7L1102.5 762.4L1102.6 761.0L1102.8 759.7L1103.0 758.3L1103.2 757.0L1103.4 755.6L1103.5 754.3L1103.7 752.9L1103.9 751.6L1104.1 750.2L1104.2 748.9L1104.4 747.5L1104.6 746.2L1104.8 744.8L1104.9 743.5L1105.1 742.1L1105.3 740.8L1105.5 739.5L1105.6 738.1L1105.8 736.8L1106.0 735.4L1106.2 734.1L1106.3 732.7L1106.5 731.4L1106.7 730.0L1106.9 728.7L1107.1 727.3L1107.3 726.0L1107.4 724.7L1107.6 723.3L1107.8 722.0L1108.0 720.6L1108.2 719.3L1108.4 717.9L1108.6 716.6L1108.8 715.2L1108.9 713.9L1109.1 712.6L1109.3 711.2L1109.5 709.9L1109.7 708.5L1109.9 707.2L1110.1 705.8L1110.3 704.5L1110.5 703.2L1110.7 701.8L1111.0 700.5L1111.2 699.1L1111.4 697.8L1111.6 696.5L1111.8 695.1L1112.1 693.8L1112.3 692.4L1112.5 691.1L1112.8 689.8L1113.0 688.4L1113.2 687.1L1113.5 685.8L1113.7 684.4L1113.9 683.1L1114.1 681.7L1114.4 680.4L1114.6 679.1L1114.8 677.7L1115.0 676.4L1115.2 675.0L1115.4 673.7L1115.6 672.4L1115.8 671.0L1116.0 669.7L1116.2 668.3L1116.3 667.0L1116.5 665.6L1116.7 664.3L1116.8 662.9L1117.0 661.6L1117.2 660.2L1117.3 658.9L1117.5 657.5L1117.6 656.2L1117.8 654.8L1117.9 653.5L1118.1 652.1L1118.3 650.8L1118.4 649.5L1118.6 648.1L1118.7 646.8L1118.9 645.4L1119.1 644.1L1119.2 642.7L1119.4 641.4L1119.5 640.0L1119.7 638.7L1119.8 637.3L1120.0 636.0L1120.2 634.6L1120.3 633.3L1120.5 631.9L1120.6 630.6L1120.8 629.2L1121.0 627.9L1121.1 626.5L1121.3 625.2L1121.4 623.9L1121.6 622.5L1121.8 621.2L1121.9 619.8L1122.1 618.5L1122.3 617.1L1122.4 615.8L1122.6 614.4L1122.8 613.1L1123.0 611.7L1123.1 610.4L1123.3 609.1L1123.5 607.7L1123.7 606.4L1123.8 605.0L1124.0 603.7L1124.2 602.3L1124.4 601.0L1124.6 599.6L1124.7 598.3L1124.9 597.0L1125.1 595.6L1125.3 594.3L1125.5 592.9L1125.7 591.6L1125.8 590.2L1126.0 588.9L1126.2 587.6L1126.4 586.2L1126.6 584.9L1126.8 583.5L1127.0 582.2L1127.2 580.8L1127.3 579.5L1127.5 578.1L1127.7 576.8L1127.9 575.5L1128.1 574.1L1128.3 572.8L1128.5 571.4L1128.7 570.1L1128.9 568.7L1129.1 567.4L1129.2 566.0L1129.4 564.7L1129.6 563.3L1129.8 562.0L1130.0 560.7L1130.2 559.3L1130.4 558.0L1130.6 556.6L1130.8 555.3L1131.0 553.9L1131.2 552.6L1131.4 551.2L1131.6 549.9L1131.8 548.6L1132.0 547.2L1132.2 545.9L1132.4 544.5L1132.6 543.2L1132.8 541.8L1133.0 540.5L1133.2 539.2L1133.4 537.8L1133.6 536.5L1133.8 535.1L1134.0 533.8L1134.2 532.4L1134.4 531.1L1134.6 529.8L1134.8 528.4L1135.0 527.1L1135.2 525.7L1135.4 524.4L1135.7 523.1L1135.9 521.7L1136.1 520.4L1136.3 519.0L1136.5 517.7L1136.7 516.4L1136.9 515.0L1137.2 513.7L1137.4 512.3L1137.6 511.0L1137.8 509.7L1138.0 508.3L1138.3 507.0L1138.5 505.7L1138.7 504.3L1139.0 503.0L1139.2 501.7L1139.4 500.3L1139.7 499.0L1139.9 497.7L1140.1 496.3L1140.4 495.0L1140.6 493.7L1140.9 492.3L1141.1 491.0L1141.3 489.7L1141.6 488.3L1141.8 487.0L1142.1 485.7L1142.4 484.4L1142.6 483.0L1142.9 481.7L1143.1 480.4L1143.4 479.1L1143.6 477.7L1143.9 476.4L1144.2 475.1L1144.4 473.8L1144.7 472.4L1145.0 471.1L1145.3 469.8L1145.5 468.5L1145.8 467.2L1146.0 465.8L1146.3 464.5L1146.6 463.2L1146.9 461.9L1147.1 460.6L1147.4 459.3L1147.7 457.9L1148.0 456.6L1148.4 455.3L1148.7 454.0L1149.0 452.7L1149.3 451.4L1149.7 450.1L1150.0 448.8L1150.4 447.5L1150.8 446.2L1151.1 444.9L1151.5 443.6L1151.9 442.3L1152.3 441.0L1152.7 439.8L1153.1 438.5L1153.5 437.2L1153.9 435.9L1154.3 434.6L1154.7 433.4L1155.2 432.1L1155.6 430.8L1156.1 429.5L1156.5 428.3L1157.0 427.0L1157.4 425.7L1157.9 424.5L1158.4 423.2L1158.8 422.0L1159.3 420.7L1159.8 419.4L1160.3 418.2L1160.8 417.0L1161.3 415.7L1161.9 414.5L1162.4 413.3L1163.0 412.1L1163.6 410.9L1164.2 409.7L1164.8 408.5L1165.4 407.3L1166.0 406.1L1166.7 404.9L1167.3 403.7L1167.9 402.5L1168.5 401.3L1169.1 400.2L1169.7 398.9L1170.3 397.7L1170.9 396.5L1171.4 395.3L1172.0 394.1L1172.5 392.8L1173.1 391.6L1173.6 390.4L1174.1 389.2L1174.7 387.9L1175.2 386.7L1175.8 385.5L1176.4 384.3L1177.0 383.1L1177.6 381.9L1178.2 380.7L1178.9 379.5L1179.5 378.4L1180.2 377.2L1180.9 376.1L1181.7 375.0L1182.4 373.9L1183.2 372.8L1184.0 371.7L1184.8 370.7L1185.7 369.7L1186.6 368.7L1187.5 367.7L1188.4 366.7L1189.3 365.7L1190.3 364.8L1191.2 363.9L1192.2 363.0L1193.2 362.1L1194.2 361.2L1195.2 360.3L1196.3 359.5L1197.3 358.6L1198.4 357.8L1199.4 357.0L1200.5 356.2L1201.6 355.4L1202.7 354.6L1203.8 353.9L1204.9 353.1L1206.0 352.3L1207.1 351.6L1208.2 350.9L1209.4 350.2L1210.5 349.4L1211.6 348.8L1212.8 348.1L1214.0 347.4L1215.1 346.7L1216.3 346.1L1217.5 345.5L1218.7 344.8L1219.9 344.3L1221.1 343.7L1222.3 343.1L1223.5 342.6L1224.8 342.0L1226.0 341.5L1227.2 341.0L1228.5 340.5L1229.7 340.0L1231.0 339.6L1232.3 339.1L1233.6 338.7L1234.8 338.3L1236.1 337.8L1237.4 337.4L1238.7 337.0L1240.0 336.6L1241.3 336.3L1242.6 335.9L1243.9 335.5L1245.2 335.1L1246.5 334.8L1247.8 334.4L1249.1 334.1L1250.4 333.8L1251.7 333.4L1253.0 333.1L1254.3 332.8L1255.6 332.5L1256.9 332.2L1258.3 331.9L1259.6 331.6L1260.9 331.4L1262.2 331.1L1263.5 330.8L1264.9 330.6L1266.2 330.3L1267.5 330.1L1268.9 329.9L1270.2 329.6L1271.5 329.4L1272.9 329.2L1274.2 329.0L1275.5 328.8L1276.9 328.6L1278.2 328.4L1279.5 328.2L1280.9 328.0L1282.2 327.9L1283.6 327.7L1284.9 327.5L1286.3 327.4L1287.6 327.2L1288.9 327.1L1290.3 326.9L1291.6 326.8L1293.0 326.6L1294.3 326.5L1295.7 326.4L1297.0 326.2L1298.4 326.1L1299.7 326.0L1301.1 325.9L1302.4 325.8L1303.8 325.6L1305.1 325.5L1306.5 325.4L1307.8 325.3L1309.2 325.2L1310.5 325.1L1311.9 325.0L1313.2 324.9L1314.6 324.8L1315.9 324.7L1317.3 324.6L1318.6 324.5L1320.0 324.4L1321.3 324.3L1322.7 324.2L1324.0 324.1L1325.4 324.0L1326.7 323.9L1328.1 323.8L1329.4 323.7L1330.8 323.6L1332.1 323.5L1333.5 323.4L1334.8 323.3L1336.2 323.2L1337.5 323.1L1338.9 323.0L1340.2 323.0L1341.6 322.9L1342.9 322.8L1344.3 322.7L1345.6 322.6L1347.0 322.5L1348.3 322.4L1349.7 322.3L1351.1 322.2L1352.4 322.2L1353.8 322.1L1355.1 322.0L1356.5 321.9L1357.8 321.8L1359.2 321.8L1360.5 321.7L1361.9 321.6L1363.2 321.5L1364.6 321.5L1365.9 321.4L1367.3 321.3L1368.6 321.2L1370.0 321.2L1371.4 321.1L1372.7 321.0L1374.1 321.0L1375.4 320.9L1376.8 320.8L1378.1 320.8L1379.5 320.7L1380.8 320.7L1382.2 320.6L1383.5 320.6L1384.9 320.5L1386.2 320.4L1387.6 320.4L1389.0 320.4L1390.3 320.3L1391.7 320.3L1393.0 320.2L1394.4 320.2L1395.7 320.1L1397.1 320.1L1398.4 320.1L1399.8 320.0L1401.1 320.0L1402.5 319.9L1403.9 319.9L1405.2 319.9L1406.6 319.8L1407.9 319.8L1409.3 319.8L1410.6 319.7L1412.0 319.7L1413.3 319.7L1414.7 319.6L1416.0 319.6L1417.4 319.6L1418.8 319.5L1420.1 319.5L1421.5 319.5L1422.8 319.4L1424.2 319.4L1425.5 319.4L1426.9 319.4L1428.2 319.3L1429.6 319.3L1431.0 319.3L1432.3 319.2L1433.7 319.2L1435.0 319.2L1436.4 319.2L1437.7 319.1L1439.1 319.1L1440.4 319.1L1441.8 319.1L1443.2 319.0L1444.5 319.0L1445.9 319.0L1447.2 318.9L1448.6 318.9L1449.9 318.9L1451.3 318.9L1452.6 318.8L1454.0 318.8L1455.4 318.8L1456.7 318.8L1458.1 318.7L1459.4 318.7L1460.8 318.7L1462.1 318.7L1463.5 318.7L1464.9 318.6L1466.2 318.6L1467.6 318.6L1468.9 318.6L1470.3 318.5L1471.6 318.5L1473.0 318.5L1474.3 318.5L1475.7 318.5L1477.1 318.4L1478.4 318.4L1479.8 318.4L1481.1 318.4L1482.5 318.4L1483.8 318.3L1485.2 318.3L1486.6 318.3L1487.9 318.3L1489.3 318.3L1490.6 318.2L1492.0 318.2L1493.3 318.2L1494.7 318.2L1496.1 318.2L1497.4 318.1L1498.8 318.1L1500.1 318.1L1501.5 318.1L1502.8 318.1L1504.2 318.1L1505.5 318.0L1506.9 318.0L1508.3 318.0L1509.6 318.0L1511.0 318.0L1512.3 317.9L1513.7 317.9L1515.0 317.9L1516.4 317.9L1517.8 317.9L1519.1 317.9L1520.5 317.8L1521.8 317.8L1523.2 317.8L1524.5 317.8L1525.9 317.8L1527.3 317.8L1528.6 317.8L1530.0 317.7L1531.3 317.7L1532.7 317.7L1534.0 317.7L1535.4 317.7L1536.8 317.7L1538.1 317.6L1539.5 317.6L1540.8 317.6L1542.2 317.6L1543.5 317.6L1544.9 317.6L1546.3 317.6L1547.6 317.5L1549.0 317.5L1550.3 317.5L1551.7 317.5L1553.0 317.5L1554.4 317.5L1555.8 317.4L1557.1 317.4L1558.5 317.4L1559.8 317.4L1561.2 317.4L1562.5 317.4L1563.9 317.4L1565.2 317.3L1566.6 317.3L1568.0 317.3L1569.3 317.3L1570.7 317.3L1572.0 317.3L1573.4 317.3L1574.7 317.2L1576.1 317.2L1577.5 317.2L1578.8 317.2L1580.2 317.2L1581.5 317.2L1582.9 317.2L1584.2 317.1L1585.6 317.1L1587.0 317.1L1588.3 317.1L1589.7 317.1L1591.0 317.1L1592.4 317.0L1593.7 317.0L1595.1 317.0L1596.5 317.0L1597.8 317.0L1599.2 317.0L1600.5 317.0L1601.9 316.9L1603.2 316.9L1604.6 316.9L1605.9 316.9L1607.3 316.9L1608.7 316.9L1610.0 316.9L1611.4 316.8L1612.7 316.8L1614.1 316.8L1615.4 316.8L1616.8 316.8L1618.2 316.8L1619.5 316.8L1620.9 316.7L1622.2 316.7L1623.6 316.7L1624.9 316.7L1626.3 316.7L1627.7 316.7L1629.0 316.7L1630.4 316.6L1631.7 316.6L1633.1 316.6L1634.4 316.6L1635.8 316.6L1637.1 316.6L1638.5 316.6L1639.9 316.5L1641.2 316.5L1642.6 316.5L1643.9 316.5L1645.3 316.5L1646.6 316.5L1648.0 316.5L1649.4 316.5L1650.7 316.4L1652.1 316.4L1653.4 316.4L1654.8 316.4L1656.1 316.4L1657.5 316.4L1658.9 316.4L1660.2 316.4L1661.6 316.3L1662.9 316.3L1664.3 316.3L1665.6 316.3L1667.0 316.3L1668.4 316.3L1669.7 316.3L1671.1 316.3L1672.4 316.3L1673.8 316.2L1675.1 316.2L1676.5 316.2L1677.8 316.2L1679.2 316.2L1680.6 316.2L1681.9 316.2L1683.3 316.2L1684.6 316.1L1686.0 316.1L1687.3 316.1L1688.7 316.1L1690.1 316.1L1691.4 316.1L1692.8 316.1L1694.1 316.1L1695.5 316.1L1696.8 316.0L1698.2 316.0L1699.6 316.0L1700.9 316.0L1702.3 316.0L1703.6 316.0L1705.0 316.0L1706.3 316.0L1707.7 316.0L1709.1 316.0L1710.4 316.0L1711.8 316.0L1713.1 315.9L1714.5 315.9L1715.8 315.9L1717.2 315.9L1718.5 315.9L1719.9 315.9L1721.3 315.9L1722.6 315.9L1724.0 315.9L1725.3 315.9L1726.7 315.9L1728.0 315.9L1729.4 315.9L1730.8 315.8L1732.1 315.8L1733.5 315.8L1734.8 315.8L1736.2 315.8L1737.5 315.8L1738.9 315.8L1740.3 315.8L1741.6 315.8L1743.0 315.8L1744.3 315.8L1745.7 315.8L1747.0 315.8L1748.4 315.7L1749.8 315.7L1751.1 315.7L1752.5 315.7L1753.8 315.7L1755.2 315.7L1756.5 315.7L1757.9 315.7L1759.2 315.7L1760.6 315.7L1762.0 315.7L1763.3 315.7L1764.7 315.7L1766.0 315.7L1767.4 315.7L1768.7 315.6L1770.1 315.6L1771.5 315.6L1772.8 315.6L1774.2 315.6L1775.5 315.6L1776.9 315.6L1778.2 315.6L1779.6 315.6L1781.0 315.6L1782.3 315.6L1783.7 315.6L1785.0 315.6L1786.4 315.6L1787.7 315.5L1789.1 315.5L1790.5 315.5L1791.8 315.5L1793.2 315.5L1794.5 315.5L1795.9 315.5L1797.2 315.5L1798.6 315.5L1799.9 315.5L1801.3 315.5L1802.7 315.5L1804.0 315.5L1805.4 315.5L1806.7 315.5L1808.1 315.5L1809.4 315.4L1810.8 315.4L1812.2 315.4L1813.5 315.4L1814.9 315.4L1816.2 315.4L1817.6 315.4L1818.9 315.4L1820.3 315.4L1821.7 315.4L1823.0 315.4L1824.4 315.4L1825.7 315.4L1827.1 315.4L1828.4 315.4L1829.8 315.4L1831.2 315.3L1832.5 315.3L1833.9 315.3L1835.2 315.3L1836.6 315.3L1837.9 315.3L1839.3 315.3L1840.7 315.3L1842.0 315.3L1843.4 315.3L1844.7 315.3L1846.1 315.3L1847.4 315.3L1848.8 315.3L1850.1 315.3L1851.5 315.3L1852.9 315.3L1854.2 315.3L1855.6 315.3L1856.9 315.2L1858.3 315.2L1859.6 315.2L1861.0 315.2L1862.4 315.2L1863.7 315.2L1865.1 315.2L1866.4 315.2L1867.8 315.2L1869.1 315.2L1870.5 315.2L1871.9 315.2L1873.2 315.2L1874.6 315.2L1875.9 315.2L1877.3 315.2L1878.6 315.2L1880.0 315.2L1881.4 315.2L1882.7 315.2" fill="none" stroke="#00f" stroke-width="6" stroke-linecap="round" stroke-linejoin="round"/>
</g>
<g id="labels" fill="#000" filter="url(#crisp)">
<text transform="translate(279.6,73.7) scale(1.0,1.04)" font-size="72" text-anchor="end" font-family="Liberation Sans, Arial, sans-serif">80</text>
<text transform="translate(279.6,221.5) scale(1.0,1.04)" font-size="72" text-anchor="end" font-family="Liberation Sans, Arial, sans-serif">60</text>
<text transform="translate(279.6,369.3) scale(1.0,1.04)" font-size="72" text-anchor="end" font-family="Liberation Sans, Arial, sans-serif">40</text>
<text transform="translate(279.6,517.1) scale(1.0,1.04)" font-size="72" text-anchor="end" font-family="Liberation Sans, Arial, sans-serif">20</text>
<text transform="translate(279.6,665.0) scale(1.0,1.04)" font-size="72" text-anchor="end" font-family="Liberation Sans, Arial, sans-serif">0</text>
<text transform="translate(279.6,812.8) scale(1.0,1.04)" font-size="72" text-anchor="end" font-family="Liberation Sans, Arial, sans-serif">-20</text>
<text transform="translate(279.6,960.6) scale(1.0,1.04)" font-size="72" text-anchor="end" font-family="Liberation Sans, Arial, sans-serif">-40</text>
<text transform="translate(279.6,1108.4) scale(1.0,1.04)" font-size="72" text-anchor="end" font-family="Liberation Sans, Arial, sans-serif">-60</text>
<text transform="translate(279.6,1256.2) scale(1.0,1.04)" font-size="72" text-anchor="end" font-family="Liberation Sans, Arial, sans-serif">-80</text>
<text transform="translate(319.6,1329) scale(1.0,1.04)" font-size="72" text-anchor="middle" font-family="Liberation Sans, Arial, sans-serif">-10000</text>
<text transform="translate(1113.5,1329) scale(1.0,1.04)" font-size="72" text-anchor="middle" font-family="Liberation Sans, Arial, sans-serif">0</text>
<text transform="translate(1908.7,1329) scale(0.992,1.04)" font-size="72" text-anchor="middle" font-family="Liberation Sans, Arial, sans-serif">10000</text>
<text transform="translate(1113.7,1452) scale(1.003,1.01)" font-size="77.5" text-anchor="middle" font-family="Liberation Sans, Arial, sans-serif">Magnetic Field / Oe</text>
<text transform="translate(78,655.5) rotate(-90) scale(1.003,1.0)" font-size="77.5" text-anchor="middle" font-family="Liberation Sans, Arial, sans-serif">Magnetization / emu/g</text>
<line x1="358.5" y1="167.3" x2="520.5" y2="167.3" stroke="#000" stroke-width="5.5" stroke-linecap="round"/>
<text transform="translate(540,192.3) scale(1.0,1.044)" font-size="72" text-anchor="start" font-family="Liberation Sans, Arial, sans-serif">Fe<tspan font-size="43" dy="23.6">3</tspan><tspan font-size="72" dy="-23.6">O</tspan><tspan font-size="43" dy="23.6">4</tspan></text>
<line x1="358.5" y1="276.9" x2="520.5" y2="276.9" stroke="#f00" stroke-width="6" stroke-linecap="round"/>
<text transform="translate(540,301.9) scale(1.0,1.044)" font-size="72" text-anchor="start" font-family="Liberation Sans, Arial, sans-serif">Fe<tspan font-size="43" dy="23.6">3</tspan><tspan font-size="72" dy="-23.6">O</tspan><tspan font-size="43" dy="23.6">4</tspan><tspan font-size="72" dy="-23.6">@SiO</tspan><tspan font-size="43" dy="23.6">2</tspan></text>
<line x1="358.5" y1="386.5" x2="520.5" y2="386.5" stroke="#00f" stroke-width="6" stroke-linecap="round"/>
<text transform="translate(540,411.5) scale(1.0,1.044)" font-size="72" text-anchor="start" font-family="Liberation Sans, Arial, sans-serif">Fe<tspan font-size="43" dy="23.6">3</tspan><tspan font-size="72" dy="-23.6">O</tspan><tspan font-size="43" dy="23.6">4</tspan><tspan font-size="72" dy="-23.6">@SiO</tspan><tspan font-size="43" dy="23.6">2</tspan><tspan font-size="72" dy="-23.6">-XO</tspan></text>
<text transform="translate(1820.8,191.5) scale(1.02,1.01)" font-size="60" text-anchor="middle" font-family="Liberation Sans, Arial, sans-serif">(a)</text>
<text transform="translate(1820.8,268) scale(1.02,1.01)" font-size="60" text-anchor="middle" font-family="Liberation Sans, Arial, sans-serif">(b)</text>
<text transform="translate(1820.8,372.5) scale(1.02,1.01)" font-size="60" text-anchor="middle" font-family="Liberation Sans, Arial, sans-serif">(c)</text>
</g>
</svg>
</body>
</html>
